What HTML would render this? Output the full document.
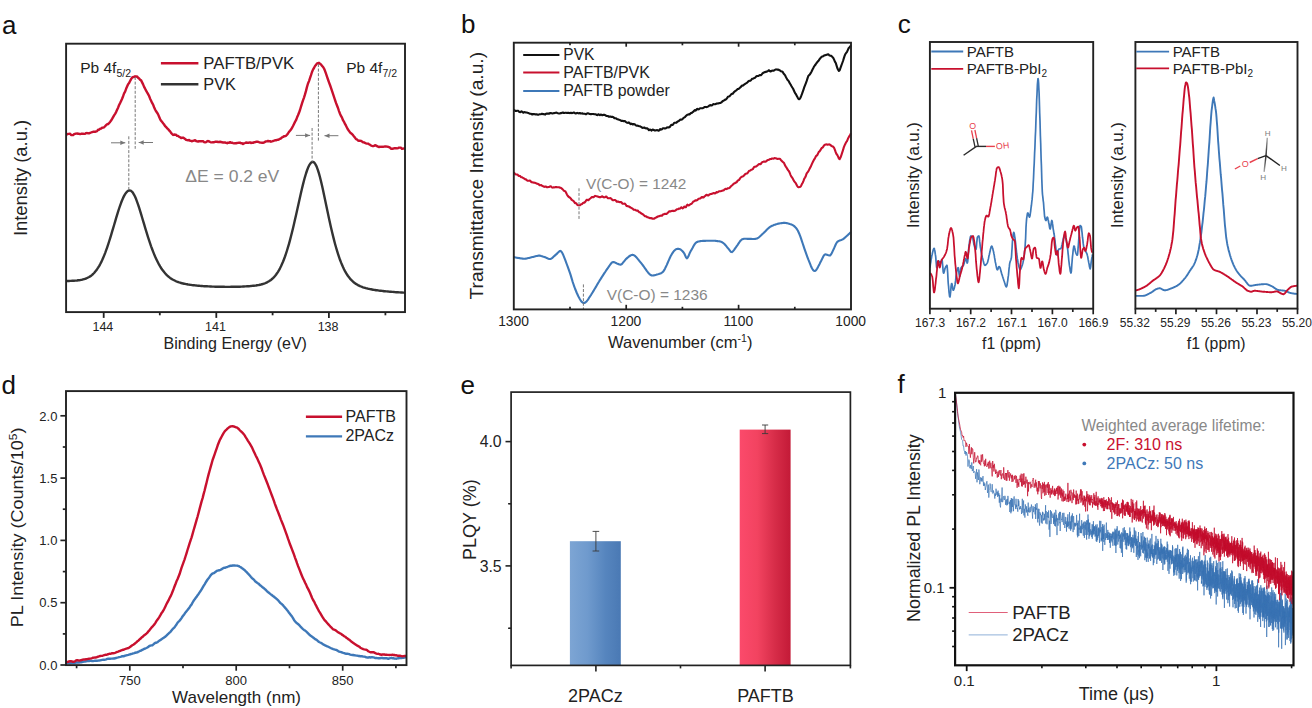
<!DOCTYPE html>
<html lang="en"><head><meta charset="utf-8"><title>Figure</title>
<style>
html,body{margin:0;padding:0;background:#fff;}
svg{display:block;font-family:'Liberation Sans', Arial, Helvetica, sans-serif;}
text{white-space:pre;}
</style></head><body>
<svg width="1312" height="708" viewBox="0 0 1312 708">
<rect x="0" y="0" width="1312" height="708" fill="#fff"/>
<g>
<path d="M66.1 281.1L67.1 281L68.1 281L69.1 281L70.1 280.9L71.1 280.9L72.1 280.8L73.1 280.8L74.1 280.7L75.1 280.6L76.1 280.6L77.1 280.5L78.1 280.3L79.1 280.2L80.1 280.1L81.1 279.9L82.1 279.7L83.1 279.4L84.1 279.1L85.1 278.8L86.1 278.5L87.1 278L88.1 277.5L89.1 277L90.1 276.4L91.1 275.7L92.1 274.9L93.1 274L94.1 273L95.1 271.8L96.1 270.6L97.1 269.2L98.1 267.7L99.1 266.1L100.1 264.3L101.1 262.4L102.1 260.3L103.1 258L104.1 255.6L105.1 253.1L106.1 250.4L107.1 247.6L108.1 244.6L109.1 241.5L110.1 238.4L111.1 235.1L112.1 231.7L113.1 228.4L114.1 225L115.1 221.6L116.1 218.2L117.1 214.9L118.1 211.6L119.1 208.5L120.1 205.6L121.1 202.8L122.1 200.2L123.1 197.9L124.1 195.9L125.1 194.1L126.1 192.7L127.1 191.6L128.1 190.8L129.1 190.5L130.1 190.5L131.1 190.9L132.1 191.8L133.1 193.1L134.1 194.8L135.1 196.8L136.1 199.1L137.1 201.8L138.1 204.6L139.1 207.7L140.1 210.8L141.1 214.1L142.1 217.5L143.1 220.8L144.1 224.2L145.1 227.6L146.1 230.9L147.1 234.2L148.1 237.3L149.1 240.4L150.1 243.4L151.1 246.3L152.1 249L153.1 251.6L154.1 254.1L155.1 256.5L156.1 258.7L157.1 260.8L158.1 262.8L159.1 264.7L160.1 266.4L161.1 268L162.1 269.5L163.1 270.8L164.1 272.1L165.1 273.3L166.1 274.4L167.1 275.4L168.1 276.3L169.1 277.1L170.1 277.9L171.1 278.6L172.1 279.2L173.1 279.8L174.1 280.3L175.1 280.8L176.1 281.3L177.1 281.7L178.1 282L179.1 282.4L180.1 282.7L181.1 283L182.1 283.3L183.1 283.5L184.1 283.7L185.1 283.9L186.1 284.1L187.1 284.3L188.1 284.5L189.1 284.6L190.1 284.8L191.1 284.9L192.1 285.1L193.1 285.2L194.1 285.3L195.1 285.4L196.1 285.5L197.1 285.6L198.1 285.7L199.1 285.8L200.1 285.9L201.1 286L202.1 286L203.1 286.1L204.1 286.2L205.1 286.2L206.1 286.3L207.1 286.3L208.1 286.4L209.1 286.4L210.1 286.5L211.1 286.5L212.1 286.6L213.1 286.6L214.1 286.6L215.1 286.7L216.1 286.7L217.1 286.7L218.1 286.8L219.1 286.8L220.1 286.8L221.1 286.8L222.1 286.8L223.1 286.8L224.1 286.8L225.1 286.9L226.1 286.9L227.1 286.9L228.1 286.9L229.1 286.9L230.1 286.9L231.1 286.8L232.1 286.8L233.1 286.8L234.1 286.8L235.1 286.8L236 286.8L237 286.7L238 286.7L239 286.7L240 286.7L241 286.6L242 286.6L243 286.5L244 286.5L245 286.4L246 286.4L247 286.3L248 286.3L249 286.2L250 286.1L251 286L252 285.9L253 285.8L254 285.7L255 285.6L256 285.5L257 285.3L258 285.1L259 285L260 284.7L261 284.5L262 284.2L263 284L264 283.6L265 283.3L266 282.8L267 282.4L268 281.8L269 281.3L270 280.6L271 279.9L272 279L273 278.1L274 277.1L275 276L276 274.7L277 273.3L278 271.8L279 270.1L280 268.3L281 266.3L282 264.1L283 261.8L284 259.2L285 256.5L286 253.6L287 250.5L288 247.2L289 243.8L290 240.1L291 236.3L292 232.3L293 228.2L294 224L295 219.6L296 215.2L297 210.7L298 206.2L299 201.7L300 197.2L301 192.8L302 188.5L303 184.4L304 180.5L305 176.8L306 173.5L307 170.5L308 167.8L309 165.7L310 164L311 162.8L312 162.1L313 161.9L314 162.4L315 163.5L316 165.3L317 167.6L318 170.4L319 173.6L320 177.3L321 181.3L322 185.6L323 190.1L324 194.7L325 199.4L326 204.2L327 209L328 213.7L329 218.4L330 223L331 227.4L332 231.7L333 235.9L334 239.9L335 243.7L336 247.3L337 250.7L338 253.9L339 256.9L340 259.8L341 262.4L342 264.8L343 267.1L344 269.2L345 271.1L346 272.9L347 274.5L348 276L349 277.3L350 278.6L351 279.7L352 280.7L353 281.6L354 282.5L355 283.2L356 283.9L357 284.5L358 285.1L359 285.6L360 286.1L361 286.5L362 286.9L363 287.3L364 287.6L365 287.9L366 288.2L367 288.4L368 288.7L369 288.9L370 289.1L371 289.3L372 289.5L373 289.7L374 289.9L375 290L376 290.2L377 290.3L378 290.4L379 290.6L380 290.7L381 290.8L382 290.9L383 291L384 291.2L385 291.3L386 291.4L387 291.4L388 291.5L389 291.6L390 291.7L391 291.8L392 291.9L393 291.9L394 292L395 292.1L396 292.2L397 292.2L398 292.3L399 292.4L400 292.4L401 292.5L402 292.5L403 292.6L404 292.6L405 292.7" fill="none" stroke="#333" stroke-width="2.4" stroke-linejoin="round" stroke-linecap="butt" />
<path d="M66.1 134.5L67.1 134.3L68.1 133.9L69.1 133.9L70.1 133.7L71.1 135L72.1 135.1L73.1 135.1L74.1 134.1L75.1 133.8L76.1 133.6L77.1 133.5L78.1 133.7L79.1 133.8L80.1 134.1L81.1 133.8L82.1 133.8L83.1 133.8L84.1 133.9L85.1 133.7L86.1 133.1L87.1 133L88.1 133.4L89.1 133.3L90.1 132.9L91.1 132.5L92.1 132.1L93.1 131.8L94.1 131.6L95.1 131.7L96.1 131.5L97.1 131.1L98.1 129.8L99.1 129.7L100.1 128.8L101.1 128.6L102.1 127.8L103.1 127.6L104.1 127.3L105.1 126.2L106.1 125.1L107.1 124.3L108.1 124L109.1 123.1L110.1 121.9L111.1 120.5L112.1 118.9L113.1 117.1L114.1 115.3L115.1 113.8L116.1 112.1L117.1 109.8L118.1 107.7L119.1 105L120.1 103.1L121.1 100.9L122.1 98.8L123.1 96.2L124.1 93.4L125.1 91.7L126.1 88.8L127.1 86.5L128.1 84.3L129.1 83.1L130.1 81L131.1 79.1L132.1 77.6L133.1 77L134.1 77L135.1 76.3L136.1 76.7L137.1 76.4L138.1 77.7L139.1 78.5L140.1 79.8L141.1 80.4L142.1 82.4L143.1 84.4L144.1 86.9L145.1 88.7L146.1 90.6L147.1 92.4L148.1 94.1L149.1 96L150.1 98.7L151.1 100.7L152.1 102.9L153.1 104.6L154.1 107.2L155.1 109.5L156.1 111.3L157.1 112.7L158.1 114.4L159.1 116.8L160.1 119.1L161.1 120.8L162.1 121.9L163.1 123.3L164.1 124.5L165.1 126.1L166.1 127L167.1 128.3L168.1 129.1L169.1 130.4L170.1 131.4L171.1 132.9L172.1 134L173.1 135L174.1 134.5L175.1 134.7L176.1 134.7L177.1 135.9L178.1 135.9L179.1 136.8L180.1 137.3L181.1 138L182.1 137.8L183.1 137.6L184.1 138.2L185.1 138.9L186.1 139.9L187.1 140.1L188.1 140.3L189.1 140L190.1 140.7L191.1 140.9L192.1 141.3L193.1 140.8L194.1 140.6L195.1 140.2L196.1 141L197.1 141.3L198.1 141.6L199.1 141.1L200.1 141.2L201.1 141.2L202.1 141.1L203.1 141.2L204.1 142.1L205.1 142.4L206.1 142.1L207.1 141.3L208.1 141L209.1 141.4L210.1 142L211.1 142.4L212.1 142.4L213.1 142.2L214.1 142.3L215.1 141.8L216.1 141.7L217.1 141.8L218.1 142L219.1 142L220.1 141.8L221.1 142L222.1 142.3L223.1 142.5L224.1 142.5L225.1 142.5L226.1 142.8L227.1 143.3L228.1 142.6L229.1 142.7L230.1 142.1L231.1 142.7L232.1 142.7L233.1 143.1L234.1 143.4L235.1 143.2L236 143.3L237 143L238 142.9L239 142.7L240 142.6L241 143.2L242 143.3L243 144L244 143.4L245 143L246 142.5L247 142.7L248 142.6L249 142.7L250 142.4L251 143L252 142.7L253 142.9L254 142.3L255 142.2L256 141.7L257 141.6L258 141.8L259 142.2L260 142.5L261 142.6L262 142.7L263 142.7L264 142.5L265 141.9L266 141.4L267 141.4L268 140.9L269 141.4L270 141.1L271 141.7L272 141.4L273 141L274 140.7L275 140.3L276 140.3L277 139.9L278 139.8L279 139.4L280 138.8L281 138.4L282 137.4L283 137L284 136.1L285 136.2L286 135.8L287 134.7L288 133.4L289 131.9L290 130.8L291 129.5L292 127.9L293 126L294 123.9L295 121.9L296 120.2L297 117.6L298 115.3L299 112.8L300 110L301 106.7L302 103.4L303 100.3L304 97.6L305 94.4L306 90.9L307 86.9L308 83.5L309 81.1L310 78.1L311 75.2L312 72L313 69.6L314 68L315 66L316 64.9L317 63.4L318 63.3L319 62.8L320 63.7L321 64.4L322 65.9L323 66.8L324 68.5L325 70.8L326 73.6L327 76.6L328 79.5L329 82.3L330 85L331 87.9L332 90.9L333 93.9L334 96.8L335 100L336 102.9L337 105.5L338 108L339 111.1L340 113.7L341 115.9L342 117.6L343 120.2L344 121.8L345 123.9L346 125.7L347 127.7L348 129.6L349 130.9L350 132.4L351 133.3L352 134L353 135.1L354 136.5L355 137.6L356 139.1L357 139.4L358 140.6L359 140.8L360 140.8L361 140.9L362 141.5L363 142.2L364 142.4L365 142.9L366 143.3L367 143.6L368 143.6L369 144.3L370 144.8L371 145.5L372 145.9L373 146.2L374 145.9L375 145.3L376 145.5L377 146.1L378 146.7L379 147L380 146.8L381 146.9L382 146.7L383 146.9L384 146.6L385 146.4L386 146.5L387 146.6L388 146.8L389 147.2L390 147.6L391 148.7L392 148.8L393 148.7L394 148.2L395 148.2L396 148.2L397 148.4L398 148.1L399 147.6L400 147.6L401 147.7L402 148.9L403 148.6L404 148.5L405 148.5" fill="none" stroke="#C8102E" stroke-width="2.4" stroke-linejoin="round" stroke-linecap="butt" />
<line x1="135.2" y1="77" x2="135.2" y2="148.8" stroke="#777" stroke-width="1" stroke-dasharray="3 1.6"/>
<line x1="128.8" y1="136.3" x2="128.8" y2="190" stroke="#777" stroke-width="1" stroke-dasharray="3 1.6"/>
<line x1="318.4" y1="64" x2="318.4" y2="140.9" stroke="#777" stroke-width="1" stroke-dasharray="3 1.6"/>
<line x1="312.1" y1="128" x2="312.1" y2="162" stroke="#777" stroke-width="1" stroke-dasharray="3 1.6"/>
<line x1="111" y1="142.8" x2="125.3" y2="142.8" stroke="#777" stroke-width="1" /><path d="M125.3 142.8 L120.3 140.6 L120.3 145 Z" fill="#777"/>
<line x1="153" y1="142.5" x2="138.7" y2="142.5" stroke="#777" stroke-width="1" /><path d="M138.7 142.5 L143.7 140.3 L143.7 144.7 Z" fill="#777"/>
<line x1="295.9" y1="135.4" x2="310.1" y2="135.4" stroke="#777" stroke-width="1" /><path d="M310.1 135.4 L305.1 133.2 L305.1 137.6 Z" fill="#777"/>
<line x1="338.4" y1="135.7" x2="324.5" y2="135.7" stroke="#777" stroke-width="1" /><path d="M324.5 135.7 L329.5 133.5 L329.5 137.9 Z" fill="#777"/>
<rect x="66.1" y="43.7" width="338.9" height="268.4" fill="none" stroke="#222" stroke-width="1.9"/>
<line x1="103.7" y1="312.1" x2="103.7" y2="317.9" stroke="#222" stroke-width="1.8" />
<text x="102.9" y="331.4" font-size="12.5" fill="#222" text-anchor="middle" >144</text>
<line x1="216.3" y1="312.1" x2="216.3" y2="317.9" stroke="#222" stroke-width="1.8" />
<text x="215.5" y="331.4" font-size="12.5" fill="#222" text-anchor="middle" >141</text>
<line x1="328.9" y1="312.1" x2="328.9" y2="317.9" stroke="#222" stroke-width="1.8" />
<text x="328.1" y="331.4" font-size="12.5" fill="#222" text-anchor="middle" >138</text>
<line x1="159.8" y1="312.1" x2="159.8" y2="315.3" stroke="#222" stroke-width="1.8" />
<line x1="272.6" y1="312.1" x2="272.6" y2="315.3" stroke="#222" stroke-width="1.8" />
<line x1="385.4" y1="312.1" x2="385.4" y2="315.3" stroke="#222" stroke-width="1.8" />
<text x="235.2" y="348.8" font-size="16" fill="#222" text-anchor="middle" textLength="143.5" lengthAdjust="spacingAndGlyphs" >Binding Energy (eV)</text>
<text x="26.7" y="178" font-size="18" fill="#222" text-anchor="middle" transform="rotate(-90 26.7 178)" textLength="116" lengthAdjust="spacingAndGlyphs" >Intensity (a.u.)</text>
<text x="2" y="34" font-size="26" fill="#111" text-anchor="start" >a</text>
<line x1="160.9" y1="63.3" x2="198.4" y2="63.3" stroke="#C8102E" stroke-width="2.4" />
<line x1="160.9" y1="84.3" x2="198.4" y2="84.3" stroke="#333" stroke-width="2.4" />
<text x="203.3" y="69" font-size="16.3" fill="#222" text-anchor="start" textLength="91" lengthAdjust="spacingAndGlyphs" >PAFTB/PVK</text>
<text x="203.3" y="89.9" font-size="16.3" fill="#222" text-anchor="start" >PVK</text>
<text x="80.2" y="72.5" font-size="15.5" fill="#222" text-anchor="start" >Pb 4f<tspan font-size="10.5" dy="4.2">5/2</tspan></text>
<text x="346.2" y="72.5" font-size="15.5" fill="#222" text-anchor="start" >Pb 4f<tspan font-size="10.5" dy="4.2">7/2</tspan></text>
<text x="185.3" y="181.7" font-size="16" fill="#888" text-anchor="start" textLength="94" lengthAdjust="spacingAndGlyphs" >ΔE = 0.2 eV</text>
</g>
<g>
<path d="M513.8 109.7L514.6 110.3L515.4 110.9L516.2 111L517 110.8L517.8 110.7L518.6 111.2L519.4 112L520.2 112.1L521 111.5L521.8 111.4L522.7 112.3L523.5 112.7L524.3 112.1L525.1 112.2L525.9 112.5L526.7 112.5L527.5 112.8L528.3 113L529.1 113.4L529.9 113.8L530.7 113.7L531.5 114L532.3 114.5L533.1 114.1L533.9 114L534.7 114.3L535.5 114.4L536.3 114.3L537.1 114.4L537.9 114.7L538.7 114.6L539.6 114.3L540.4 114.2L541.2 114.1L542 113.8L542.8 114.1L543.6 114L544.4 114.2L545.2 114.6L546 113.7L546.8 113.5L547.6 113.6L548.4 113.5L549.2 113.7L550 113.1L550.8 113L551.6 113.3L552.4 113.5L553.2 113.2L554 113.1L554.8 113L555.6 112.7L556.5 112.6L557.3 113L558.1 113.3L558.9 113.5L559.7 113.5L560.5 113.1L561.3 113.1L562.1 112.7L562.9 112.5L563.7 113L564.5 113L565.3 112.7L566.1 112.8L566.9 113L567.7 112.9L568.5 112.8L569.3 113L570.1 113.1L570.9 112.8L571.7 113.1L572.5 113L573.4 112.6L574.2 112.6L575 113.2L575.8 113.5L576.6 113.1L577.4 112.9L578.2 113.3L579 113.4L579.8 113L580.6 113.5L581.4 113.5L582.2 113.3L583 113.7L583.8 113.7L584.6 113.7L585.4 114.2L586.2 114.1L587 113.5L587.8 113.2L588.6 113.5L589.4 113.9L590.3 114.1L591.1 114.1L591.9 114L592.7 114L593.5 114L594.3 114.3L595.1 114.3L595.9 114.4L596.7 115L597.5 115.1L598.3 114.3L599.1 114.7L599.9 115.2L600.7 114.6L601.5 114.8L602.3 115.2L603.1 114.9L603.9 114.9L604.7 114.9L605.5 115.2L606.3 115.9L607.2 116L608 116.1L608.8 116.8L609.6 116.6L610.4 116.5L611.2 116.9L612 116.9L612.8 116.9L613.6 117.4L614.4 118.1L615.2 118.2L616 118.3L616.8 118.9L617.6 119.2L618.4 119.5L619.2 119.8L620 120L620.8 120.6L621.6 120.9L622.4 120.8L623.2 121.1L624.1 121.1L624.9 121.1L625.7 121.8L626.5 122.3L627.3 122.8L628.1 122.9L628.9 122.4L629.7 123.2L630.5 124.1L631.3 123.6L632.1 124L632.9 124.5L633.7 124L634.5 124.2L635.3 124.8L636.1 125.5L636.9 125.7L637.7 125.6L638.5 126L639.3 126.2L640.1 126.3L641 126.8L641.8 127.5L642.6 127.9L643.4 127.7L644.2 127.5L645 128L645.8 128.4L646.6 128.4L647.4 128.4L648.2 129.3L649 130.2L649.8 129.6L650.6 129.8L651.4 130.6L652.2 129.9L653 129.5L653.8 130.1L654.6 130.4L655.4 130.5L656.2 130.2L657 130.1L657.9 130.4L658.7 130.8L659.5 130L660.3 129L661.1 129.6L661.9 129.3L662.7 128.3L663.5 128.3L664.3 128.4L665.1 128.5L665.9 128.3L666.7 127.6L667.5 127.4L668.3 127.4L669.1 127.4L669.9 126.9L670.7 125.6L671.5 124.8L672.3 125L673.1 124.6L673.9 123.2L674.8 122.7L675.6 122.7L676.4 122.6L677.2 121.9L678 121.2L678.8 121.1L679.6 120.3L680.4 119.5L681.2 119.6L682 119.5L682.8 118.8L683.6 117.9L684.4 117.4L685.2 116.8L686 115.9L686.8 115.2L687.6 114.7L688.4 114.4L689.2 114.5L690 114L690.9 113.1L691.7 113L692.5 112.1L693.3 111.7L694.1 110.8L694.9 110.1L695.7 110.6L696.5 109.6L697.3 108.8L698.1 109.4L698.9 109.3L699.7 108.5L700.5 108.3L701.3 108.2L702.1 108.2L702.9 108.2L703.7 107.7L704.5 107.1L705.3 106.9L706.1 107.1L706.9 107L707.8 106.6L708.6 106.2L709.4 105.5L710.2 105.1L711 105.4L711.8 105.4L712.6 104.8L713.4 104.1L714.2 104.2L715 104.2L715.8 103.9L716.6 103.6L717.4 103.5L718.2 103.4L719 103.3L719.8 103.1L720.6 102.9L721.4 102.4L722.2 101.6L723 100.9L723.8 100.6L724.7 100L725.5 99.5L726.3 99.2L727.1 98.2L727.9 96.8L728.7 96.6L729.5 96.3L730.3 95.4L731.1 94.4L731.9 93.9L732.7 93.8L733.5 92.7L734.3 91.8L735.1 91.2L735.9 90.7L736.7 90L737.5 89.1L738.3 88.9L739.1 88.6L739.9 87.7L740.7 87.2L741.6 86L742.4 85.5L743.2 85.4L744 84.7L744.8 84.2L745.6 83.5L746.4 83.1L747.2 82.6L748 81.7L748.8 81.1L749.6 80.8L750.4 80.7L751.2 80L752 78.9L752.8 78.8L753.6 78.4L754.4 77.9L755.2 77.7L756 76.7L756.8 76.1L757.6 76L758.5 75.9L759.3 75.4L760.1 75L760.9 75.2L761.7 74.5L762.5 73.4L763.3 72.8L764.1 72.4L764.9 72.1L765.7 72L766.5 71.5L767.3 71.5L768.1 70.9L768.9 70.2L769.7 71.1L770.5 71.5L771.3 71L772.1 70.6L772.9 70.8L773.7 70.7L774.5 70.1L775.4 69.6L776.2 69.4L777 69.6L777.8 69.5L778.6 69.8L779.4 70.2L780.2 70.7L781 71.3L781.8 71.5L782.6 71.8L783.4 73.3L784.2 74.2L785 75.1L785.8 76.8L786.6 78.3L787.4 79.7L788.2 80.5L789 81.7L789.8 83.4L790.6 84.5L791.4 86L792.3 87.5L793.1 88.7L793.9 90.5L794.7 92.4L795.5 93.7L796.3 94.9L797.1 96.4L797.9 98L798.7 99.2L799.5 99.2L800.3 98L801.1 96.2L801.9 94.2L802.7 91.9L803.5 89.6L804.3 87.2L805.1 85.2L805.9 83.1L806.7 80.9L807.5 78.4L808.3 76L809.2 75.1L810 74.2L810.8 72.9L811.6 71.5L812.4 69.8L813.2 68.3L814 66.6L814.8 65.5L815.6 64.5L816.4 63.2L817.2 62.3L818 61.2L818.8 60.4L819.6 59.2L820.4 58.1L821.2 57.2L822 56.5L822.8 56.5L823.6 55.9L824.4 55.3L825.2 55.3L826.1 54.9L826.9 54.8L827.7 54.4L828.5 54.4L829.3 55.4L830.1 55.6L830.9 55.7L831.7 56.3L832.5 57.1L833.3 58L834.1 59.6L834.9 61.6L835.7 62.8L836.5 65.4L837.3 68L838.1 69.7L838.9 70.9L839.7 70.2L840.5 67.9L841.3 65.6L842.1 63.5L843 61L843.8 58.4L844.6 55.9L845.4 54L846.2 52.9L847 51.8L847.8 50.1L848.6 48.3L849.4 47.4L850.2 46.5L851 45.2" fill="none" stroke="#111" stroke-width="2.1" stroke-linejoin="round" stroke-linecap="butt" />
<path d="M513.8 172.6L514.6 173.3L515.4 174.3L516.2 174.5L517 174.5L517.8 174.8L518.6 175.9L519.4 175.9L520.2 176.1L521 177.1L521.8 177.2L522.7 177.7L523.5 178.1L524.3 178.6L525.1 179.3L525.9 179.4L526.7 180.1L527.5 180.7L528.3 180.8L529.1 180.7L529.9 180.5L530.7 181.4L531.5 182.1L532.3 182.2L533.1 182.5L533.9 182.6L534.7 182.7L535.5 183L536.3 183.4L537.1 183.8L537.9 183.9L538.7 184.3L539.6 185.3L540.4 185.3L541.2 185L542 185.8L542.8 186.1L543.6 186.5L544.4 186.9L545.2 186.5L546 186.6L546.8 187.2L547.6 187.3L548.4 187L549.2 187L550 186.4L550.8 186.2L551.6 187.1L552.4 187.6L553.2 187.4L554 187.4L554.8 187.2L555.6 187.1L556.5 187.1L557.3 187.2L558.1 187.3L558.9 187.2L559.7 187.6L560.5 187.7L561.3 188.1L562.1 188.9L562.9 189.5L563.7 190.6L564.5 191L565.3 191.2L566.1 192.7L566.9 194.4L567.7 195.8L568.5 196.7L569.3 197.3L570.1 197.7L570.9 198.6L571.7 199.9L572.5 200.3L573.4 200.8L574.2 201.9L575 203.1L575.8 203.1L576.6 203.7L577.4 205L578.2 205.2L579 205.3L579.8 205.3L580.6 204.7L581.4 204.2L582.2 203.9L583 203L583.8 202.6L584.6 202.7L585.4 201.7L586.2 200.3L587 199.7L587.8 200.2L588.6 200.1L589.4 199.1L590.3 198.5L591.1 197.8L591.9 197.1L592.7 197L593.5 197.3L594.3 196.5L595.1 195.9L595.9 196.1L596.7 196.2L597.5 196.4L598.3 196.7L599.1 197.1L599.9 197.1L600.7 197.2L601.5 196.7L602.3 196.3L603.1 197L603.9 197.4L604.7 197.3L605.5 196.8L606.3 196.5L607.2 197.5L608 198.3L608.8 198.2L609.6 198.3L610.4 198.1L611.2 198.6L612 199.6L612.8 200.2L613.6 200.2L614.4 200L615.2 200L616 200.7L616.8 201.8L617.6 201.6L618.4 201.6L619.2 202.1L620 202.3L620.8 202L621.6 202.4L622.4 203.6L623.2 203.7L624.1 203.7L624.9 203.6L625.7 204.6L626.5 206L627.3 206.1L628.1 206.3L628.9 206.5L629.7 207L630.5 207.5L631.3 207.9L632.1 208.4L632.9 208.9L633.7 209.8L634.5 209.8L635.3 209.9L636.1 210.5L636.9 210.6L637.7 210.5L638.5 211.5L639.3 212.3L640.1 212.4L641 213.3L641.8 213.7L642.6 214.1L643.4 214.8L644.2 215.5L645 216.3L645.8 216.3L646.6 216.7L647.4 217.3L648.2 217.4L649 217.7L649.8 218.2L650.6 218.1L651.4 218.1L652.2 218.7L653 218.6L653.8 218.7L654.6 218.4L655.4 217.7L656.2 217.5L657 217L657.9 216.5L658.7 216.2L659.5 216.1L660.3 215.7L661.1 215.6L661.9 215.8L662.7 214.8L663.5 214.2L664.3 214.2L665.1 213.7L665.9 214L666.7 213.9L667.5 213L668.3 212.4L669.1 211.4L669.9 211.3L670.7 211.4L671.5 211L672.3 210.9L673.1 210.8L673.9 211.1L674.8 210.8L675.6 210.3L676.4 209.7L677.2 209.2L678 209.2L678.8 208.5L679.6 208.6L680.4 208.5L681.2 207.3L682 207.7L682.8 208.4L683.6 207.5L684.4 206.5L685.2 207.2L686 207.1L686.8 205.3L687.6 204.7L688.4 205.4L689.2 205.3L690 204.4L690.9 204.1L691.7 203.6L692.5 202.6L693.3 201.5L694.1 201.2L694.9 200.8L695.7 200.2L696.5 200.4L697.3 200.1L698.1 199.2L698.9 198.7L699.7 198.5L700.5 198.4L701.3 197.5L702.1 197L702.9 197.5L703.7 197.4L704.5 196.4L705.3 195.8L706.1 195.1L706.9 194.8L707.8 195.5L708.6 195.4L709.4 194.5L710.2 194.1L711 194L711.8 193.9L712.6 193.5L713.4 193.1L714.2 193.1L715 193.5L715.8 192.9L716.6 192.1L717.4 192.4L718.2 191.9L719 191.3L719.8 191.3L720.6 191.3L721.4 191.1L722.2 190.6L723 190.5L723.8 190.2L724.7 189.3L725.5 188.8L726.3 189.1L727.1 188.8L727.9 188.2L728.7 188.3L729.5 187.9L730.3 187.1L731.1 186.1L731.9 185.5L732.7 184.8L733.5 183.8L734.3 183.6L735.1 183L735.9 182.5L736.7 182.2L737.5 180.9L738.3 180.2L739.1 179.9L739.9 178.7L740.7 177.5L741.6 176.9L742.4 176.5L743.2 176.2L744 175.5L744.8 174.5L745.6 173.7L746.4 173.6L747.2 173.4L748 172.5L748.8 171.2L749.6 170.7L750.4 170.5L751.2 169.8L752 169.5L752.8 169.1L753.6 167.8L754.4 166.7L755.2 166.8L756 166.6L756.8 166L757.6 165.4L758.5 164.4L759.3 164L760.1 164.3L760.9 163.8L761.7 162.6L762.5 162L763.3 161.8L764.1 161.5L764.9 161.6L765.7 161.7L766.5 161.2L767.3 160.2L768.1 159.9L768.9 159.7L769.7 159.3L770.5 159L771.3 159L772.1 158.5L772.9 158.5L773.7 158.6L774.5 158.1L775.4 158.3L776.2 158.4L777 158.7L777.8 159L778.6 158.8L779.4 158.8L780.2 159.1L781 160.2L781.8 160.9L782.6 161.7L783.4 162.4L784.2 163.3L785 165.3L785.8 166.6L786.6 167.7L787.4 169.2L788.2 170.4L789 171.3L789.8 173L790.6 175.1L791.4 176.7L792.3 177.8L793.1 179.2L793.9 180.9L794.7 182L795.5 182.7L796.3 184.2L797.1 185.8L797.9 186.8L798.7 187.3L799.5 187.1L800.3 186.8L801.1 185.8L801.9 184.1L802.7 182.7L803.5 180.9L804.3 178.7L805.1 177.5L805.9 175.7L806.7 173.4L807.5 172.4L808.3 171.4L809.2 169.6L810 168.1L810.8 166.6L811.6 164.7L812.4 162.9L813.2 161.2L814 159.7L814.8 158.6L815.6 156.9L816.4 155.7L817.2 155.3L818 153.6L818.8 151.9L819.6 151.3L820.4 150.2L821.2 148.7L822 147.8L822.8 147.3L823.6 146.1L824.4 145L825.2 144.6L826.1 144.5L826.9 144.4L827.7 144.7L828.5 144.5L829.3 144.4L830.1 144.8L830.9 145.4L831.7 146.1L832.5 146.4L833.3 146.8L834.1 147.9L834.9 149.9L835.7 152.2L836.5 154L837.3 155L838.1 156.6L838.9 158.6L839.7 159.1L840.5 157.6L841.3 155.3L842.1 152.9L843 150.2L843.8 147.4L844.6 145.4L845.4 143.7L846.2 142.1L847 141.1L847.8 139.2L848.6 137.4L849.4 136L850.2 134.8L851 133.3" fill="none" stroke="#C8102E" stroke-width="2.1" stroke-linejoin="round" stroke-linecap="butt" />
<path d="M513.8 257L514.6 257.2L515.4 257.4L516.2 257.6L517 257.7L517.8 257.9L518.6 258L519.4 258.1L520.2 258.2L521 258.4L521.8 258.5L522.7 258.6L523.5 258.7L524.3 258.7L525.1 258.7L525.9 258.6L526.7 258.5L527.5 258.3L528.3 258.1L529.1 257.9L529.9 257.7L530.7 257.5L531.5 257.3L532.3 257.1L533.1 256.9L533.9 256.7L534.7 256.5L535.5 256.3L536.3 256.1L537.1 255.9L537.9 255.7L538.7 255.6L539.6 255.6L540.4 255.7L541.2 256L542 256.2L542.8 256.5L543.6 256.7L544.4 256.9L545.2 257.2L546 257.6L546.8 258L547.6 258.4L548.4 258.8L549.2 259L550 259L550.8 258.9L551.6 258.4L552.4 257.8L553.2 257.1L554 256.3L554.8 255.6L555.6 254.9L556.5 254.2L557.3 253.3L558.1 252.5L558.9 251.8L559.7 251.1L560.5 250.9L561.3 251.5L562.1 252.6L562.9 254.2L563.7 256.1L564.5 258.1L565.3 260.2L566.1 262.3L566.9 264.5L567.7 266.6L568.5 268.9L569.3 271.1L570.1 273.4L570.9 275.9L571.7 278.6L572.5 281.3L573.4 284L574.2 286.3L575 288.5L575.8 290.5L576.6 292.5L577.4 294.3L578.2 296L579 297.6L579.8 299L580.6 300.3L581.4 301.4L582.2 302.2L583 302.8L583.8 303L584.6 302.9L585.4 302.5L586.2 301.8L587 300.8L587.8 299.8L588.6 298.6L589.4 297.3L590.3 296L591.1 294.8L591.9 293.5L592.7 292.2L593.5 290.9L594.3 289.5L595.1 288.2L595.9 286.9L596.7 285.5L597.5 284.1L598.3 282.8L599.1 281.5L599.9 280.1L600.7 278.9L601.5 277.6L602.3 276.3L603.1 275.1L603.9 273.9L604.7 272.7L605.5 271.5L606.3 270.2L607.2 269L608 267.8L608.8 266.7L609.6 265.5L610.4 264.4L611.2 263.3L612 262.5L612.8 262.1L613.6 262L614.4 262.2L615.2 262.6L616 263L616.8 263.4L617.6 263.7L618.4 264.1L619.2 264.4L620 264.6L620.8 264.6L621.6 264.2L622.4 263.4L623.2 262.4L624.1 261.3L624.9 260.3L625.7 259.3L626.5 258.6L627.3 257.9L628.1 257.2L628.9 256.5L629.7 256L630.5 255.5L631.3 255.1L632.1 254.9L632.9 254.9L633.7 255.1L634.5 255.6L635.3 256.2L636.1 257L636.9 257.9L637.7 258.9L638.5 259.8L639.3 260.8L640.1 261.8L641 262.9L641.8 263.9L642.6 265L643.4 266L644.2 267.2L645 268.3L645.8 269.4L646.6 270.6L647.4 271.7L648.2 272.7L649 273.6L649.8 274.4L650.6 275L651.4 275.4L652.2 275.5L653 275.5L653.8 275.4L654.6 275.3L655.4 275L656.2 274.8L657 274.5L657.9 274.3L658.7 274.1L659.5 273.8L660.3 273.6L661.1 273.2L661.9 272.7L662.7 272.1L663.5 271.2L664.3 269.9L665.1 268.4L665.9 266.7L666.7 265.1L667.5 263.3L668.3 261.4L669.1 259.6L669.9 257.8L670.7 256.1L671.5 254.7L672.3 253.3L673.1 252.1L673.9 251.1L674.8 250.2L675.6 249.5L676.4 249.1L677.2 248.9L678 248.8L678.8 248.9L679.6 249.1L680.4 249.4L681.2 250L682 250.7L682.8 251.5L683.6 252.5L684.4 253.7L685.2 255.5L686 257.4L686.8 258.3L687.6 257.7L688.4 256.3L689.2 254.4L690 252.4L690.9 250.8L691.7 249.4L692.5 248L693.3 246.5L694.1 245.1L694.9 243.9L695.7 242.9L696.5 242.3L697.3 241.9L698.1 241.6L698.9 241.4L699.7 241.2L700.5 241.1L701.3 241L702.1 241L702.9 240.9L703.7 240.9L704.5 240.9L705.3 240.9L706.1 240.8L706.9 240.8L707.8 240.8L708.6 240.7L709.4 240.7L710.2 240.7L711 240.7L711.8 240.7L712.6 240.7L713.4 240.7L714.2 240.7L715 240.8L715.8 240.9L716.6 241L717.4 241.1L718.2 241.2L719 241.3L719.8 241.4L720.6 241.6L721.4 241.9L722.2 242.3L723 242.8L723.8 243.5L724.7 244.3L725.5 245.2L726.3 246.2L727.1 247.2L727.9 248.1L728.7 249L729.5 250.1L730.3 251.2L731.1 251.9L731.9 252.1L732.7 251.5L733.5 250.6L734.3 249.6L735.1 248.4L735.9 247.3L736.7 246.2L737.5 245.1L738.3 243.8L739.1 242.6L739.9 241.5L740.7 240.5L741.6 239.7L742.4 239.2L743.2 238.9L744 238.7L744.8 238.7L745.6 238.7L746.4 238.8L747.2 238.9L748 238.9L748.8 238.9L749.6 238.9L750.4 238.9L751.2 238.9L752 239L752.8 239L753.6 239L754.4 239L755.2 238.9L756 238.8L756.8 238.6L757.6 238.2L758.5 237.6L759.3 237L760.1 236.3L760.9 235.5L761.7 234.8L762.5 234L763.3 233.3L764.1 232.5L764.9 231.7L765.7 230.9L766.5 230.1L767.3 229.3L768.1 228.5L768.9 227.8L769.7 227.2L770.5 226.7L771.3 226.2L772.1 225.8L772.9 225.5L773.7 225.1L774.5 224.8L775.4 224.6L776.2 224.3L777 224.1L777.8 223.8L778.6 223.6L779.4 223.5L780.2 223.3L781 223.2L781.8 223.1L782.6 223L783.4 222.9L784.2 222.9L785 222.9L785.8 223L786.6 223.1L787.4 223.3L788.2 223.5L789 223.7L789.8 224L790.6 224.2L791.4 224.5L792.3 224.9L793.1 225.4L793.9 225.9L794.7 226.6L795.5 227.4L796.3 228.3L797.1 229.4L797.9 230.8L798.7 232.5L799.5 234.3L800.3 236.4L801.1 238.7L801.9 241.1L802.7 243.5L803.5 245.9L804.3 248.3L805.1 250.6L805.9 252.9L806.7 255.1L807.5 257.3L808.3 259.4L809.2 261.6L810 263.7L810.8 265.7L811.6 267.5L812.4 269L813.2 270.2L814 270.8L814.8 271L815.6 270.6L816.4 269.7L817.2 268.5L818 267L818.8 265.4L819.6 263.9L820.4 262.3L821.2 260.8L822 259.1L822.8 257.5L823.6 255.9L824.4 254.9L825.2 254.4L826.1 254.5L826.9 254.8L827.7 255.1L828.5 255.3L829.3 255.5L830.1 255.4L830.9 254.6L831.7 253.3L832.5 251.6L833.3 249.9L834.1 248.2L834.9 246.3L835.7 244.5L836.5 243L837.3 241.9L838.1 241.3L838.9 240.9L839.7 240.5L840.5 240.2L841.3 240L842.1 239.6L843 239.2L843.8 238.6L844.6 237.9L845.4 237.2L846.2 236.5L847 235.8L847.8 235.1L848.6 234.3L849.4 233.6L850.2 232.8L851 232" fill="none" stroke="#3E78B8" stroke-width="2.1" stroke-linejoin="round" stroke-linecap="butt" />
<line x1="579" y1="188.3" x2="579" y2="219.3" stroke="#777" stroke-width="1" stroke-dasharray="3 1.6"/>
<line x1="583.4" y1="284.4" x2="583.4" y2="309.4" stroke="#777" stroke-width="1" stroke-dasharray="3 1.6"/>
<text x="585.9" y="189.2" font-size="15" fill="#888" text-anchor="start" textLength="100.5" lengthAdjust="spacingAndGlyphs" >V(C-O) = 1242</text>
<text x="606.7" y="299.8" font-size="15" fill="#888" text-anchor="start" textLength="100.9" lengthAdjust="spacingAndGlyphs" >V(C-O) = 1236</text>
<rect x="513.8" y="42.7" width="337.2" height="266.7" fill="none" stroke="#222" stroke-width="1.9"/>
<text x="513.5" y="326" font-size="13.8" fill="#222" text-anchor="middle" >1300</text>
<line x1="626.2" y1="309.4" x2="626.2" y2="304.8" stroke="#222" stroke-width="1.7" />
<line x1="626.2" y1="42.7" x2="626.2" y2="46.7" stroke="#222" stroke-width="1.7" />
<text x="625.9" y="326" font-size="13.8" fill="#222" text-anchor="middle" >1200</text>
<line x1="738.6" y1="309.4" x2="738.6" y2="304.8" stroke="#222" stroke-width="1.7" />
<line x1="738.6" y1="42.7" x2="738.6" y2="46.7" stroke="#222" stroke-width="1.7" />
<text x="738.3" y="326" font-size="13.8" fill="#222" text-anchor="middle" >1100</text>
<text x="850.7" y="326" font-size="13.8" fill="#222" text-anchor="middle" >1000</text>
<line x1="570" y1="309.4" x2="570" y2="306.8" stroke="#222" stroke-width="1.7" />
<line x1="570" y1="42.7" x2="570" y2="45.3" stroke="#222" stroke-width="1.7" />
<line x1="682.4" y1="309.4" x2="682.4" y2="306.8" stroke="#222" stroke-width="1.7" />
<line x1="682.4" y1="42.7" x2="682.4" y2="45.3" stroke="#222" stroke-width="1.7" />
<line x1="794.8" y1="309.4" x2="794.8" y2="306.8" stroke="#222" stroke-width="1.7" />
<line x1="794.8" y1="42.7" x2="794.8" y2="45.3" stroke="#222" stroke-width="1.7" />
<text x="608" y="348.2" font-size="16.5" fill="#222" text-anchor="start" >Wavenumber (cm<tspan font-size="10.5" dy="-6">-1</tspan><tspan dy="6">)</tspan></text>
<text x="483" y="175.7" font-size="18" fill="#222" text-anchor="middle" transform="rotate(-90 483 175.7)" textLength="247.5" lengthAdjust="spacingAndGlyphs" >Transmittance Intensity (a.u.)</text>
<text x="461" y="33" font-size="26" fill="#111" text-anchor="start" >b</text>
<line x1="523.2" y1="55.1" x2="559.4" y2="55.1" stroke="#111" stroke-width="2.0" />
<line x1="523.2" y1="72.6" x2="559.4" y2="72.6" stroke="#C8102E" stroke-width="2.0" />
<line x1="523.2" y1="91" x2="559.4" y2="91" stroke="#3E78B8" stroke-width="2.0" />
<text x="563.3" y="60" font-size="15.6" fill="#222" text-anchor="start" >PVK</text>
<text x="563.3" y="77.8" font-size="15.6" fill="#222" text-anchor="start" textLength="86.6" lengthAdjust="spacingAndGlyphs" >PAFTB/PVK</text>
<text x="563.3" y="95.9" font-size="15.6" fill="#222" text-anchor="start" textLength="106.5" lengthAdjust="spacingAndGlyphs" >PAFTB powder</text>
</g>
<g>
<path d="M930 267.6L930.2 265.9L930.4 264.2L930.7 262.6L930.9 261.1L931.1 259.6L931.4 258.3L931.6 257L931.8 255.8L932.1 254.7L932.3 253.8L932.5 252.8L932.8 251.8L933 250.8L933.2 250L933.5 249.2L933.7 248.7L933.9 248.4L934.2 248.4L934.4 248.9L934.6 249.9L934.9 251.1L935.1 252.6L935.3 254.2L935.6 255.8L935.8 257.7L936 260.6L936.3 263.7L936.5 266.3L936.7 267.6L937 267.4L937.2 266.6L937.4 265.6L937.6 264.3L937.9 263L938.1 261.9L938.3 261.1L938.6 260.8L938.8 260.9L939 261.2L939.3 261.6L939.5 262L939.7 262.4L940 262.8L940.2 263L940.4 263.1L940.7 262.8L940.9 262.2L941.1 261.5L941.4 260.7L941.6 260.1L941.8 259.7L942.1 259.9L942.3 261.3L942.5 263.7L942.8 266.6L943 269.5L943.2 271.9L943.5 273.1L943.7 273.2L943.9 272.7L944.2 272L944.4 271.1L944.6 270.1L944.9 269.1L945.1 268.3L945.3 267.7L945.6 267.2L945.8 266.7L946 266.3L946.3 265.9L946.5 265.6L946.7 265.4L947 265.3L947.2 266.6L947.4 269.4L947.7 273.2L947.9 277.4L948.1 281.2L948.3 284L948.6 286.6L948.8 289.3L949 291.9L949.3 294.1L949.5 295.8L949.7 296.8L950 296.9L950.2 295.8L950.4 293.8L950.7 291.4L950.9 288.8L951.1 286.4L951.4 284.5L951.6 283.5L951.8 283.6L952.1 284.4L952.3 285.7L952.5 287.2L952.8 288.6L953 289.7L953.2 290.2L953.5 290.1L953.7 289.7L953.9 289.2L954.2 288.4L954.4 287.5L954.6 286.6L954.9 285.6L955.1 284.4L955.3 282.7L955.6 280.7L955.8 278.6L956 276.5L956.3 274.6L956.5 273L956.7 271.9L957 270.9L957.2 270L957.4 269.2L957.7 268.4L957.9 267.9L958.1 267.6L958.3 267.8L958.6 269L958.8 271.1L959 273.4L959.3 275.4L959.5 276.5L959.7 276.4L960 275.5L960.2 273.9L960.4 272.1L960.7 270.2L960.9 268.7L961.1 267.7L961.4 267.3L961.6 267L961.8 266.8L962.1 266.6L962.3 266.4L962.5 266.2L962.8 266.1L963 265.9L963.2 265.6L963.5 265.3L963.7 264.8L963.9 264.1L964.2 263.2L964.4 262.3L964.6 261.3L964.9 260.4L965.1 259.6L965.3 259L965.6 258.6L965.8 258.6L966 259L966.3 259.8L966.5 260.8L966.7 261.7L967 262.6L967.2 263L967.4 262.9L967.7 261.6L967.9 259.4L968.1 256.5L968.3 253.4L968.6 250.3L968.8 247.5L969 245.3L969.3 243.7L969.5 242.1L969.7 240.6L970 239.1L970.2 237.8L970.4 236.8L970.7 236.2L970.9 235.9L971.1 236L971.4 236L971.6 236.2L971.8 236.4L972.1 236.6L972.3 236.8L972.5 237.1L972.8 237.8L973 238.9L973.2 240.3L973.5 241.8L973.7 243.2L973.9 244.4L974.2 245.3L974.4 246.1L974.6 246.9L974.9 247.7L975.1 248.3L975.3 248.9L975.6 249.3L975.8 249.5L976 249.2L976.3 247.8L976.5 245.6L976.7 243L977 240.5L977.2 238.4L977.4 237.2L977.7 236.8L977.9 236.5L978.1 236.3L978.3 236.1L978.6 236L978.8 235.9L979 236.4L979.3 237.7L979.5 239.5L979.7 241.7L980 243.9L980.2 245.9L980.4 247.5L980.7 248.8L980.9 250.2L981.1 251.4L981.4 252.7L981.6 253.9L981.8 255L982.1 256.1L982.3 257.1L982.5 258L982.8 258.9L983 259.9L983.2 260.8L983.5 261.7L983.7 262.6L983.9 263.5L984.2 264.2L984.4 264.7L984.6 265.1L984.9 265.3L985.1 265.3L985.3 265.2L985.6 265.1L985.8 264.9L986 264.7L986.3 264.4L986.5 264.1L986.7 263.8L987 263.4L987.2 263.1L987.4 262.6L987.7 261.9L987.9 261L988.1 260.1L988.4 259L988.6 257.9L988.8 256.8L989 255.7L989.3 254.7L989.5 253.8L989.7 252.8L990 251.8L990.2 250.7L990.4 249.6L990.7 248.6L990.9 247.7L991.1 247L991.4 246.4L991.6 246.1L991.8 246.2L992.1 246.5L992.3 247L992.5 247.8L992.8 248.6L993 249.6L993.2 250.6L993.5 251.5L993.7 252.5L993.9 253.7L994.2 255L994.4 256.4L994.6 257.9L994.9 259.3L995.1 260.7L995.3 262L995.6 263.1L995.8 264.2L996 265.4L996.3 266.5L996.5 267.6L996.7 268.6L997 269.3L997.2 269.7L997.4 269.8L997.7 269.6L997.9 269.2L998.1 268.6L998.4 267.9L998.6 267.3L998.8 266.8L999 266.5L999.3 266.5L999.5 266.7L999.7 267.1L1000 267.6L1000.2 268.3L1000.4 269.1L1000.7 270L1000.9 270.8L1001.1 271.8L1001.4 272.6L1001.6 273.5L1001.8 274.2L1002.1 274.9L1002.3 275.6L1002.5 276.3L1002.8 277.1L1003 277.8L1003.2 278.5L1003.5 279.2L1003.7 279.9L1003.9 280.6L1004.2 281.2L1004.4 281.9L1004.6 282.6L1004.9 283.4L1005.1 284.2L1005.3 284.9L1005.6 285.6L1005.8 286.1L1006 286.5L1006.3 286.8L1006.5 286.8L1006.7 286.3L1007 285.4L1007.2 284.1L1007.4 282.5L1007.7 280.8L1007.9 279.1L1008.1 277.3L1008.4 275.7L1008.6 273.7L1008.8 271.4L1009 269.1L1009.3 266.9L1009.5 264.9L1009.7 263.4L1010 262.3L1010.2 261.5L1010.4 260.9L1010.7 260.3L1010.9 259.7L1011.1 258.8L1011.4 257.7L1011.6 255.4L1011.8 251.8L1012.1 247.7L1012.3 243.8L1012.5 240.9L1012.8 238.6L1013 236.4L1013.2 234.4L1013.5 233L1013.7 232.4L1013.9 232.6L1014.2 233.4L1014.4 234.6L1014.6 236.1L1014.9 237.7L1015.1 239.2L1015.3 240.9L1015.6 243L1015.8 245.2L1016 247.6L1016.3 249.9L1016.5 252.1L1016.7 254L1017 255.7L1017.2 257.3L1017.4 258.9L1017.7 260.3L1017.9 261.7L1018.1 263L1018.4 264.1L1018.6 265L1018.8 266L1019 266.9L1019.3 267.8L1019.5 268.6L1019.7 269.2L1020 269.6L1020.2 269.7L1020.4 269.5L1020.7 269.2L1020.9 268.8L1021.1 268.2L1021.4 267.6L1021.6 267L1021.8 266.3L1022.1 265.7L1022.3 265L1022.5 264.2L1022.8 263.3L1023 262.4L1023.2 261.3L1023.5 260.2L1023.7 258.9L1023.9 257.6L1024.2 255.9L1024.4 254L1024.6 251.7L1024.9 249.1L1025.1 246.3L1025.3 243.1L1025.6 238.5L1025.8 233L1026 227.4L1026.3 222.8L1026.5 220.1L1026.7 218.1L1027 216.3L1027.2 214.8L1027.4 213.6L1027.7 213L1027.9 212.9L1028.1 213.3L1028.4 214L1028.6 214.8L1028.8 215.6L1029.1 216.4L1029.3 216.9L1029.5 217.1L1029.7 216.7L1030 215.8L1030.2 214.5L1030.4 212.8L1030.7 211L1030.9 209.1L1031.1 207.3L1031.4 205.5L1031.6 203.6L1031.8 201.6L1032.1 199.4L1032.3 197L1032.5 194.4L1032.8 191.5L1033 188.1L1033.2 183.7L1033.5 178.8L1033.7 173.9L1033.9 168.9L1034.2 163.8L1034.4 158.6L1034.6 153.3L1034.9 147.9L1035.1 142.3L1035.3 136.7L1035.6 131L1035.8 125.1L1036 118.9L1036.3 112.3L1036.5 105.8L1036.7 99.8L1037 94.4L1037.2 89.1L1037.4 84.6L1037.7 81.3L1037.9 78.8L1038.1 78.7L1038.4 80.5L1038.6 83.1L1038.8 87.5L1039.1 93.3L1039.3 99.6L1039.5 106.1L1039.7 113.3L1040 120.9L1040.2 128.4L1040.4 135.9L1040.7 143.5L1040.9 151.1L1041.1 158.4L1041.4 165.4L1041.6 172.3L1041.8 179.3L1042.1 187L1042.3 191.6L1042.5 194.5L1042.8 196.8L1043 198.7L1043.2 200.6L1043.5 202.6L1043.7 205.2L1043.9 208.3L1044.2 211.4L1044.4 214.3L1044.6 216.5L1044.9 217.7L1045.1 218.6L1045.3 219.5L1045.6 220.1L1045.8 220.4L1046 220.5L1046.3 220L1046.5 219.2L1046.7 218.4L1047 217.6L1047.2 217.2L1047.4 217.2L1047.7 217.7L1047.9 218.6L1048.1 219.7L1048.4 220.9L1048.6 222L1048.8 223L1049.1 224.3L1049.3 225.7L1049.5 227L1049.7 228.1L1050 228.8L1050.2 229L1050.4 228.4L1050.7 227.1L1050.9 225.5L1051.1 223.8L1051.4 222.2L1051.6 221L1051.8 220.5L1052.1 220.9L1052.3 222L1052.5 223.7L1052.8 225.6L1053 227.5L1053.2 229.1L1053.5 230.5L1053.7 231.9L1053.9 233.3L1054.2 234.7L1054.4 236.2L1054.6 237.9L1054.9 239.8L1055.1 241.9L1055.3 244.1L1055.6 246.1L1055.8 247.9L1056 249.6L1056.3 251.3L1056.5 252.9L1056.7 254.3L1057 255.1L1057.2 255.2L1057.4 254.7L1057.7 253.7L1057.9 252.4L1058.1 251.1L1058.4 250L1058.6 249.4L1058.8 249.2L1059.1 249.1L1059.3 249L1059.5 248.9L1059.7 248.9L1060 248.8L1060.2 248.8L1060.4 248.7L1060.7 248.6L1060.9 248.4L1061.1 248L1061.4 247.3L1061.6 246.5L1061.8 245.5L1062.1 244.5L1062.3 243.5L1062.5 242.5L1062.8 241.6L1063 240.4L1063.2 239.1L1063.5 238L1063.7 236.9L1063.9 236.2L1064.2 235.8L1064.4 235.8L1064.6 236L1064.9 236.4L1065.1 236.9L1065.3 237.4L1065.6 238.1L1065.8 238.7L1066 239.5L1066.3 240.4L1066.5 241.6L1066.7 243L1067 244.5L1067.2 246.2L1067.4 247.9L1067.7 249.5L1067.9 251.4L1068.1 253.6L1068.4 255.9L1068.6 258.2L1068.8 260.5L1069.1 262.6L1069.3 264.3L1069.5 265.9L1069.8 267.5L1070 269L1070.2 270.4L1070.4 271.6L1070.7 272.5L1070.9 273L1071.1 272.8L1071.4 271L1071.6 268.1L1071.8 264.7L1072.1 261.2L1072.3 258.4L1072.5 256.3L1072.8 254.1L1073 251.9L1073.2 249.9L1073.5 248.1L1073.7 246.8L1073.9 246.1L1074.2 246L1074.4 246.5L1074.6 247.4L1074.9 248.6L1075.1 249.8L1075.3 251.1L1075.6 252.1L1075.8 252.8L1076 253.3L1076.3 253.9L1076.5 254.4L1076.7 254.8L1077 255.1L1077.2 255.2L1077.4 255L1077.7 253.4L1077.9 250.9L1078.1 247.8L1078.4 244.5L1078.6 241.5L1078.8 238.7L1079.1 235.3L1079.3 231.9L1079.5 228.8L1079.8 226.5L1080 225.6L1080.2 225.6L1080.4 225.7L1080.7 225.9L1080.9 226.1L1081.1 226.4L1081.4 227L1081.6 228.6L1081.8 230.6L1082.1 233L1082.3 235.4L1082.5 237.5L1082.8 239.4L1083 241.4L1083.2 243.4L1083.5 245.3L1083.7 246.8L1083.9 247.8L1084.2 248.5L1084.4 249L1084.6 249.5L1084.9 250L1085.1 250.4L1085.3 250.8L1085.6 251.3L1085.8 251.7L1086 252.1L1086.3 252.5L1086.5 253L1086.7 253.4L1087 254L1087.2 254.6L1087.4 255.5L1087.7 256.6L1087.9 257.8L1088.1 259.2L1088.4 260.5L1088.6 261.8L1088.8 262.9L1089.1 264.1L1089.3 265.5L1089.5 266.8L1089.8 267.9L1090 268.6L1090.2 268.8L1090.4 268L1090.7 266.5L1090.9 264.6L1091.1 262.7L1091.4 261L1091.6 259.7L1091.8 258.3L1092.1 257L1092.3 255.7L1092.5 254.4" fill="none" stroke="#3E78B8" stroke-width="1.7" stroke-linejoin="round" stroke-linecap="butt" />
<path d="M930 273.2L930.2 273.3L930.4 273.4L930.7 273.6L930.9 273.9L931.1 274.3L931.4 274.7L931.6 275.1L931.8 275.6L932.1 276.2L932.3 276.9L932.5 278.3L932.8 280.6L933 283.4L933.2 286.3L933.5 288.9L933.7 291.1L933.9 292.3L934.2 292.4L934.4 291.8L934.6 290.7L934.9 289.3L935.1 287.5L935.3 285.5L935.6 283.3L935.8 281.2L936 279L936.3 277.1L936.5 275.1L936.7 272.6L937 270L937.2 267.3L937.4 264.8L937.6 262.7L937.9 261.3L938.1 260.8L938.3 261.2L938.6 262.2L938.8 263.6L939 265.1L939.3 266.4L939.5 267.3L939.7 267.6L940 267.1L940.2 266.2L940.4 265L940.7 263.6L940.9 262.3L941.1 261.2L941.4 260.6L941.6 260.1L941.8 259.7L942.1 259.3L942.3 259L942.5 258.7L942.8 258.4L943 258.1L943.2 257.8L943.5 257.5L943.7 257.2L943.9 256.8L944.2 256.4L944.4 256L944.6 255.5L944.9 255.1L945.1 254.6L945.3 254.1L945.6 253.6L945.8 253.1L946 252.5L946.3 251.8L946.5 251.1L946.7 250.3L947 249.4L947.2 248.2L947.4 246.6L947.7 244.6L947.9 242.5L948.1 240.5L948.3 238.5L948.6 236.9L948.8 235.6L949 234.5L949.3 233.3L949.5 232.2L949.7 231.2L950 230.2L950.2 229.4L950.4 228.7L950.7 228.3L950.9 228L951.1 228.1L951.4 228.3L951.6 228.7L951.8 229.3L952.1 230.1L952.3 231L952.5 232L952.8 233.2L953 234.4L953.2 235.7L953.5 237.5L953.7 240.4L953.9 243.9L954.2 247.8L954.4 251.8L954.6 255.5L954.9 258.7L955.1 261.4L955.3 264L955.6 266.5L955.8 269L956 271.2L956.3 273.4L956.5 275.3L956.7 277.1L957 279L957.2 280.8L957.4 282.3L957.7 283.3L957.9 283.4L958.1 283.1L958.3 282.6L958.6 281.8L958.8 280.9L959 279.9L959.3 278.8L959.5 277.7L959.7 276.7L960 275.8L960.2 275L960.4 274.2L960.7 273.4L960.9 272.6L961.1 271.9L961.4 271.1L961.6 270.3L961.8 269.4L962.1 268.6L962.3 267.6L962.5 266.6L962.8 265.5L963 264.4L963.2 263.1L963.5 261.9L963.7 260.7L963.9 259.4L964.2 258.2L964.4 257.1L964.6 256L964.9 254.9L965.1 253.6L965.3 252.6L965.6 251.9L965.8 251.8L966 252.3L966.3 253.3L966.5 254.5L966.7 255.8L967 257L967.2 258L967.4 258.5L967.7 258.4L967.9 257.4L968.1 255.7L968.3 253.6L968.6 251.4L968.8 249.3L969 247.5L969.3 246.2L969.5 244.9L969.7 243.5L970 242.2L970.2 241L970.4 239.9L970.7 238.9L970.9 238.1L971.1 237.4L971.4 237L971.6 236.8L971.8 236.5L972.1 236.3L972.3 236.2L972.5 236L972.8 236L973 235.9L973.2 236.3L973.5 237L973.7 238L973.9 239.3L974.2 240.8L974.4 242.4L974.6 244.1L974.9 245.9L975.1 248.2L975.3 251.1L975.6 254.4L975.8 257.8L976 261.2L976.3 264.3L976.5 266.9L976.7 269.1L977 271.4L977.2 273.7L977.4 275.9L977.7 277.9L977.9 279.7L978.1 281L978.3 281.9L978.6 282.3L978.8 281.9L979 280.8L979.3 279.1L979.5 277L979.7 274.6L980 272.1L980.2 269.6L980.4 267.2L980.7 264.8L980.9 262.1L981.1 259.3L981.4 256.3L981.6 253.3L981.8 250.3L982.1 247.3L982.3 244.5L982.5 241.8L982.8 239.4L983 236.9L983.2 234.4L983.5 231.9L983.7 229.5L983.9 227.3L984.2 225.2L984.4 223.3L984.6 221.7L984.9 220.4L985.1 219.4L985.3 218.4L985.6 217.6L985.8 216.8L986 216.2L986.3 215.7L986.5 215.6L986.7 215.6L987 215.8L987.2 215.9L987.4 216.2L987.7 216.4L987.9 216.5L988.1 216.7L988.4 216.7L988.6 216.5L988.8 215.9L989 215L989.3 214L989.5 212.7L989.7 211.4L990 210L990.2 208.6L990.4 207.3L990.7 206L990.9 204.8L991.1 203.4L991.4 202.1L991.6 200.6L991.8 199.2L992.1 197.7L992.3 196.3L992.5 194.8L992.8 193.4L993 192L993.2 190.6L993.5 189.2L993.7 187.9L993.9 186.5L994.2 185.1L994.4 183.7L994.6 182.3L994.9 180.9L995.1 179.5L995.3 177.9L995.6 176.1L995.8 174.3L996 172.5L996.3 170.9L996.5 169.5L996.7 168.5L997 168L997.2 167.8L997.4 167.5L997.7 167.3L997.9 167.2L998.1 167L998.4 167L998.6 167L998.8 167.1L999 167.5L999.3 167.9L999.5 168.5L999.7 169.2L1000 169.9L1000.2 170.7L1000.4 171.5L1000.7 172.3L1000.9 173.1L1001.1 173.9L1001.4 174.8L1001.6 175.8L1001.8 176.9L1002.1 178.2L1002.3 179.7L1002.5 181.4L1002.8 184.3L1003 188.9L1003.2 194.2L1003.5 198.9L1003.7 202L1003.9 203.8L1004.2 205.3L1004.4 206.6L1004.6 207.7L1004.9 208.6L1005.1 209.5L1005.3 210.4L1005.6 211.4L1005.8 212.5L1006 213.7L1006.3 215.1L1006.5 216.7L1006.7 218.3L1007 220L1007.2 221.6L1007.4 223.2L1007.7 224.5L1007.9 225.7L1008.1 226.6L1008.4 227.2L1008.6 227.7L1008.8 228L1009 228.3L1009.3 228.6L1009.5 228.9L1009.7 229.3L1010 229.8L1010.2 230.4L1010.4 231.3L1010.7 232.3L1010.9 233.6L1011.1 234.9L1011.4 235.8L1011.6 236.5L1011.8 237L1012.1 237.5L1012.3 238L1012.5 238.4L1012.8 238.8L1013 239.1L1013.2 239.4L1013.5 239.6L1013.7 239.7L1013.9 239.9L1014.2 240.1L1014.4 240.3L1014.6 240.6L1014.9 241.4L1015.1 243.8L1015.3 247.5L1015.6 251.7L1015.8 255.8L1016 259L1016.3 262.1L1016.5 265L1016.7 268L1017 270.8L1017.2 273.5L1017.4 276L1017.7 278.4L1017.9 281L1018.1 283.6L1018.4 286L1018.6 287.7L1018.8 288.3L1019 287L1019.3 283.8L1019.5 279.4L1019.7 274.6L1020 270.4L1020.2 267.5L1020.4 265.1L1020.7 262.8L1020.9 260.7L1021.1 259L1021.4 258L1021.6 257.8L1021.8 258L1022.1 258.2L1022.3 258.5L1022.5 258.9L1022.8 259.2L1023 259.4L1023.2 259.5L1023.5 259.1L1023.7 258.1L1023.9 256.6L1024.2 254.9L1024.4 253.2L1024.6 251.4L1024.9 250L1025.1 248.9L1025.3 248.4L1025.6 248L1025.8 247.8L1026 247.6L1026.3 247.4L1026.5 247.2L1026.7 247L1027 246.8L1027.2 246.5L1027.4 246.2L1027.7 245.9L1027.9 245.6L1028.1 245.4L1028.4 245.2L1028.6 245.1L1028.8 245.2L1029.1 245.7L1029.3 246.4L1029.5 247.3L1029.7 248.4L1030 249.5L1030.2 250.5L1030.4 251.5L1030.7 252.7L1030.9 254L1031.1 255.4L1031.4 256.7L1031.6 257.8L1031.8 258.4L1032.1 258.6L1032.3 258L1032.5 256.6L1032.8 254.7L1033 252.7L1033.2 250.8L1033.5 249.3L1033.7 248.5L1033.9 248.3L1034.2 248L1034.4 247.9L1034.6 247.7L1034.9 247.7L1035.1 247.6L1035.3 248.2L1035.6 249.5L1035.8 251.3L1036 253.4L1036.3 255.3L1036.5 256.9L1036.7 257.7L1037 257.9L1037.2 258L1037.4 258.1L1037.7 258.2L1037.9 258.2L1038.1 258.3L1038.4 258.4L1038.6 258.5L1038.8 258.6L1039.1 259.3L1039.3 260.6L1039.5 262.3L1039.7 264.2L1040 265.9L1040.2 267.3L1040.4 267.9L1040.7 267.8L1040.9 267L1041.1 265.8L1041.4 264.5L1041.6 263.1L1041.8 262L1042.1 261.3L1042.3 261.3L1042.5 261.9L1042.8 263L1043 264.4L1043.2 266L1043.5 267.5L1043.7 268.8L1043.9 269.8L1044.2 270.6L1044.4 271.4L1044.6 272.1L1044.9 272.8L1045.1 273.4L1045.3 273.7L1045.6 273.9L1045.8 273.7L1046 273.2L1046.3 272.4L1046.5 271.4L1046.7 270.3L1047 269.2L1047.2 268.3L1047.4 267.5L1047.7 266.9L1047.9 266.2L1048.1 265.6L1048.4 264.9L1048.6 264.2L1048.8 263.5L1049.1 262.6L1049.3 261.7L1049.5 260.7L1049.7 259.6L1050 258.4L1050.2 257.2L1050.4 255.8L1050.7 254.4L1050.9 252.6L1051.1 250.2L1051.4 247.6L1051.6 244.9L1051.8 242.5L1052.1 240.6L1052.3 239.3L1052.5 238.8L1052.8 238.4L1053 238L1053.2 237.7L1053.5 237.5L1053.7 237.5L1053.9 238.1L1054.2 239.9L1054.4 242.4L1054.6 245.1L1054.9 247.3L1055.1 249L1055.3 250.7L1055.6 252.4L1055.8 253.7L1056 254.4L1056.3 254.3L1056.5 253.7L1056.7 252.9L1057 252.1L1057.2 251.4L1057.4 251L1057.7 251.6L1057.9 253.6L1058.1 256.3L1058.4 259.4L1058.6 262.4L1058.8 264.6L1059.1 266.5L1059.3 268.4L1059.5 270.3L1059.7 271.9L1060 273.1L1060.2 273.8L1060.4 273.8L1060.7 272.6L1060.9 270.5L1061.1 267.8L1061.4 264.9L1061.6 262.1L1061.8 259.5L1062.1 256.7L1062.3 253.6L1062.5 250.4L1062.8 247.4L1063 244.5L1063.2 242.1L1063.5 240.2L1063.7 238.4L1063.9 236.7L1064.2 235L1064.4 233.6L1064.6 232.5L1064.9 231.8L1065.1 231.5L1065.3 232.1L1065.6 233.6L1065.8 235.6L1066 237.7L1066.3 239.7L1066.5 241.1L1066.7 242.5L1067 243.9L1067.2 245.2L1067.4 246.3L1067.7 247.2L1067.9 247.6L1068.1 247.5L1068.4 247L1068.6 246.1L1068.8 245L1069.1 243.8L1069.3 242.6L1069.5 241.5L1069.8 240.5L1070 239.6L1070.2 238.7L1070.4 237.7L1070.7 236.8L1070.9 235.9L1071.1 235L1071.4 234.2L1071.6 233.3L1071.8 232.4L1072.1 231.6L1072.3 230.6L1072.5 229.5L1072.8 228.5L1073 227.6L1073.2 226.8L1073.5 226.1L1073.7 225.7L1073.9 225.6L1074.2 226.1L1074.4 227.2L1074.6 228.5L1074.9 229.7L1075.1 230.5L1075.3 230.7L1075.6 230.4L1075.8 230L1076 229.4L1076.3 228.7L1076.5 228.1L1076.7 227.6L1077 227.3L1077.2 227.1L1077.4 226.9L1077.7 226.7L1077.9 226.5L1078.1 226.5L1078.4 226.5L1078.6 227.5L1078.8 229.6L1079.1 232.2L1079.3 235.1L1079.5 237.7L1079.8 240.7L1080 244.2L1080.2 247.9L1080.4 251.5L1080.7 254.6L1080.9 256.8L1081.1 257.8L1081.4 257.5L1081.6 256.6L1081.8 255.3L1082.1 253.7L1082.3 252.1L1082.5 250.7L1082.8 249.6L1083 249.1L1083.2 248.6L1083.5 248.2L1083.7 247.8L1083.9 247.7L1084.2 247.7L1084.4 248.1L1084.6 248.9L1084.9 249.8L1085.1 250.5L1085.3 251L1085.6 250.9L1085.8 250.5L1086 249.7L1086.3 248.7L1086.5 247.5L1086.7 246.3L1087 245L1087.2 243.8L1087.4 242.3L1087.7 240.4L1087.9 238.3L1088.1 236.4L1088.4 234.7L1088.6 233.6L1088.8 233.2L1089.1 233.4L1089.3 233.7L1089.5 234.3L1089.8 234.9L1090 235.7L1090.2 237.1L1090.4 239.5L1090.7 242.4L1090.9 245.4L1091.1 247.9L1091.4 249.4L1091.6 250.4L1091.8 251.3L1092.1 252L1092.3 252.5L1092.5 252.7" fill="none" stroke="#C8102E" stroke-width="1.75" stroke-linejoin="round" stroke-linecap="butt" />
<rect x="929.9" y="42" width="163.3" height="266.7" fill="none" stroke="#222" stroke-width="1.9"/>
<line x1="929.9" y1="308.7" x2="929.9" y2="314.3" stroke="#222" stroke-width="1.7" />
<text x="930.1" y="327.2" font-size="12.0" fill="#222" text-anchor="middle" >167.3</text>
<line x1="950.3" y1="308.7" x2="950.3" y2="312" stroke="#222" stroke-width="1.7" />
<line x1="970.7" y1="308.7" x2="970.7" y2="314.3" stroke="#222" stroke-width="1.7" />
<text x="970.9" y="327.2" font-size="12.0" fill="#222" text-anchor="middle" >167.2</text>
<line x1="991.1" y1="308.7" x2="991.1" y2="312" stroke="#222" stroke-width="1.7" />
<line x1="1011.5" y1="308.7" x2="1011.5" y2="314.3" stroke="#222" stroke-width="1.7" />
<text x="1011.8" y="327.2" font-size="12.0" fill="#222" text-anchor="middle" >167.1</text>
<line x1="1032" y1="308.7" x2="1032" y2="312" stroke="#222" stroke-width="1.7" />
<line x1="1052.4" y1="308.7" x2="1052.4" y2="314.3" stroke="#222" stroke-width="1.7" />
<text x="1052.6" y="327.2" font-size="12.0" fill="#222" text-anchor="middle" >167.0</text>
<line x1="1072.8" y1="308.7" x2="1072.8" y2="312" stroke="#222" stroke-width="1.7" />
<line x1="1093.2" y1="308.7" x2="1093.2" y2="314.3" stroke="#222" stroke-width="1.7" />
<text x="1093.4" y="327.2" font-size="12.0" fill="#222" text-anchor="middle" >166.9</text>
<text x="1011.5" y="349.2" font-size="15.8" fill="#222" text-anchor="middle" >f1 (ppm)</text>
<text x="919.3" y="175.1" font-size="17" fill="#222" text-anchor="middle" transform="rotate(-90 919.3 175.1)" textLength="106" lengthAdjust="spacingAndGlyphs" >Intensity (a.u.)</text>
<text x="897.8" y="33.2" font-size="26" fill="#111" text-anchor="start" >c</text>
<line x1="931.3" y1="51.5" x2="963.2" y2="51.5" stroke="#3E78B8" stroke-width="1.8" />
<line x1="931.3" y1="68.8" x2="963.2" y2="68.8" stroke="#C8102E" stroke-width="1.8" />
<text x="966.8" y="56.5" font-size="15" fill="#222" text-anchor="start" >PAFTB</text>
<text x="966.8" y="73.7" font-size="15" fill="#222" text-anchor="start" >PAFTB-PbI<tspan font-size="10" dy="3.6">2</tspan></text>
<line x1="963.6" y1="155.3" x2="976.4" y2="146.4" stroke="#2b2b2b" stroke-width="1.4" />
<line x1="976" y1="146.4" x2="986" y2="146.4" stroke="#2b2b2b" stroke-width="1.4" />
<line x1="986" y1="146.4" x2="994.9" y2="146.4" stroke="#E8414D" stroke-width="1.4" />
<line x1="975" y1="146.8" x2="973.2" y2="138.6" stroke="#2b2b2b" stroke-width="1.3" />
<line x1="973.2" y1="138.6" x2="971.5" y2="130.4" stroke="#E8414D" stroke-width="1.3" />
<line x1="978.3" y1="146.2" x2="976.6" y2="138.2" stroke="#2b2b2b" stroke-width="1.3" />
<line x1="976.6" y1="138.2" x2="974.9" y2="130" stroke="#E8414D" stroke-width="1.3" />
<text x="972.7" y="128.9" font-size="8.8" fill="#E8414D" text-anchor="middle" >O</text>
<text x="996" y="148.8" font-size="8.8" fill="#E8414D" text-anchor="start" transform="rotate(-6 1002 146)">OH</text>
<path d="M1135.4 295.9L1135.7 295.9L1136 295.9L1136.4 295.9L1136.7 295.9L1137 295.9L1137.3 295.9L1137.7 295.9L1138 295.9L1138.3 295.9L1138.6 295.9L1139 295.9L1139.3 295.9L1139.6 295.9L1139.9 295.9L1140.3 295.9L1140.6 295.9L1140.9 295.9L1141.2 295.9L1141.6 295.9L1141.9 295.9L1142.2 295.9L1142.5 295.9L1142.9 295.9L1143.2 295.9L1143.5 295.8L1143.8 295.8L1144.2 295.7L1144.5 295.7L1144.8 295.6L1145.1 295.5L1145.5 295.4L1145.8 295.2L1146.1 295.1L1146.4 295L1146.8 294.8L1147.1 294.7L1147.4 294.5L1147.7 294.4L1148.1 294.2L1148.4 294L1148.7 293.8L1149 293.7L1149.4 293.5L1149.7 293.3L1150 293.1L1150.3 293L1150.6 292.8L1151 292.6L1151.3 292.4L1151.6 292.3L1151.9 292.1L1152.3 291.8L1152.6 291.6L1152.9 291.4L1153.2 291.1L1153.6 290.9L1153.9 290.6L1154.2 290.4L1154.5 290.1L1154.9 289.9L1155.2 289.7L1155.5 289.5L1155.8 289.4L1156.2 289.2L1156.5 289.1L1156.8 289L1157.1 288.9L1157.5 288.7L1157.8 288.6L1158.1 288.5L1158.4 288.4L1158.8 288.4L1159.1 288.3L1159.4 288.3L1159.7 288.3L1160.1 288.3L1160.4 288.4L1160.7 288.5L1161 288.7L1161.4 288.8L1161.7 289L1162 289.2L1162.3 289.4L1162.7 289.6L1163 289.8L1163.3 289.9L1163.6 290.1L1164 290.2L1164.3 290.3L1164.6 290.3L1164.9 290.3L1165.2 290.3L1165.6 290.2L1165.9 290.2L1166.2 290.1L1166.5 290.1L1166.9 290L1167.2 289.9L1167.5 289.8L1167.8 289.7L1168.2 289.6L1168.5 289.5L1168.8 289.4L1169.1 289.2L1169.5 289.1L1169.8 289L1170.1 288.8L1170.4 288.7L1170.8 288.6L1171.1 288.5L1171.4 288.3L1171.7 288.2L1172.1 288.1L1172.4 288L1172.7 287.8L1173 287.7L1173.4 287.6L1173.7 287.4L1174 287.3L1174.3 287.1L1174.7 287L1175 286.8L1175.3 286.7L1175.6 286.5L1176 286.3L1176.3 286.1L1176.6 286L1176.9 285.8L1177.3 285.6L1177.6 285.4L1177.9 285.2L1178.2 284.9L1178.6 284.7L1178.9 284.5L1179.2 284.2L1179.5 284L1179.8 283.7L1180.2 283.4L1180.5 283.1L1180.8 282.8L1181.1 282.5L1181.5 282.1L1181.8 281.8L1182.1 281.5L1182.4 281.1L1182.8 280.7L1183.1 280.4L1183.4 280L1183.7 279.6L1184.1 279.2L1184.4 278.8L1184.7 278.4L1185 278.1L1185.4 277.6L1185.7 277.2L1186 276.8L1186.3 276.3L1186.7 275.8L1187 275.4L1187.3 274.9L1187.6 274.4L1188 273.9L1188.3 273.4L1188.6 272.8L1188.9 272.3L1189.3 271.8L1189.6 271.3L1189.9 270.8L1190.2 270.3L1190.6 269.8L1190.9 269.3L1191.2 268.9L1191.5 268.4L1191.9 268L1192.2 267.5L1192.5 267L1192.8 266.5L1193.2 266L1193.5 265.5L1193.8 264.9L1194.1 264.3L1194.4 263.6L1194.8 262.9L1195.1 262.1L1195.4 261.3L1195.7 260.4L1196.1 259.5L1196.4 258.5L1196.7 257.5L1197 256.4L1197.4 255.2L1197.7 254L1198 252.7L1198.3 251.3L1198.7 249.7L1199 248L1199.3 246.1L1199.6 244.2L1200 242.2L1200.3 240.1L1200.6 237.9L1200.9 235.5L1201.3 233.1L1201.6 230.6L1201.9 227.9L1202.2 225.1L1202.6 222.3L1202.9 219.4L1203.2 216.3L1203.5 213.2L1203.9 210L1204.2 206.8L1204.5 203.5L1204.8 200.1L1205.2 196.7L1205.5 193.2L1205.8 189.6L1206.1 185.7L1206.5 181.7L1206.8 177.6L1207.1 173.3L1207.4 169L1207.8 164.6L1208.1 160.1L1208.4 155.6L1208.7 151.1L1209 146.7L1209.4 141.9L1209.7 137L1210 131.9L1210.3 126.8L1210.7 122L1211 117.6L1211.3 113.7L1211.6 110.4L1212 107.5L1212.3 104.9L1212.6 102.6L1212.9 100.5L1213.3 98.5L1213.6 97.5L1213.9 98.8L1214.2 100.9L1214.6 102.7L1214.9 104.5L1215.2 106.4L1215.5 108.5L1215.9 110.9L1216.2 113.7L1216.5 117.2L1216.8 121.3L1217.2 125.9L1217.5 130.8L1217.8 135.8L1218.1 140.8L1218.5 145.6L1218.8 150.2L1219.1 154.3L1219.4 158.4L1219.8 162.4L1220.1 166.4L1220.4 170.3L1220.7 174.2L1221.1 178L1221.4 181.8L1221.7 185.6L1222 189.3L1222.4 193.1L1222.7 196.9L1223 200.8L1223.3 204.9L1223.7 208.9L1224 213L1224.3 217L1224.6 221L1224.9 224.8L1225.3 228.3L1225.6 231.7L1225.9 234.7L1226.2 237.5L1226.6 239.8L1226.9 241.8L1227.2 243.7L1227.5 245.3L1227.9 246.9L1228.2 248.3L1228.5 249.7L1228.8 250.9L1229.2 252.1L1229.5 253.3L1229.8 254.5L1230.1 255.6L1230.5 256.6L1230.8 257.7L1231.1 258.6L1231.4 259.6L1231.8 260.5L1232.1 261.4L1232.4 262.2L1232.7 263L1233.1 263.8L1233.4 264.6L1233.7 265.3L1234 266L1234.4 266.6L1234.7 267.3L1235 267.9L1235.3 268.5L1235.7 269.1L1236 269.7L1236.3 270.2L1236.6 270.7L1237 271.3L1237.3 271.7L1237.6 272.2L1237.9 272.7L1238.3 273.1L1238.6 273.5L1238.9 273.9L1239.2 274.3L1239.5 274.7L1239.9 275.1L1240.2 275.4L1240.5 275.8L1240.8 276.1L1241.2 276.5L1241.5 276.8L1241.8 277.1L1242.1 277.5L1242.5 277.8L1242.8 278.1L1243.1 278.5L1243.4 278.8L1243.8 279.1L1244.1 279.5L1244.4 279.8L1244.7 280.2L1245.1 280.6L1245.4 281L1245.7 281.4L1246 281.8L1246.4 282.3L1246.7 282.7L1247 283.1L1247.3 283.6L1247.7 284L1248 284.3L1248.3 284.7L1248.6 285L1249 285.3L1249.3 285.5L1249.6 285.6L1249.9 285.8L1250.3 285.8L1250.6 285.8L1250.9 285.8L1251.2 285.8L1251.6 285.7L1251.9 285.7L1252.2 285.6L1252.5 285.6L1252.9 285.5L1253.2 285.4L1253.5 285.4L1253.8 285.3L1254.1 285.2L1254.5 285.2L1254.8 285.1L1255.1 285.1L1255.4 285L1255.8 285L1256.1 284.9L1256.4 284.9L1256.7 284.8L1257.1 284.8L1257.4 284.8L1257.7 284.7L1258 284.7L1258.4 284.6L1258.7 284.6L1259 284.6L1259.3 284.5L1259.7 284.5L1260 284.5L1260.3 284.4L1260.6 284.4L1261 284.4L1261.3 284.3L1261.6 284.3L1261.9 284.3L1262.3 284.2L1262.6 284.2L1262.9 284.2L1263.2 284.2L1263.6 284.2L1263.9 284.1L1264.2 284.1L1264.5 284.1L1264.9 284.1L1265.2 284.1L1265.5 284.1L1265.8 284.1L1266.2 284.1L1266.5 284.2L1266.8 284.2L1267.1 284.3L1267.5 284.4L1267.8 284.5L1268.1 284.6L1268.4 284.7L1268.7 284.9L1269.1 285L1269.4 285.2L1269.7 285.3L1270 285.4L1270.4 285.6L1270.7 285.7L1271 285.9L1271.3 286L1271.7 286.2L1272 286.3L1272.3 286.5L1272.6 286.7L1273 286.9L1273.3 287.1L1273.6 287.3L1273.9 287.6L1274.3 287.8L1274.6 288L1274.9 288.3L1275.2 288.5L1275.6 288.7L1275.9 288.9L1276.2 289.1L1276.5 289.3L1276.9 289.5L1277.2 289.6L1277.5 289.8L1277.8 289.9L1278.2 290L1278.5 290L1278.8 290.1L1279.1 290.1L1279.5 290.2L1279.8 290.2L1280.1 290.3L1280.4 290.3L1280.8 290.3L1281.1 290.4L1281.4 290.4L1281.7 290.4L1282.1 290.4L1282.4 290.5L1282.7 290.5L1283 290.5L1283.3 290.6L1283.7 290.6L1284 290.6L1284.3 290.7L1284.6 290.7L1285 290.8L1285.3 290.9L1285.6 291L1285.9 291.1L1286.3 291.2L1286.6 291.4L1286.9 291.5L1287.2 291.7L1287.6 291.8L1287.9 292L1288.2 292.2L1288.5 292.3L1288.9 292.5L1289.2 292.6L1289.5 292.7L1289.8 292.8L1290.2 292.9L1290.5 293L1290.8 293.1L1291.1 293.1L1291.5 293.2L1291.8 293.2L1292.1 293.3L1292.4 293.4L1292.8 293.4L1293.1 293.5L1293.4 293.5L1293.7 293.6L1294.1 293.6L1294.4 293.7L1294.7 293.7L1295 293.8L1295.4 293.8L1295.7 293.8L1296 293.9L1296.3 293.9L1296.7 293.9L1297 293.9L1297.3 293.9" fill="none" stroke="#3E78B8" stroke-width="1.9" stroke-linejoin="round" stroke-linecap="butt" />
<path d="M1135.4 290.5L1135.7 290.4L1136 290.4L1136.4 290.3L1136.7 290.2L1137 290.1L1137.3 290L1137.7 289.9L1138 289.8L1138.3 289.7L1138.6 289.6L1139 289.5L1139.3 289.4L1139.6 289.2L1139.9 289.1L1140.3 289L1140.6 288.8L1140.9 288.7L1141.2 288.6L1141.6 288.4L1141.9 288.3L1142.2 288.1L1142.5 287.9L1142.9 287.8L1143.2 287.6L1143.5 287.4L1143.8 287.3L1144.2 287.1L1144.5 286.9L1144.8 286.8L1145.1 286.6L1145.5 286.4L1145.8 286.2L1146.1 286L1146.4 285.8L1146.8 285.6L1147.1 285.4L1147.4 285.2L1147.7 284.9L1148.1 284.7L1148.4 284.4L1148.7 284.2L1149 283.9L1149.4 283.6L1149.7 283.3L1150 283.1L1150.3 282.8L1150.6 282.5L1151 282.2L1151.3 281.9L1151.6 281.7L1151.9 281.4L1152.3 281.1L1152.6 280.9L1152.9 280.6L1153.2 280.4L1153.6 280.1L1153.9 279.9L1154.2 279.7L1154.5 279.5L1154.9 279.3L1155.2 279.1L1155.5 278.8L1155.8 278.6L1156.2 278.4L1156.5 278.2L1156.8 278L1157.1 277.7L1157.5 277.5L1157.8 277.2L1158.1 277L1158.4 276.7L1158.8 276.4L1159.1 276.1L1159.4 275.8L1159.7 275.5L1160.1 275.1L1160.4 274.7L1160.7 274.3L1161 273.8L1161.4 273.3L1161.7 272.8L1162 272.3L1162.3 271.7L1162.7 271.1L1163 270.5L1163.3 269.9L1163.6 269.3L1164 268.6L1164.3 268L1164.6 267.3L1164.9 266.6L1165.2 265.9L1165.6 265.2L1165.9 264.4L1166.2 263.6L1166.5 262.8L1166.9 261.9L1167.2 261L1167.5 260.1L1167.8 259.1L1168.2 258.1L1168.5 257L1168.8 255.9L1169.1 254.8L1169.5 253.6L1169.8 252.4L1170.1 251.2L1170.4 249.8L1170.8 248.4L1171.1 246.9L1171.4 245.2L1171.7 243.5L1172.1 241.5L1172.4 239.4L1172.7 236.8L1173 233.8L1173.4 230.3L1173.7 226.4L1174 222.3L1174.3 218L1174.7 213.6L1175 209.1L1175.3 204.6L1175.6 200.2L1176 196.1L1176.3 192.1L1176.6 188.2L1176.9 184.4L1177.3 180.5L1177.6 176.7L1177.9 172.8L1178.2 169L1178.6 165.1L1178.9 161.2L1179.2 157.2L1179.5 153.2L1179.8 149.2L1180.2 145L1180.5 140.7L1180.8 136.4L1181.1 132L1181.5 127.6L1181.8 123.2L1182.1 118.9L1182.4 114.7L1182.8 110.6L1183.1 106.8L1183.4 103L1183.7 99.1L1184.1 95.3L1184.4 91.8L1184.7 88.8L1185 86.6L1185.4 84.7L1185.7 83.1L1186 82.4L1186.3 82.5L1186.7 82.8L1187 83.2L1187.3 83.9L1187.6 85.3L1188 87.3L1188.3 89.5L1188.6 91.9L1188.9 94.6L1189.3 97.7L1189.6 101.2L1189.9 105L1190.2 108.9L1190.6 113L1190.9 117.2L1191.2 121.3L1191.5 125.4L1191.9 129.7L1192.2 134.2L1192.5 138.9L1192.8 143.6L1193.2 148.4L1193.5 153.2L1193.8 158L1194.1 162.6L1194.4 167L1194.8 171.2L1195.1 175.1L1195.4 179L1195.7 182.7L1196.1 186.3L1196.4 189.9L1196.7 193.4L1197 196.8L1197.4 200.2L1197.7 203.6L1198 206.9L1198.3 210.3L1198.7 213.7L1199 217.1L1199.3 220.6L1199.6 224.3L1200 228.2L1200.3 231.9L1200.6 235.3L1200.9 238.2L1201.3 240.4L1201.6 242.1L1201.9 243.7L1202.2 245.1L1202.6 246.4L1202.9 247.6L1203.2 248.7L1203.5 249.7L1203.9 250.7L1204.2 251.6L1204.5 252.5L1204.8 253.4L1205.2 254.3L1205.5 255.1L1205.8 255.9L1206.1 256.6L1206.5 257.3L1206.8 258L1207.1 258.7L1207.4 259.4L1207.8 260L1208.1 260.7L1208.4 261.3L1208.7 261.9L1209 262.5L1209.4 263.1L1209.7 263.7L1210 264.3L1210.3 264.9L1210.7 265.5L1211 266L1211.3 266.6L1211.6 267.1L1212 267.6L1212.3 268.1L1212.6 268.5L1212.9 268.9L1213.3 269.2L1213.6 269.5L1213.9 269.7L1214.2 269.9L1214.6 270.1L1214.9 270.2L1215.2 270.4L1215.5 270.5L1215.9 270.6L1216.2 270.7L1216.5 270.8L1216.8 270.9L1217.2 271L1217.5 271.1L1217.8 271.2L1218.1 271.3L1218.5 271.4L1218.8 271.5L1219.1 271.6L1219.4 271.7L1219.8 271.9L1220.1 272L1220.4 272.2L1220.7 272.3L1221.1 272.5L1221.4 272.7L1221.7 272.9L1222 273L1222.4 273.2L1222.7 273.4L1223 273.6L1223.3 273.8L1223.7 274L1224 274.2L1224.3 274.4L1224.6 274.6L1224.9 274.8L1225.3 275L1225.6 275.2L1225.9 275.4L1226.2 275.7L1226.6 275.9L1226.9 276.1L1227.2 276.3L1227.5 276.5L1227.9 276.7L1228.2 276.9L1228.5 277.1L1228.8 277.4L1229.2 277.6L1229.5 277.8L1229.8 278.1L1230.1 278.3L1230.5 278.5L1230.8 278.8L1231.1 279L1231.4 279.2L1231.8 279.5L1232.1 279.7L1232.4 279.9L1232.7 280.2L1233.1 280.4L1233.4 280.7L1233.7 280.9L1234 281.1L1234.4 281.3L1234.7 281.6L1235 281.8L1235.3 282L1235.7 282.2L1236 282.5L1236.3 282.7L1236.6 282.9L1237 283.1L1237.3 283.3L1237.6 283.5L1237.9 283.7L1238.3 283.8L1238.6 284L1238.9 284.2L1239.2 284.4L1239.5 284.6L1239.9 284.8L1240.2 285L1240.5 285.2L1240.8 285.4L1241.2 285.6L1241.5 285.8L1241.8 286L1242.1 286.2L1242.5 286.4L1242.8 286.7L1243.1 286.9L1243.4 287.2L1243.8 287.5L1244.1 287.8L1244.4 288.1L1244.7 288.4L1245.1 288.7L1245.4 289L1245.7 289.3L1246 289.6L1246.4 289.9L1246.7 290.2L1247 290.4L1247.3 290.6L1247.7 290.7L1248 290.9L1248.3 291L1248.6 291.1L1249 291.2L1249.3 291.3L1249.6 291.4L1249.9 291.5L1250.3 291.6L1250.6 291.7L1250.9 291.7L1251.2 291.7L1251.6 291.7L1251.9 291.6L1252.2 291.5L1252.5 291.4L1252.9 291.2L1253.2 291.1L1253.5 291L1253.8 290.9L1254.1 290.8L1254.5 290.8L1254.8 290.8L1255.1 290.8L1255.4 290.8L1255.8 290.8L1256.1 290.9L1256.4 290.9L1256.7 290.9L1257.1 291L1257.4 291L1257.7 291L1258 291.1L1258.4 291.1L1258.7 291.2L1259 291.2L1259.3 291.3L1259.7 291.3L1260 291.3L1260.3 291.4L1260.6 291.4L1261 291.5L1261.3 291.5L1261.6 291.6L1261.9 291.6L1262.3 291.6L1262.6 291.7L1262.9 291.7L1263.2 291.7L1263.6 291.7L1263.9 291.8L1264.2 291.8L1264.5 291.8L1264.9 291.8L1265.2 291.9L1265.5 291.9L1265.8 291.9L1266.2 291.9L1266.5 292L1266.8 292L1267.1 292L1267.5 292L1267.8 292.1L1268.1 292.1L1268.4 292.1L1268.7 292.1L1269.1 292.1L1269.4 292.2L1269.7 292.2L1270 292.2L1270.4 292.2L1270.7 292.2L1271 292.2L1271.3 292.2L1271.7 292.2L1272 292.2L1272.3 292.1L1272.6 292.1L1273 292L1273.3 292L1273.6 291.9L1273.9 291.8L1274.3 291.7L1274.6 291.7L1274.9 291.6L1275.2 291.5L1275.6 291.5L1275.9 291.4L1276.2 291.4L1276.5 291.4L1276.9 291.4L1277.2 291.5L1277.5 291.5L1277.8 291.6L1278.2 291.8L1278.5 291.9L1278.8 292.1L1279.1 292.3L1279.5 292.5L1279.8 292.7L1280.1 292.9L1280.4 293.1L1280.8 293.3L1281.1 293.4L1281.4 293.6L1281.7 293.8L1282.1 293.9L1282.4 294L1282.7 294.1L1283 294.2L1283.3 294.2L1283.7 294.2L1284 294L1284.3 293.8L1284.6 293.5L1285 293.2L1285.3 292.8L1285.6 292.4L1285.9 292L1286.3 291.6L1286.6 291.1L1286.9 290.7L1287.2 290.4L1287.6 290L1287.9 289.7L1288.2 289.4L1288.5 289.1L1288.9 288.8L1289.2 288.5L1289.5 288.1L1289.8 287.8L1290.2 287.6L1290.5 287.3L1290.8 287.1L1291.1 286.9L1291.5 286.7L1291.8 286.6L1292.1 286.5L1292.4 286.4L1292.8 286.4L1293.1 286.3L1293.4 286.2L1293.7 286.2L1294.1 286.1L1294.4 286.1L1294.7 286L1295 286L1295.4 285.9L1295.7 285.9L1296 285.9L1296.3 285.8L1296.7 285.8L1297 285.8L1297.3 285.8" fill="none" stroke="#C8102E" stroke-width="1.9" stroke-linejoin="round" stroke-linecap="butt" />
<rect x="1135.4" y="42" width="162.1" height="266.6" fill="none" stroke="#222" stroke-width="1.9"/>
<line x1="1135.4" y1="308.6" x2="1135.4" y2="314.2" stroke="#222" stroke-width="1.7" />
<text x="1134.8" y="326.9" font-size="12.0" fill="#222" text-anchor="middle" >55.32</text>
<line x1="1155.7" y1="308.6" x2="1155.7" y2="311.9" stroke="#222" stroke-width="1.7" />
<line x1="1175.9" y1="308.6" x2="1175.9" y2="314.2" stroke="#222" stroke-width="1.7" />
<text x="1175.3" y="326.9" font-size="12.0" fill="#222" text-anchor="middle" >55.29</text>
<line x1="1196.2" y1="308.6" x2="1196.2" y2="311.9" stroke="#222" stroke-width="1.7" />
<line x1="1216.5" y1="308.6" x2="1216.5" y2="314.2" stroke="#222" stroke-width="1.7" />
<text x="1215.9" y="326.9" font-size="12.0" fill="#222" text-anchor="middle" >55.26</text>
<line x1="1236.7" y1="308.6" x2="1236.7" y2="311.9" stroke="#222" stroke-width="1.7" />
<line x1="1257" y1="308.6" x2="1257" y2="314.2" stroke="#222" stroke-width="1.7" />
<text x="1256.4" y="326.9" font-size="12.0" fill="#222" text-anchor="middle" >55.23</text>
<line x1="1277.2" y1="308.6" x2="1277.2" y2="311.9" stroke="#222" stroke-width="1.7" />
<line x1="1297.5" y1="308.6" x2="1297.5" y2="314.2" stroke="#222" stroke-width="1.7" />
<text x="1296.9" y="326.9" font-size="12.0" fill="#222" text-anchor="middle" >55.20</text>
<text x="1216.2" y="348.8" font-size="15.8" fill="#222" text-anchor="middle" >f1 (ppm)</text>
<text x="1123.3" y="175.1" font-size="17" fill="#222" text-anchor="middle" transform="rotate(-90 1123.3 175.1)" textLength="106" lengthAdjust="spacingAndGlyphs" >Intensity (a.u.)</text>
<line x1="1136.2" y1="51.6" x2="1169.1" y2="51.6" stroke="#3E78B8" stroke-width="1.8" />
<line x1="1136.2" y1="68.4" x2="1169.1" y2="68.4" stroke="#C8102E" stroke-width="1.8" />
<text x="1172.7" y="56.5" font-size="15" fill="#222" text-anchor="start" >PAFTB</text>
<text x="1172.7" y="73.5" font-size="15" fill="#222" text-anchor="start" >PAFTB-PbI<tspan font-size="10" dy="3.6">2</tspan></text>
<defs><linearGradient id="hb1" gradientUnits="userSpaceOnUse" x1="1266" y1="155.6" x2="1267.3" y2="137.8"><stop offset="0" stop-color="#222"/><stop offset="1" stop-color="#aaa"/></linearGradient><linearGradient id="hb2" gradientUnits="userSpaceOnUse" x1="1266" y1="155.6" x2="1264.1" y2="171.9"><stop offset="0" stop-color="#222"/><stop offset="1" stop-color="#aaa"/></linearGradient></defs>
<path d="M1266 155.6 L1267.3 137.8" stroke="url(#hb1)" stroke-width="1.4" fill="none"/>
<path d="M1266 155.6 L1264.1 171.9" stroke="url(#hb2)" stroke-width="1.4" fill="none"/>
<line x1="1266" y1="155.6" x2="1279.9" y2="165.5" stroke="#222" stroke-width="1.4" />
<line x1="1266" y1="155.6" x2="1257.6" y2="158.6" stroke="#222" stroke-width="1.4" />
<line x1="1257.6" y1="158.6" x2="1249.7" y2="162.5" stroke="#E8414D" stroke-width="1.4" />
<line x1="1240.3" y1="166" x2="1234.9" y2="169" stroke="#E8414D" stroke-width="1.4" />
<text x="1267.7" y="136.2" font-size="8.1" fill="#7d7d7d" text-anchor="middle" >H</text>
<text x="1263.1" y="180" font-size="8.1" fill="#7d7d7d" text-anchor="middle" >H</text>
<text x="1283.9" y="171.1" font-size="8.1" fill="#7d7d7d" text-anchor="middle" >H</text>
<text x="1245.3" y="167.2" font-size="9" fill="#E8414D" text-anchor="middle" >O</text>
</g>
<g>
<path d="M66 663.1L67 662.8L68 662.9L69 662.9L70 663.1L71 662.7L72 662.8L73 662.7L74 663L75 662.7L76 662.5L77 662.4L78.1 662.5L79.1 662.5L80.1 662.3L81.1 662.2L82.1 662L83.1 661.7L84.1 661.6L85.1 661.5L86.1 661.4L87.1 661.1L88.1 661.1L89.1 661.1L90.1 660.9L91.1 660.8L92.1 661L93.1 661.1L94.1 660.9L95.1 660.7L96.1 660.7L97.1 660.7L98.1 660.6L99.1 660.5L100.2 660.4L101.2 660.1L102.2 659.9L103.2 659.8L104.2 659.9L105.2 659.6L106.2 659.3L107.2 658.9L108.2 658.7L109.2 658.6L110.2 658.7L111.2 658.6L112.2 658.6L113.2 658.5L114.2 658.5L115.2 658.2L116.2 658L117.2 657.6L118.2 657.4L119.2 657.1L120.2 656.9L121.2 656.6L122.2 656.2L123.3 656.3L124.3 656L125.3 655.7L126.3 655.4L127.3 655.1L128.3 654.9L129.3 654.5L130.3 654.4L131.3 653.9L132.3 653.7L133.3 653.4L134.3 653.1L135.3 652.7L136.3 652.5L137.3 652.4L138.3 651.7L139.3 651.3L140.3 650.7L141.3 650.5L142.3 649.8L143.3 649.4L144.3 648.8L145.3 648.5L146.4 648L147.4 647.5L148.4 646.8L149.4 646L150.4 645.7L151.4 645.4L152.4 645.2L153.4 644.4L154.4 643.5L155.4 642.8L156.4 642.7L157.4 642.2L158.4 641.4L159.4 640.6L160.4 640L161.4 639.4L162.4 638.6L163.4 637.9L164.4 637.2L165.4 636.6L166.4 635.7L167.4 634.6L168.5 633.6L169.5 632.7L170.5 631.8L171.5 630.5L172.5 629.3L173.5 628.2L174.5 627.4L175.5 625.9L176.5 624.5L177.5 622.8L178.5 621.7L179.5 620.8L180.5 619.6L181.5 618.1L182.5 616.5L183.5 615.2L184.5 613.9L185.5 612.4L186.5 611.2L187.5 610L188.5 608.7L189.5 607.4L190.5 605.8L191.6 604.4L192.6 602.5L193.6 600.8L194.6 599.4L195.6 598.1L196.6 596.8L197.6 595.2L198.6 593.9L199.6 592.4L200.6 591L201.6 589.3L202.6 587.6L203.6 585.9L204.6 584.3L205.6 582.6L206.6 581L207.6 579.5L208.6 578.3L209.6 576.9L210.6 575.4L211.6 574.3L212.6 573.5L213.7 573.2L214.7 572.5L215.7 571.8L216.7 570.9L217.7 570.6L218.7 570.3L219.7 570.2L220.7 569.7L221.7 569.1L222.7 568.5L223.7 567.9L224.7 567.8L225.7 567.5L226.7 567.1L227.7 566.8L228.7 566.3L229.7 566L230.7 565.7L231.7 565.7L232.7 565.5L233.7 565.5L234.7 565.5L235.7 565.6L236.8 565.6L237.8 565.8L238.8 566.1L239.8 566.7L240.8 567.2L241.8 568L242.8 568.7L243.8 569.6L244.8 570.3L245.8 571.4L246.8 572.2L247.8 573.4L248.8 574.4L249.8 575.6L250.8 576.8L251.8 577.9L252.8 578.8L253.8 579.6L254.8 580.8L255.8 581.8L256.8 582.6L257.8 583.3L258.8 583.9L259.9 585.1L260.9 585.7L261.9 586.8L262.9 587.5L263.9 588.3L264.9 589.1L265.9 590L266.9 591.1L267.9 592L268.9 592.8L269.9 593.6L270.9 594.4L271.9 595.1L272.9 596L273.9 596.6L274.9 597.6L275.9 598.3L276.9 599.2L277.9 600.1L278.9 601.3L279.9 602.5L280.9 603.4L282 604.3L283 605.2L284 606.5L285 607.6L286 608.7L287 610L288 611.2L289 612.8L290 613.9L291 615.2L292 616.5L293 618.2L294 619.9L295 621.2L296 622.4L297 623.3L298 624L299 624.9L300 626L301 627.2L302 628.2L303 629.1L304 629.9L305.1 630.6L306.1 631.4L307.1 632.3L308.1 633.3L309.1 634.3L310.1 635.3L311.1 636.1L312.1 636.8L313.1 637.5L314.1 638.3L315.1 639.1L316.1 639.6L317.1 640.3L318.1 641.2L319.1 642L320.1 642.5L321.1 642.9L322.1 643.6L323.1 644.4L324.1 644.8L325.1 645.4L326.1 645.8L327.2 646.4L328.2 646.7L329.2 647.2L330.2 647.8L331.2 648.3L332.2 648.7L333.2 649.1L334.2 649.4L335.2 649.7L336.2 649.9L337.2 650.4L338.2 651.1L339.2 651.6L340.2 651.9L341.2 652.2L342.2 652.5L343.2 652.9L344.2 653.2L345.2 653.5L346.2 653.7L347.2 653.7L348.2 653.9L349.2 654.2L350.3 654.6L351.3 654.9L352.3 655L353.3 655L354.3 655.3L355.3 655.4L356.3 655.6L357.3 655.6L358.3 656L359.3 656L360.3 656.2L361.3 656.1L362.3 656.3L363.3 656.6L364.3 656.6L365.3 656.9L366.3 657.4L367.3 657.5L368.3 657.6L369.3 657.2L370.3 657.5L371.3 657.3L372.3 657.3L373.4 657.4L374.4 657.7L375.4 658.1L376.4 658L377.4 658.1L378.4 658.3L379.4 658.3L380.4 658.2L381.4 657.9L382.4 658L383.4 658.3L384.4 658.3L385.4 658.2L386.4 658.2L387.4 658.5L388.4 658.8L389.4 658.4L390.4 658.1L391.4 657.8L392.4 658.3L393.4 658.2L394.4 658.6L395.5 658.6L396.5 658.7L397.5 658.4L398.5 658.2L399.5 658L400.5 658.1L401.5 658L402.5 657.8L403.5 657.7L404.5 657.5L405.5 657.4L406.5 657" fill="none" stroke="#3E78B8" stroke-width="2.4" stroke-linejoin="round" stroke-linecap="butt" />
<path d="M66 662.1L67 662L68 661.9L69 661.4L70 661.2L71 661.1L72 661.5L73 661.7L74 661.7L75 661.2L76 660.5L77 660.3L78.1 660.3L79.1 660.6L80.1 660.4L81.1 660.2L82.1 659.7L83.1 659.7L84.1 659.4L85.1 659.5L86.1 659.3L87.1 659.1L88.1 658.9L89.1 658.7L90.1 658.6L91.1 658.4L92.1 658.1L93.1 657.7L94.1 657.6L95.1 657.5L96.1 657.5L97.1 657L98.1 656.8L99.1 656.3L100.2 656L101.2 655.9L102.2 655.9L103.2 655.5L104.2 655.1L105.2 654.8L106.2 654.9L107.2 654.5L108.2 654.3L109.2 653.8L110.2 653.9L111.2 653.5L112.2 653.3L113.2 653.2L114.2 653.1L115.2 652.8L116.2 652.3L117.2 651.9L118.2 651.6L119.2 651.2L120.2 650.8L121.2 650.4L122.2 650L123.3 649.8L124.3 649.4L125.3 649L126.3 648.6L127.3 648.3L128.3 648.1L129.3 647.5L130.3 646.8L131.3 646L132.3 645.3L133.3 644.8L134.3 644.1L135.3 643.2L136.3 642.3L137.3 641.3L138.3 640.7L139.3 639.6L140.3 638.8L141.3 637.8L142.3 637.1L143.3 636.1L144.3 635.2L145.3 634.5L146.4 633.6L147.4 632.7L148.4 631.3L149.4 630.3L150.4 628.9L151.4 627.7L152.4 626.7L153.4 625.5L154.4 624.4L155.4 622.8L156.4 621.1L157.4 619.7L158.4 618.4L159.4 616.8L160.4 615.1L161.4 613.3L162.4 612L163.4 610.4L164.4 608.5L165.4 606.4L166.4 604.3L167.4 602.4L168.5 600.4L169.5 598.3L170.5 596.4L171.5 594.2L172.5 591.7L173.5 589.2L174.5 586.5L175.5 584L176.5 581.3L177.5 579.3L178.5 576.8L179.5 574.3L180.5 571.2L181.5 567.9L182.5 565.1L183.5 562.4L184.5 559.6L185.5 556.5L186.5 553.3L187.5 550L188.5 546.9L189.5 543.7L190.5 540.7L191.6 537.3L192.6 533.9L193.6 530.3L194.6 526.8L195.6 523.4L196.6 519.9L197.6 516.5L198.6 512.7L199.6 508.9L200.6 505.1L201.6 501.4L202.6 498.1L203.6 494.1L204.6 490.5L205.6 486.4L206.6 482.5L207.6 478.3L208.6 474.4L209.6 470.7L210.6 467.1L211.6 463.6L212.6 460L213.7 457L214.7 454.1L215.7 451.2L216.7 448.3L217.7 445.3L218.7 442.7L219.7 440.3L220.7 438.4L221.7 436.5L222.7 434.6L223.7 432.9L224.7 431.4L225.7 430.3L226.7 429.4L227.7 428.4L228.7 427.6L229.7 426.9L230.7 426.4L231.7 426.3L232.7 426.1L233.7 426.5L234.7 426.7L235.7 427.3L236.8 427.4L237.8 428.2L238.8 429L239.8 430.2L240.8 431.3L241.8 432L242.8 433.1L243.8 434.2L244.8 435.7L245.8 437.4L246.8 438.9L247.8 440.6L248.8 442.1L249.8 443.7L250.8 445.4L251.8 447.1L252.8 449.2L253.8 451.4L254.8 453.6L255.8 455.7L256.8 457.6L257.8 459.7L258.8 461.9L259.9 464.3L260.9 466.7L261.9 469.3L262.9 472.2L263.9 474.9L264.9 477.3L265.9 479.7L266.9 482.3L267.9 484.8L268.9 487.5L269.9 490.2L270.9 492.9L271.9 495.5L272.9 498.1L273.9 500.9L274.9 503.8L275.9 506.5L276.9 509.2L277.9 511.6L278.9 514.2L279.9 516.8L280.9 519.6L282 522.2L283 524.7L284 527.4L285 530.2L286 532.9L287 535.7L288 538.7L289 541.4L290 544.3L291 546.8L292 549.4L293 552L294 554.6L295 557.6L296 560.2L297 563.2L298 565.9L299 568.4L300 570.9L301 573.5L302 576L303 578.4L304 580.3L305.1 582.7L306.1 584.6L307.1 587.1L308.1 588.9L309.1 590.9L310.1 593L311.1 595.6L312.1 597.9L313.1 600L314.1 601.6L315.1 603.7L316.1 605.6L317.1 607.7L318.1 609.5L319.1 611.4L320.1 612.9L321.1 614.6L322.1 616.3L323.1 618L324.1 619.4L325.1 620.7L326.1 621.7L327.2 623L328.2 624.1L329.2 625.2L330.2 626.3L331.2 627.3L332.2 628.4L333.2 629.3L334.2 629.7L335.2 630.1L336.2 630.8L337.2 631.6L338.2 632.4L339.2 632.8L340.2 633.5L341.2 633.9L342.2 634.9L343.2 635.4L344.2 636.2L345.2 636.7L346.2 637.7L347.2 638.3L348.2 639.1L349.2 639.7L350.3 640.7L351.3 641.6L352.3 642.3L353.3 643L354.3 643.6L355.3 644.4L356.3 645L357.3 645.6L358.3 646.1L359.3 646.7L360.3 647.7L361.3 648.2L362.3 648.7L363.3 649.1L364.3 649.4L365.3 649.6L366.3 649.7L367.3 650.3L368.3 651.3L369.3 651.8L370.3 652.3L371.3 652.3L372.3 652.3L373.4 652.1L374.4 652.6L375.4 653.2L376.4 653.6L377.4 653.9L378.4 653.8L379.4 654.3L380.4 654.5L381.4 654.7L382.4 654.5L383.4 654.5L384.4 654.5L385.4 654.8L386.4 654.6L387.4 654.9L388.4 654.9L389.4 655L390.4 654.9L391.4 654.9L392.4 654.8L393.4 655L394.4 655L395.5 655.4L396.5 655.3L397.5 655.7L398.5 655.6L399.5 655.7L400.5 655.8L401.5 656.1L402.5 656.4L403.5 656.1L404.5 656L405.5 656L406.5 656.2" fill="none" stroke="#C8102E" stroke-width="2.4" stroke-linejoin="round" stroke-linecap="butt" />
<rect x="66" y="391.1" width="340.5" height="274" fill="none" stroke="#222" stroke-width="1.9"/>
<line x1="66" y1="665" x2="60.4" y2="665" stroke="#222" stroke-width="1.7" />
<text x="57.4" y="669.7" font-size="13" fill="#222" text-anchor="end" >0.0</text>
<line x1="66" y1="633.9" x2="62.8" y2="633.9" stroke="#222" stroke-width="1.7" />
<line x1="66" y1="602.7" x2="60.4" y2="602.7" stroke="#222" stroke-width="1.7" />
<text x="57.4" y="607.4" font-size="13" fill="#222" text-anchor="end" >0.5</text>
<line x1="66" y1="571.6" x2="62.8" y2="571.6" stroke="#222" stroke-width="1.7" />
<line x1="66" y1="540.4" x2="60.4" y2="540.4" stroke="#222" stroke-width="1.7" />
<text x="57.4" y="545.1" font-size="13" fill="#222" text-anchor="end" >1.0</text>
<line x1="66" y1="509.2" x2="62.8" y2="509.2" stroke="#222" stroke-width="1.7" />
<line x1="66" y1="478.1" x2="60.4" y2="478.1" stroke="#222" stroke-width="1.7" />
<text x="57.4" y="482.8" font-size="13" fill="#222" text-anchor="end" >1.5</text>
<line x1="66" y1="447" x2="62.8" y2="447" stroke="#222" stroke-width="1.7" />
<line x1="66" y1="415.8" x2="60.4" y2="415.8" stroke="#222" stroke-width="1.7" />
<text x="57.4" y="420.5" font-size="13" fill="#222" text-anchor="end" >2.0</text>
<line x1="129.8" y1="665.1" x2="129.8" y2="670.7" stroke="#222" stroke-width="1.7" />
<text x="129.8" y="685.2" font-size="13" fill="#222" text-anchor="middle" >750</text>
<line x1="236.2" y1="665.1" x2="236.2" y2="670.7" stroke="#222" stroke-width="1.7" />
<text x="236.2" y="685.2" font-size="13" fill="#222" text-anchor="middle" >800</text>
<line x1="342.7" y1="665.1" x2="342.7" y2="670.7" stroke="#222" stroke-width="1.7" />
<text x="342.7" y="685.2" font-size="13" fill="#222" text-anchor="middle" >850</text>
<line x1="76.6" y1="665.1" x2="76.6" y2="668.3" stroke="#222" stroke-width="1.7" />
<line x1="183" y1="665.1" x2="183" y2="668.3" stroke="#222" stroke-width="1.7" />
<line x1="289.5" y1="665.1" x2="289.5" y2="668.3" stroke="#222" stroke-width="1.7" />
<line x1="395.9" y1="665.1" x2="395.9" y2="668.3" stroke="#222" stroke-width="1.7" />
<text x="236.5" y="703" font-size="17" fill="#222" text-anchor="middle" textLength="129" lengthAdjust="spacingAndGlyphs" >Wavelength (nm)</text>
<text x="23.5" y="527.4" font-size="17.4" fill="#222" text-anchor="middle" transform="rotate(-90 23.5 527.4)" textLength="199.6" lengthAdjust="spacingAndGlyphs" >PL Intensity (Counts/10<tspan font-size="11.5" dy="-6.2">5</tspan><tspan dy="6.2">)</tspan></text>
<text x="1.6" y="393.8" font-size="26" fill="#111" text-anchor="start" >d</text>
<line x1="305.9" y1="416.8" x2="342.1" y2="416.8" stroke="#C8102E" stroke-width="2.4" />
<line x1="305.9" y1="436.4" x2="342.1" y2="436.4" stroke="#3E78B8" stroke-width="2.4" />
<text x="345.6" y="422.1" font-size="16.4" fill="#222" text-anchor="start" textLength="50.4" lengthAdjust="spacingAndGlyphs" >PAFTB</text>
<text x="345.4" y="441.4" font-size="16.4" fill="#222" text-anchor="start" textLength="48.6" lengthAdjust="spacingAndGlyphs" >2PACz</text>
</g>
<g>
<defs><linearGradient id="gb" x1="0" x2="1" y1="0" y2="0"><stop offset="0" stop-color="#7DA5D4"/><stop offset="0.35" stop-color="#6F9ACD"/><stop offset="0.7" stop-color="#5685BE"/><stop offset="1" stop-color="#4A79B4"/></linearGradient><linearGradient id="gr" x1="0" x2="1" y1="0" y2="0"><stop offset="0" stop-color="#FB4A6B"/><stop offset="0.35" stop-color="#F24360"/><stop offset="0.7" stop-color="#D62C48"/><stop offset="1" stop-color="#C31A37"/></linearGradient></defs>
<rect x="569.9" y="541.2" width="50.9" height="124.2" fill="url(#gb)"/>
<rect x="739.7" y="429.6" width="50.9" height="235.8" fill="url(#gr)"/>
<line x1="595.9" y1="531.4" x2="595.9" y2="551" stroke="#3a3a3a" stroke-width="0.9" />
<line x1="592.6" y1="531.4" x2="599.2" y2="531.4" stroke="#3a3a3a" stroke-width="0.9" />
<line x1="592.6" y1="551" x2="599.2" y2="551" stroke="#3a3a3a" stroke-width="0.9" />
<line x1="765.1" y1="425" x2="765.1" y2="433.6" stroke="#3a3a3a" stroke-width="0.9" />
<line x1="762" y1="425" x2="768.2" y2="425" stroke="#3a3a3a" stroke-width="0.9" />
<line x1="762" y1="433.6" x2="768.2" y2="433.6" stroke="#3a3a3a" stroke-width="0.9" />
<rect x="511.1" y="392.1" width="339.3" height="273.3" fill="none" stroke="#222" stroke-width="1.7"/>
<line x1="511.1" y1="441.6" x2="505.5" y2="441.6" stroke="#222" stroke-width="1.6" />
<text x="501.6" y="447.2" font-size="15.8" fill="#222" text-anchor="end" >4.0</text>
<line x1="511.1" y1="565.9" x2="505.5" y2="565.9" stroke="#222" stroke-width="1.6" />
<text x="501.6" y="571.5" font-size="15.8" fill="#222" text-anchor="end" >3.5</text>
<line x1="511.1" y1="503.8" x2="508.1" y2="503.8" stroke="#222" stroke-width="1.6" />
<line x1="511.1" y1="628.2" x2="508.1" y2="628.2" stroke="#222" stroke-width="1.6" />
<line x1="595.9" y1="665.4" x2="595.9" y2="671.4" stroke="#222" stroke-width="1.6" />
<line x1="765.1" y1="665.4" x2="765.1" y2="671.4" stroke="#222" stroke-width="1.6" />
<line x1="511.1" y1="665.4" x2="511.1" y2="668.4" stroke="#222" stroke-width="1.6" />
<line x1="680.5" y1="665.4" x2="680.5" y2="668.4" stroke="#222" stroke-width="1.6" />
<line x1="850.4" y1="665.4" x2="850.4" y2="668.4" stroke="#222" stroke-width="1.6" />
<text x="595.4" y="702" font-size="18" fill="#222" text-anchor="middle" >2PACz</text>
<text x="765.5" y="702" font-size="18" fill="#222" text-anchor="middle" >PAFTB</text>
<text x="475.6" y="519.6" font-size="18" fill="#222" text-anchor="middle" transform="rotate(-90 475.6 519.6)" >PLQY (%)</text>
<text x="460.6" y="393.5" font-size="26" fill="#111" text-anchor="start" >e</text>
</g>
<g>
<clipPath id="cf"><rect x="955.1" y="392.8" width="338.4" height="272.5"/></clipPath>
<g clip-path="url(#cf)">
<path d="M955.1 392L955.6 395.8L956.1 399.7L956.6 403.9L957.1 408.5L957.6 413.4L958.1 417.6L958.6 420.7L959.1 425.1L959.6 428.2L960.1 430L960.6 432.7L961.1 435.5L961.6 439.3L962.1 439.9L962.6 440.4L963.1 446L963.6 445.9L964.1 450.8L964.5 451L965 454L965.5 451.1L966 455.5L966.5 452.1L967 453.7L967.5 456.2L968 466.6L968.5 460.3L968.9 459.6L969.4 460.3L969.9 468.2L970.4 465.1L970.9 468.4L971.4 468.9L971.8 462.4L972.3 471.1L972.8 468.8L973.3 466L973.7 472.9L974.2 471.7L974.7 471.5L975.2 472.5L975.6 478.8L976.1 473.8L976.6 469.2L977 482.3L977.5 472.4L978 476.1L978.4 480L978.9 469.5L979.4 475L979.8 484.2L980.3 479L980.7 477.3L981.2 481.2L981.6 477.9L982.1 481.6L982.6 478.9L983 476.1L983.5 485.8L983.9 482.2L984.4 485.7L984.8 483.5L985.3 490L985.7 487.6L986.1 486.2L986.6 481.8L987 481.2L987.5 492.9L987.9 490.8L988.3 484.6L988.8 497.6L989.2 490.5L989.7 489.2L990.1 483.5L990.5 486.4L990.9 491.5L991.4 492L991.8 491.9L992.2 484.2L992.7 493.5L993.1 493.2L993.5 490.5L993.9 493L994.3 493.7L994.8 498.6L995.2 493.5L995.6 495.9L996 488.7L996.4 491.3L996.8 494.8L997.3 491.8L997.7 496.9L998.1 490.6L998.5 495.8L998.9 493.2L999.3 502.7L999.7 494.8L1000.1 505.3L1000.5 507.4L1000.9 498.6L1001.3 501.9L1001.7 496.8L1002.1 487.5L1002.5 502.2L1002.9 501.3L1003.3 497.4L1003.7 496.2L1004.1 499.6L1004.5 500L1004.9 495.8L1005.2 496.8L1005.6 504.8L1006 500.1L1006.4 499.7L1006.8 505.4L1007.2 498.9L1007.5 504.7L1007.9 495.9L1008.3 499.8L1008.7 500.5L1009.1 504.1L1009.4 501.8L1009.8 512L1010.2 507.4L1010.6 500L1010.9 513.3L1011.3 498L1011.7 511.5L1012 498.7L1012.4 507L1012.8 498.9L1013.1 502.3L1013.5 511.2L1013.9 497.2L1014.2 496.4L1014.6 503.9L1014.9 505.1L1015.3 504.7L1015.7 509.1L1016 498.8L1016.4 507.2L1016.7 504.8L1017.1 508.8L1017.4 508.1L1017.8 511.7L1018.1 499L1018.5 506.1L1018.8 500.6L1019.2 505.5L1019.5 509.4L1019.9 507.6L1020.2 508.9L1020.6 506.1L1020.9 508.3L1021.2 508L1021.6 514L1021.9 511L1022.3 498.8L1022.6 510.6L1022.9 512.8L1023.3 505.6L1023.6 500.5L1023.9 515.4L1024.3 508.8L1024.6 511.2L1024.9 517.6L1025.3 504.4L1025.6 508.4L1025.9 508L1026.3 512.5L1026.6 506.3L1026.9 511.6L1027.2 509.7L1027.6 515L1027.9 515.8L1028.2 502.6L1028.5 512.1L1028.8 508L1029.2 509.8L1029.5 512.1L1029.8 512.6L1030.1 506.8L1030.4 511.8L1030.8 511.1L1031.1 510.3L1031.4 504.5L1031.7 507.1L1032 508.8L1032.3 513.9L1032.6 518.6L1032.9 506.2L1033.2 506.3L1033.6 512.1L1033.9 508.6L1034.2 507.5L1034.5 507.4L1034.8 507L1035.1 514.4L1035.4 504.3L1035.7 519L1036 507.8L1036.3 509.8L1036.6 507.9L1036.9 503.1L1037.2 505.1L1037.5 519.1L1037.8 522.4L1038.1 508.7L1038.4 518.7L1038.7 513.3L1039 508.9L1039.3 522.7L1039.6 525.6L1039.9 512.2L1040.2 513.5L1040.4 515.1L1040.7 513.7L1041 518.8L1041.3 522.7L1041.6 515.1L1041.9 519.7L1042.2 523.7L1042.5 511.8L1042.7 514.9L1043 512.5L1043.3 520.3L1043.6 518.5L1043.9 520.5L1044.2 520L1044.4 514.1L1044.7 519.6L1045 513.4L1045.3 513.6L1045.6 505.2L1045.8 523.5L1046.1 511L1046.4 516.3L1046.7 516L1047 524.3L1047.2 518.6L1047.5 512.2L1047.8 516.7L1048 515.9L1048.3 518L1048.6 510.5L1048.9 516.7L1049.1 529.6L1049.4 520.7L1049.7 528.4L1049.9 536.9L1050.2 520L1050.5 510.1L1050.7 517L1051 524L1051.3 522.7L1051.5 511.5L1051.8 516.7L1052.1 517.4L1052.3 518L1052.6 517.6L1052.9 513.6L1053.1 515L1053.4 516.9L1053.6 524.1L1053.9 515.5L1054.2 522.2L1054.4 512.6L1054.7 525.8L1054.9 519.3L1055.2 518.7L1055.5 526.4L1055.7 509.8L1056 511.2L1056.2 521.5L1056.5 514.9L1056.7 517L1057 535.1L1057.2 517.9L1057.5 519.7L1057.7 519L1058 525.7L1058.3 521.1L1058.5 520.7L1058.8 513.4L1059 518L1059.2 519.9L1059.5 511.9L1059.7 523.2L1060 522.3L1060.2 531L1060.5 511.9L1060.7 515.1L1061 515.5L1061.2 516.8L1061.5 520L1061.7 519.4L1062 522.1L1062.2 521.9L1062.4 520.6L1062.7 512.9L1062.9 518L1063.2 521.4L1063.4 524.5L1063.6 524.9L1063.9 512.8L1064.1 518.6L1064.4 521.1L1064.6 523.5L1064.8 528L1065.1 522L1065.3 516.9L1065.6 524L1065.8 523.1L1066 523.2L1066.3 521.4L1066.5 531.6L1066.7 523.5L1067 527.2L1067.2 517.4L1067.4 526.8L1067.7 519.2L1067.9 514.3L1068.1 524.3L1068.4 526.1L1068.6 521.6L1068.8 522.8L1069 528.6L1069.3 520.3L1069.5 512.2L1069.7 524.5L1070 524.2L1070.2 529.3L1070.4 521.4L1070.6 530.7L1070.9 529.9L1071.1 516.4L1071.3 528.8L1071.5 517.6L1071.8 515.4L1072 522.2L1072.2 520.6L1072.4 513.4L1072.7 525L1072.9 527.4L1073.1 532.1L1073.3 523.8L1073.6 516.1L1073.8 518.9L1074 529.8L1074.2 529.3L1074.4 527.3L1074.7 522.8L1074.9 525.7L1075.1 523.3L1075.3 522.9L1075.5 526.4L1075.8 525L1076 523.6L1076.2 525.3L1076.4 522.1L1076.6 514.9L1076.8 521.7L1077.1 524.8L1077.3 535.4L1077.5 523L1077.7 537.3L1077.9 533.9L1078.1 520.6L1078.3 521.5L1078.6 526.4L1078.8 536L1079 527.8L1079.2 529.7L1079.4 522.2L1079.6 513.7L1079.8 524.6L1080 530.6L1080.2 533L1080.5 526.4L1080.7 527.2L1080.9 533.1L1081.1 525.6L1081.3 533.2L1081.5 520.2L1081.7 520.5L1081.9 520.4L1082.1 529.3L1082.3 523.7L1082.5 527.4L1082.7 529L1082.9 528.8L1083.2 534.7L1083.4 535.7L1083.6 522.5L1083.8 528.1L1084 525.8L1084.2 521.5L1084.4 537.9L1084.6 531.9L1084.8 526.3L1085 525.1L1085.2 529.6L1085.4 521.7L1085.6 526.3L1085.8 534.9L1086 533.2L1086.2 523.1L1086.4 525.1L1086.6 539.6L1086.8 520.3L1087 524.5L1087.2 520.4L1087.4 530.2L1087.6 529.8L1087.8 534.9L1088 514.5L1088.2 529.2L1088.4 519.4L1088.6 532.2L1088.8 527.4L1089 538.8L1089.2 530.7L1089.4 522.9L1089.6 536.2L1089.8 522.6L1089.9 526.7L1090.1 535.1L1090.3 531.8L1090.5 531.5L1090.7 529.2L1090.9 532.1L1091.1 534L1091.3 530.8L1091.5 535.3L1091.7 537.1L1091.9 529.5L1092.1 524.2L1092.3 538.8L1092.5 529.3L1092.6 533.3L1092.8 535.4L1093 524.6L1093.2 532.6L1093.4 521.2L1093.6 534.3L1093.8 527.4L1094 531.1L1094.2 534.3L1094.4 526.4L1094.5 530.8L1094.7 526.4L1094.9 530.3L1095.1 536.7L1095.3 530.7L1095.5 529.8L1095.7 524.7L1095.8 535.8L1096 530.5L1096.2 541.2L1096.4 526.6L1096.6 537.1L1096.8 541.9L1097 530.9L1097.1 524.3L1097.3 540.2L1097.5 537.4L1097.7 535.2L1097.9 537.7L1098.1 528.6L1098.2 535.8L1098.4 535.3L1098.6 527.6L1098.8 535.6L1099 528.5L1099.2 537.1L1099.3 538.7L1099.5 542.9L1099.7 520.8L1099.9 533.2L1100.1 529.9L1100.2 531.6L1100.4 530.5L1100.6 531.2L1100.8 520.9L1101 538L1101.1 541.5L1101.3 537.9L1101.5 540.1L1101.7 527.4L1101.9 527.1L1102 537.8L1102.2 540.7L1102.4 534.1L1102.6 524.1L1102.7 550.9L1102.9 529L1103.1 538.9L1103.3 526.2L1103.4 539L1103.6 534.1L1103.8 541.9L1104 538.5L1104.1 524.6L1104.3 527.7L1104.5 535L1104.7 538L1104.8 544.9L1105 535.1L1105.2 533L1105.4 533.3L1105.5 533.4L1105.7 539.9L1105.9 533.4L1106.1 533.2L1106.2 525.6L1106.4 522.6L1106.6 534L1106.7 538L1106.9 533.7L1107.1 537.1L1107.3 538L1107.4 533.8L1107.6 540L1107.8 529.9L1107.9 534.2L1108.1 532.1L1108.3 534.8L1108.5 538.2L1108.6 539.7L1108.8 535.2L1109 537.2L1109.1 532.5L1109.3 534L1109.5 542.7L1109.6 533.6L1109.8 542.6L1110 538L1110.1 536L1110.3 547.8L1110.5 533.7L1110.6 533.4L1110.8 535.3L1111 537L1111.1 536.8L1111.3 540.7L1111.5 536.2L1111.6 538L1111.8 534.1L1112 542.4L1112.1 533.4L1112.3 534L1112.5 535.7L1112.6 537.6L1112.8 531.7L1112.9 545.8L1113.1 532.3L1113.3 533.6L1113.4 533.5L1113.6 532.9L1113.8 539.3L1113.9 536.9L1114.1 531.6L1114.3 532.8L1114.4 534.2L1114.6 545.3L1114.7 532.3L1114.9 528.7L1115.1 529.7L1115.2 534.3L1115.4 545.8L1115.5 530.2L1115.7 536.7L1115.9 553L1116 533.7L1116.2 545.6L1116.4 544.4L1116.5 540.1L1116.7 528.7L1116.8 538.5L1117 534.6L1117.1 526.2L1117.3 527.1L1117.5 537L1117.6 537.9L1117.8 544.6L1117.9 540.9L1118.1 534L1118.3 534.2L1118.4 536L1118.6 530.8L1118.7 541.6L1118.9 537.2L1119 532.5L1119.2 533.4L1119.4 530.6L1119.5 534.6L1119.7 539L1119.8 534.9L1120 543.6L1120.1 548L1120.3 533.7L1120.4 537.6L1120.6 535.5L1120.8 548.6L1120.9 539.7L1121.1 541.3L1121.2 543.1L1121.4 552.8L1121.5 539.7L1121.7 532.3L1121.8 535.4L1122 541.6L1122.1 537.9L1122.3 533.3L1122.5 557L1122.6 538.8L1122.8 534.8L1122.9 534L1123.1 528.2L1123.2 531.4L1123.4 536.3L1123.5 536.5L1123.7 533.6L1123.8 541.8L1124 538.7L1124.1 533.1L1124.3 527.2L1124.4 539.6L1124.6 539L1124.7 537.5L1124.9 530.8L1125 539L1125.2 530.2L1125.3 545.2L1125.5 540.1L1125.6 540.3L1125.8 534.3L1125.9 532.9L1126.1 549.1L1126.2 545.1L1126.4 537.2L1126.5 543.5L1126.7 549.5L1126.8 533.2L1127 536.5L1127.1 536.5L1127.3 542.6L1127.4 533.4L1127.6 541.2L1127.7 533.2L1127.9 545.7L1128 545.4L1128.2 538.6L1128.3 544.5L1128.5 535.9L1128.6 538.5L1128.7 546.1L1128.9 539.7L1129 542.5L1129.2 534.7L1129.3 544.4L1129.5 543.2L1129.6 533.2L1129.8 527.5L1129.9 528.8L1130.1 540.2L1130.2 539.3L1130.4 531.6L1130.5 541.5L1130.6 547.2L1130.8 540.1L1130.9 538.1L1131.1 546.4L1131.2 552.1L1131.4 550.6L1131.5 537L1131.7 546.1L1131.8 542.1L1131.9 540L1132.1 537.5L1132.2 543.5L1132.4 538.4L1132.5 547.3L1132.7 543.9L1132.8 548.3L1132.9 534.8L1133.1 541.9L1133.2 546.6L1133.4 544.1L1133.5 543.3L1133.6 537.6L1133.8 552.8L1133.9 548.9L1134.1 544.5L1134.2 527.5L1134.4 536.4L1134.5 543L1134.6 537.9L1134.8 530.2L1134.9 543.9L1135.1 544.8L1135.2 535.2L1135.3 539.5L1135.5 538.5L1135.6 546L1135.8 531.3L1135.9 532.6L1136 539.3L1136.2 538.7L1136.3 557L1136.5 539.1L1136.6 544.3L1136.7 540.4L1136.9 538.9L1137 545.4L1137.2 554.8L1137.3 541L1137.4 548.3L1137.6 545.6L1137.7 547.5L1137.8 545.8L1138 559.9L1138.1 536.2L1138.3 542.1L1138.4 537L1138.5 532L1138.7 543.8L1138.8 556.4L1138.9 549.9L1139.1 552.2L1139.2 547.4L1139.3 543.7L1139.5 558.2L1139.6 542.1L1139.8 554.6L1139.9 542.5L1140 545.1L1140.2 546.5L1140.3 545L1140.4 548.2L1140.6 548.7L1140.7 556.3L1140.8 545L1141 533.7L1141.1 533L1141.2 536.8L1141.4 540.6L1141.5 549.5L1141.6 536.3L1141.8 545.5L1141.9 545.7L1142.1 547.2L1142.2 544.7L1142.3 548.2L1142.5 546L1142.6 552.8L1142.7 548L1142.9 532L1143 546.1L1143.1 547.3L1143.3 542.4L1143.4 541.3L1143.5 553.4L1143.6 547.3L1143.8 540.2L1143.9 544.3L1144 545.3L1144.2 536.6L1144.3 550.7L1144.4 545.7L1144.6 549.7L1144.7 537.2L1144.8 560.2L1145 550.9L1145.1 550L1145.2 542.4L1145.4 542.8L1145.5 538L1145.6 557.7L1145.8 542L1145.9 548.8L1146 551.4L1146.1 543.5L1146.3 553.2L1146.4 561.8L1146.5 549.6L1146.7 557.6L1146.8 551.6L1146.9 544.9L1147.1 545.3L1147.2 537.6L1147.3 548.8L1147.4 558.2L1147.6 552.6L1147.7 553.8L1147.8 556L1148 544.9L1148.1 552.1L1148.2 561.9L1148.3 543.4L1148.5 548.7L1148.6 545.7L1148.7 547.3L1148.9 544L1149 547.9L1149.1 540.4L1149.2 545.5L1149.4 545.8L1149.5 545.7L1149.6 558.6L1149.8 549.6L1149.9 550.2L1150 547.2L1150.1 558.1L1150.3 538.5L1150.4 548L1150.5 557.2L1150.6 560.9L1150.8 550.8L1150.9 549.5L1151 553.9L1151.1 548.4L1151.3 553.4L1151.4 545.6L1151.5 554.1L1151.7 549.5L1151.8 543.1L1151.9 533.9L1152 556.4L1152.2 552.6L1152.3 555.3L1152.4 544.5L1152.5 557.6L1152.7 553L1152.8 549.9L1152.9 556.5L1153 556.4L1153.2 553.1L1153.3 565.2L1153.4 560.2L1153.5 552.8L1153.6 549.1L1153.8 551.4L1153.9 562.9L1154 553.4L1154.1 545.2L1154.3 546.7L1154.4 550.9L1154.5 556.6L1154.6 546.4L1154.8 554.5L1154.9 558.8L1155 556.2L1155.1 541.6L1155.3 549.3L1155.4 543.4L1155.5 554.2L1155.6 544.9L1155.7 555.1L1155.9 552.1L1156 535.9L1156.1 546.2L1156.2 554.6L1156.4 551.8L1156.5 549.2L1156.6 543.6L1156.7 554.8L1156.8 564L1157 553.4L1157.1 551.5L1157.2 550.9L1157.3 543.3L1157.5 549.6L1157.6 546.5L1157.7 559.6L1157.8 546.2L1157.9 538.9L1158.1 546.9L1158.2 550.3L1158.3 551L1158.4 540.9L1158.5 558.7L1158.7 553L1158.8 549.2L1158.9 547.5L1159 555.4L1159.1 550.4L1159.3 554.4L1159.4 551.7L1159.5 553.5L1159.6 560.7L1159.7 552.8L1159.9 547L1160 559.6L1160.1 554.5L1160.2 548.5L1160.3 560.5L1160.5 551.8L1160.6 560.5L1160.7 545.7L1160.8 538.8L1160.9 540.5L1161 554.7L1161.2 548.4L1161.3 552.5L1161.4 552.7L1161.5 543.6L1161.6 562.9L1161.8 546.7L1161.9 553.9L1162 544.6L1162.1 552.4L1162.2 558.4L1162.3 551.9L1162.5 549L1162.6 553.7L1162.7 550.7L1162.8 557.6L1162.9 570L1163 548.2L1163.2 549.5L1163.3 553.2L1163.4 553.8L1163.5 547.5L1163.6 557.5L1163.7 559.4L1163.9 555.7L1164 546.7L1164.1 564.6L1164.2 546.8L1164.3 559.1L1164.4 562.6L1164.6 546.5L1164.7 555.5L1164.8 564.2L1164.9 557.4L1165 548.8L1165.1 547.2L1165.3 558L1165.4 552.4L1165.5 550.4L1165.6 559.7L1165.7 552.8L1165.8 555.5L1165.9 559.1L1166.1 558.8L1166.2 555L1166.3 555.3L1166.4 559.5L1166.5 558.6L1166.6 548.3L1166.7 554.2L1166.9 549.9L1167 547.9L1167.1 551.9L1167.2 541.6L1167.3 561.8L1167.4 550.6L1167.5 558.2L1167.7 544.2L1167.8 545.2L1167.9 570.8L1168 563.2L1168.1 551.8L1168.2 551L1168.3 551.4L1168.4 556.9L1168.6 553.4L1168.7 552.1L1168.8 557.1L1168.9 549.8L1169 573.9L1169.1 552.4L1169.2 564.2L1169.4 550.4L1169.5 558.5L1169.6 563.3L1169.7 554.4L1169.8 563.6L1169.9 563.6L1170 568.7L1170.1 557.3L1170.2 553.8L1170.4 550.4L1170.5 558.3L1170.6 550.4L1170.7 557.3L1170.8 558.1L1170.9 553.6L1171 550.5L1171.1 560L1171.3 559.4L1171.4 558.8L1171.5 557.2L1171.6 564.3L1171.7 551L1171.8 560.7L1171.9 554.8L1172 563.9L1172.1 555.6L1172.2 555.4L1172.4 561.1L1172.5 545.2L1172.6 555.7L1172.7 546.7L1172.8 551.9L1172.9 563.1L1173 561.1L1173.1 555.5L1173.2 558.1L1173.3 558.2L1173.5 560.6L1173.6 572.4L1173.7 560.3L1173.8 575.9L1173.9 556.3L1174 564.1L1174.1 564.1L1174.2 560.5L1174.3 557.1L1174.4 569.7L1174.6 572.3L1174.7 567L1174.8 574.9L1174.9 566.3L1175 548.8L1175.1 567.1L1175.2 554.9L1175.3 569.7L1175.4 557.4L1175.5 561.8L1175.6 560L1175.7 555.7L1175.9 548.2L1176 558.4L1176.1 558.9L1176.2 567L1176.3 555.9L1176.4 561.7L1176.5 554.3L1176.6 560.3L1176.7 548.6L1176.8 575.4L1176.9 562.3L1177 554.2L1177.1 562.8L1177.3 566.1L1177.4 562.3L1177.5 570.8L1177.6 559.6L1177.7 544.8L1177.8 552.8L1177.9 568.8L1178 567.1L1178.1 563.6L1178.2 553.9L1178.3 566.8L1178.4 565.9L1178.5 554.8L1178.6 555L1178.7 563.7L1178.9 569.3L1179 572.8L1179.1 566.2L1179.2 578.7L1179.3 556.1L1179.4 565.9L1179.5 558L1179.6 549L1179.7 553.5L1179.8 570.1L1179.9 555.5L1180 553.7L1180.1 567.1L1180.2 568.7L1180.3 562.5L1180.4 574L1180.5 551.9L1180.6 581L1180.8 570.2L1180.9 563.9L1181 563.6L1181.1 560.9L1181.2 560.2L1181.3 563.7L1181.4 554.4L1181.5 579.1L1181.6 562.3L1181.7 567.6L1181.8 561.4L1181.9 560.8L1182 569.2L1182.1 567.2L1182.2 557.1L1182.3 560.1L1182.4 567.7L1182.5 549.2L1182.6 547.6L1182.7 574L1182.8 560.7L1182.9 546.6L1183 557.5L1183.1 561.4L1183.3 564.5L1183.4 567L1183.5 564.7L1183.6 567.2L1183.7 558L1183.8 566.2L1183.9 566.5L1184 572.5L1184.1 563.8L1184.2 570.1L1184.3 564.8L1184.4 556.4L1184.5 561L1184.6 560.1L1184.7 561.2L1184.8 563.3L1184.9 564.7L1185 566.1L1185.1 558.6L1185.2 572.1L1185.3 554.8L1185.4 563.8L1185.5 569.6L1185.6 567.7L1185.7 569.2L1185.8 563.1L1185.9 569.6L1186 556.4L1186.1 570.2L1186.2 582.7L1186.3 569.9L1186.4 580.4L1186.5 564.8L1186.6 557.2L1186.7 560.1L1186.8 575L1186.9 570.4L1187 552.8L1187.1 562.5L1187.2 564.8L1187.3 557.6L1187.4 548.8L1187.5 556.1L1187.6 564L1187.7 562.6L1187.8 560.8L1187.9 569.8L1188 573.3L1188.1 564.9L1188.2 572.5L1188.3 565.8L1188.4 564.7L1188.5 549.9L1188.6 571.9L1188.7 566.5L1188.8 566.8L1188.9 562.5L1189 558.4L1189.1 569.4L1189.2 572L1189.3 578.7L1189.4 572.9L1189.5 562.1L1189.6 565.6L1189.7 573.8L1189.8 568.8L1189.9 565.9L1190 562.6L1190.1 570.7L1190.2 568.1L1190.3 580.8L1190.4 575.2L1190.5 555.3L1190.6 584.2L1190.7 569L1190.8 564.9L1190.9 569.4L1191 572.8L1191.1 567.1L1191.2 566.8L1191.3 567.4L1191.4 581.8L1191.5 567.9L1191.6 573.4L1191.7 571.1L1191.8 565.3L1191.9 562.5L1192 560.7L1192.1 570.9L1192.2 560.6L1192.3 559L1192.4 559.3L1192.5 557.7L1192.6 568.4L1192.7 568.7L1192.8 561.6L1192.9 578.2L1193 566L1193.1 571.6L1193.2 570.4L1193.3 581.6L1193.4 574.6L1193.5 567.9L1193.6 561.5L1193.7 560.9L1193.8 568.5L1193.9 569.4L1194 574.4L1194.1 565.1L1194.2 570L1194.3 563.8L1194.4 556.1L1194.5 568.5L1194.6 580.2L1194.7 575L1194.7 579.9L1194.8 577.8L1194.9 559.3L1195 566.9L1195.1 580.7L1195.2 563.9L1195.3 559.8L1195.4 571.4L1195.5 573.9L1195.6 571.3L1195.7 566.8L1195.8 564.3L1195.9 560.6L1196 560.4L1196.1 560.6L1196.2 559.5L1196.3 564.3L1196.4 581.4L1196.5 570.2L1196.6 566.9L1196.7 572.2L1196.8 562.8L1196.9 572.1L1197 576.6L1197.1 559.4L1197.1 564.7L1197.2 568L1197.3 563L1197.4 562.1L1197.5 567.2L1197.6 590.4L1197.7 575L1197.8 573.3L1197.9 577.6L1198 568.5L1198.1 561.5L1198.2 573.7L1198.3 579L1198.4 556.2L1198.5 573.6L1198.6 580L1198.7 568.5L1198.8 567.2L1198.9 575.8L1199 564.7L1199 574.2L1199.1 577.7L1199.2 569.2L1199.3 565L1199.4 575.5L1199.5 568.2L1199.6 571.4L1199.7 551.9L1199.8 576.3L1199.9 561.1L1200 571.3L1200.1 571.9L1200.2 565.8L1200.3 564.6L1200.4 562.1L1200.5 568.7L1200.5 575.8L1200.6 575.4L1200.7 567.5L1200.8 567.1L1200.9 561.5L1201 568.3L1201.1 563.8L1201.2 560.8L1201.3 570.3L1201.4 583.6L1201.5 581.1L1201.6 583.3L1201.7 560.5L1201.8 578.5L1201.9 563L1201.9 567.6L1202 559.9L1202.1 564.7L1202.2 572.8L1202.3 573.6L1202.4 571.5L1202.5 570.9L1202.6 576.3L1202.7 572.5L1202.8 560.9L1202.9 586.4L1203 570.5L1203.1 579.6L1203.2 571.1L1203.2 566.4L1203.3 573L1203.4 567L1203.5 585.7L1203.6 564.7L1203.7 577.5L1203.8 568.2L1203.9 571.5L1204 595.3L1204.1 578.9L1204.2 571.3L1204.3 562L1204.3 570.9L1204.4 571.2L1204.5 584.7L1204.6 563L1204.7 560.5L1204.8 573.1L1204.9 575.1L1205 586.8L1205.1 567L1205.2 555.1L1205.3 568.3L1205.4 564.5L1205.4 569.6L1205.5 581.6L1205.6 564.1L1205.7 583.8L1205.8 575.5L1205.9 571.8L1206 567.4L1206.1 570.9L1206.2 571.1L1206.3 580.1L1206.3 584.6L1206.4 573.7L1206.5 579.8L1206.6 584.9L1206.7 584.6L1206.8 578.2L1206.9 589.9L1207 585.5L1207.1 588.1L1207.2 573.1L1207.3 571.5L1207.3 560.5L1207.4 587L1207.5 580.1L1207.6 568L1207.7 576.5L1207.8 577.4L1207.9 562.7L1208 577.6L1208.1 584.4L1208.2 585.8L1208.2 572.5L1208.3 572.8L1208.4 586.5L1208.5 583.2L1208.6 571.2L1208.7 571L1208.8 580.5L1208.9 570.7L1209 571.1L1209 590.5L1209.1 578L1209.2 572.4L1209.3 580.2L1209.4 594.1L1209.5 577.9L1209.6 570.1L1209.7 564.4L1209.8 594.8L1209.8 557.8L1209.9 585.1L1210 568.9L1210.1 567L1210.2 568.8L1210.3 575L1210.4 585.7L1210.5 571.5L1210.6 582L1210.6 598.5L1210.7 556.8L1210.8 571.1L1210.9 563.4L1211 583.9L1211.1 565.8L1211.2 565L1211.3 565.3L1211.4 576.8L1211.4 586.6L1211.5 578.1L1211.6 595.9L1211.7 591.2L1211.8 576.2L1211.9 585L1212 578.3L1212.1 577.9L1212.1 563.2L1212.2 567.5L1212.3 577.5L1212.4 568.3L1212.5 583.5L1212.6 579.9L1212.7 570.5L1212.8 587.7L1212.8 579.6L1212.9 588.5L1213 576.6L1213.1 565.7L1213.2 583.7L1213.3 575.9L1213.4 585L1213.5 587.2L1213.5 588L1213.6 567.1L1213.7 561.1L1213.8 574.2L1213.9 583.7L1214 572.6L1214.1 580.7L1214.2 572L1214.2 575.9L1214.3 576L1214.4 573.6L1214.5 582.9L1214.6 581.5L1214.7 593.1L1214.8 581.9L1214.8 590.4L1214.9 579.6L1215 586.4L1215.1 577.8L1215.2 575.1L1215.3 590.6L1215.4 585.3L1215.4 586.5L1215.5 573.1L1215.6 566.3L1215.7 572.4L1215.8 581.7L1215.9 568.1L1216 591.8L1216.1 568L1216.1 584.4L1216.2 604.5L1216.3 560.5L1216.4 567.6L1216.5 587.8L1216.6 578L1216.7 581L1216.7 578.6L1216.8 592L1216.9 585L1217 575.9L1217.1 577.8L1217.2 570.6L1217.3 579L1217.3 562.9L1217.4 585.6L1217.5 577.7L1217.6 596.5L1217.7 590.4L1217.8 570L1217.8 587.7L1217.9 575.9L1218 580.5L1218.1 588.8L1218.2 582.9L1218.3 584.3L1218.4 584.1L1218.4 574.4L1218.5 575.2L1218.6 585L1218.7 587.9L1218.8 578.2L1218.9 581.2L1218.9 572.7L1219 561.7L1219.1 574.1L1219.2 580.9L1219.3 582L1219.4 587.8L1219.5 588.3L1219.5 589.2L1219.6 584L1219.7 584.3L1219.8 575.2L1219.9 584.2L1220 582.6L1220 591.3L1220.1 568.9L1220.2 577.1L1220.3 567.9L1220.4 575L1220.5 570.1L1220.5 583.3L1220.6 575.8L1220.7 562.1L1220.8 591.8L1220.9 572.5L1221 568.9L1221.1 578.2L1221.1 575.6L1221.2 571.9L1221.3 587.2L1221.4 578.4L1221.5 589.1L1221.6 587.5L1221.6 587L1221.7 583L1221.8 580.7L1221.9 578.3L1222 594.5L1222.1 567.1L1222.1 573L1222.2 576.3L1222.3 585.1L1222.4 582.9L1222.5 577.8L1222.6 578.9L1222.6 597.4L1222.7 576.4L1222.8 561.2L1222.9 599.2L1223 574.6L1223 579.5L1223.1 583.4L1223.2 571.9L1223.3 593L1223.4 581.3L1223.5 571.4L1223.5 584.4L1223.6 586.3L1223.7 581.9L1223.8 586.6L1223.9 571L1224 590.8L1224 576L1224.1 594.1L1224.2 577.7L1224.3 584L1224.4 607.9L1224.5 583.2L1224.5 592.6L1224.6 587L1224.7 571.4L1224.8 593.2L1224.9 592.7L1224.9 572.2L1225 582.5L1225.1 571.5L1225.2 580.9L1225.3 591.2L1225.4 584.2L1225.4 574L1225.5 576.2L1225.6 583.7L1225.7 583.4L1225.8 584.7L1225.8 588.8L1225.9 569.1L1226 583.9L1226.1 594L1226.2 588.1L1226.2 578.2L1226.3 578.9L1226.4 585.3L1226.5 589.9L1226.6 584L1226.7 599.5L1226.7 595.9L1226.8 577.9L1226.9 588.5L1227 581.3L1227.1 574.8L1227.1 579.2L1227.2 584.3L1227.3 568.4L1227.4 579.2L1227.5 587.7L1227.5 578.8L1227.6 581.4L1227.7 592.3L1227.8 584.2L1227.9 586.2L1227.9 603.2L1228 586.4L1228.1 587.4L1228.2 588.8L1228.3 600.1L1228.4 588.1L1228.4 585.4L1228.5 584.3L1228.6 595.3L1228.7 580.1L1228.8 596.2L1228.8 587.2L1228.9 575L1229 591.4L1229.1 589.8L1229.2 576.9L1229.2 588.8L1229.3 588.1L1229.4 583.7L1229.5 577.2L1229.6 606.6L1229.6 593L1229.7 594.7L1229.8 595.5L1229.9 593.3L1230 593.2L1230 583.4L1230.1 593.8L1230.2 584.9L1230.3 582.7L1230.4 592.4L1230.4 585L1230.5 573.4L1230.6 583.5L1230.7 591.8L1230.8 586.8L1230.8 594.4L1230.9 584.1L1231 579.4L1231.1 593.6L1231.1 588.2L1231.2 577.6L1231.3 590.8L1231.4 585L1231.5 595.7L1231.5 593.8L1231.6 591.1L1231.7 570.4L1231.8 590.2L1231.9 591.3L1231.9 591.6L1232 588.2L1232.1 581.7L1232.2 585.4L1232.3 571.5L1232.3 585.3L1232.4 575.9L1232.5 584.8L1232.6 582.3L1232.7 600L1232.7 588.3L1232.8 587.8L1232.9 589.3L1233 607.3L1233 580.4L1233.1 590.7L1233.2 591.2L1233.3 589.6L1233.4 589.4L1233.4 584.3L1233.5 598.9L1233.6 595.7L1233.7 585.3L1233.7 586.5L1233.8 590.9L1233.9 592.7L1234 595.1L1234.1 588.4L1234.1 578.6L1234.2 597.2L1234.3 576.2L1234.4 581.3L1234.5 591.9L1234.5 581.8L1234.6 601.3L1234.7 604L1234.8 599.7L1234.8 591.7L1234.9 591.1L1235 592.7L1235.1 587.5L1235.2 608.4L1235.2 584.4L1235.3 601.2L1235.4 594.2L1235.5 592.1L1235.5 598.8L1235.6 600.9L1235.7 597.5L1235.8 588.8L1235.9 584L1235.9 584.2L1236 597.6L1236.1 595.8L1236.2 597L1236.2 585.3L1236.3 608L1236.4 579.3L1236.5 593.2L1236.5 595.9L1236.6 586.3L1236.7 581L1236.8 586.4L1236.9 580.9L1236.9 588.2L1237 579.6L1237.1 579.5L1237.2 590.3L1237.2 578.2L1237.3 588.1L1237.4 588.8L1237.5 597.7L1237.5 592.1L1237.6 583.4L1237.7 601.5L1237.8 584.4L1237.9 586.9L1237.9 587.5L1238 610.8L1238.1 590.7L1238.2 584.6L1238.2 596.6L1238.3 589.2L1238.4 612.8L1238.5 584.6L1238.5 595.9L1238.6 583.1L1238.7 607.3L1238.8 584.6L1238.8 592.3L1238.9 583.8L1239 598.5L1239.1 595.8L1239.2 573.3L1239.2 597.8L1239.3 596.7L1239.4 592.9L1239.5 599.7L1239.5 581.1L1239.6 577.2L1239.7 596.8L1239.8 606.7L1239.8 581.4L1239.9 581.9L1240 584.2L1240.1 581.6L1240.1 598.6L1240.2 592.4L1240.3 603.6L1240.4 604L1240.4 583.1L1240.5 597L1240.6 573.8L1240.7 590.6L1240.7 596.8L1240.8 584.8L1240.9 577.3L1241 587.3L1241 602.4L1241.1 588.3L1241.2 580.5L1241.3 595.8L1241.3 598.4L1241.4 583.4L1241.5 590.4L1241.6 601.6L1241.6 595L1241.7 598.4L1241.8 589.3L1241.9 590.9L1241.9 582.6L1242 586L1242.1 606.4L1242.2 588.6L1242.2 584.7L1242.3 588.2L1242.4 583.7L1242.5 596.9L1242.5 600.7L1242.6 584.6L1242.7 601.8L1242.8 613L1242.8 584L1242.9 598.8L1243 595L1243.1 605.3L1243.1 604.6L1243.2 603L1243.3 595.7L1243.4 589.5L1243.4 614.9L1243.5 586.5L1243.6 603.4L1243.7 602.4L1243.7 587.2L1243.8 593.4L1243.9 607.1L1244 578.4L1244 600.6L1244.1 590.9L1244.2 591.3L1244.3 581.7L1244.3 597.1L1244.4 584.9L1244.5 599.8L1244.6 584.1L1244.6 600L1244.7 596.4L1244.8 578.4L1244.9 590.7L1244.9 592.4L1245 576.1L1245.1 590.4L1245.1 600.8L1245.2 587.5L1245.3 604.4L1245.4 584.4L1245.4 583.9L1245.5 598.8L1245.6 599.3L1245.7 592.3L1245.7 593.7L1245.8 602.7L1245.9 589.1L1246 613.6L1246 597.8L1246.1 597.6L1246.2 596.4L1246.3 591.5L1246.3 605.4L1246.4 589.2L1246.5 595.8L1246.5 600L1246.6 607L1246.7 605.2L1246.8 591.3L1246.8 603.2L1246.9 593.9L1247 585.8L1247.1 586L1247.1 582L1247.2 597.2L1247.3 604.6L1247.4 586.3L1247.4 592.1L1247.5 585.5L1247.6 594.7L1247.6 585.1L1247.7 587.8L1247.8 588.9L1247.9 590.7L1247.9 591.6L1248 593L1248.1 593.1L1248.2 586.9L1248.2 599.7L1248.3 581.3L1248.4 596.1L1248.4 587.1L1248.5 596.1L1248.6 597.5L1248.7 579.3L1248.7 598.1L1248.8 607.3L1248.9 601.9L1249 598.3L1249 578.7L1249.1 593.8L1249.2 587.9L1249.2 604.9L1249.3 592.7L1249.4 590.1L1249.5 581.4L1249.5 602.1L1249.6 590.8L1249.7 593.3L1249.7 605.4L1249.8 596.2L1249.9 598.4L1250 619.3L1250 591.1L1250.1 591.6L1250.2 600.1L1250.3 608.8L1250.3 584.3L1250.4 594L1250.5 587.9L1250.5 584.9L1250.6 601.1L1250.7 589.7L1250.8 598.7L1250.8 597.1L1250.9 597.4L1251 596.7L1251 587.5L1251.1 595.7L1251.2 598.1L1251.3 599.3L1251.3 593.9L1251.4 605.1L1251.5 601.5L1251.5 597.4L1251.6 602.1L1251.7 598.1L1251.8 602.6L1251.8 581.2L1251.9 586.3L1252 593.4L1252 597.7L1252.1 580L1252.2 594.6L1252.3 598.2L1252.3 594.8L1252.4 594.8L1252.5 585.9L1252.5 597.7L1252.6 580.9L1252.7 605.8L1252.8 591.8L1252.8 607L1252.9 583.1L1253 600.8L1253 598.4L1253.1 590.1L1253.2 587.5L1253.3 608.4L1253.3 601.1L1253.4 611.4L1253.5 596.9L1253.5 599L1253.6 601.3L1253.7 604.5L1253.8 601.7L1253.8 605.2L1253.9 593.8L1254 586L1254 617.5L1254.1 599.5L1254.2 602.3L1254.2 594.3L1254.3 607.5L1254.4 599.9L1254.5 608.4L1254.5 592.8L1254.6 597.9L1254.7 600.2L1254.7 595.6L1254.8 601.1L1254.9 614L1255 593.8L1255 596.5L1255.1 600.4L1255.2 590.8L1255.2 589L1255.3 609.5L1255.4 606.5L1255.4 586.5L1255.5 587.5L1255.6 606.2L1255.7 610.6L1255.7 605.3L1255.8 604L1255.9 614.9L1255.9 599.3L1256 611.8L1256.1 611.2L1256.1 591.9L1256.2 606L1256.3 600.4L1256.4 594.4L1256.4 592.9L1256.5 602.9L1256.6 599.5L1256.6 607.7L1256.7 585.7L1256.8 594.4L1256.8 610.6L1256.9 600.1L1257 594L1257.1 596L1257.1 585.3L1257.2 588.8L1257.3 605.3L1257.3 601.2L1257.4 612.7L1257.5 598.3L1257.5 599.2L1257.6 579.3L1257.7 599.7L1257.7 621.8L1257.8 606.9L1257.9 599.7L1258 612.8L1258 608.9L1258.1 604.2L1258.2 597.9L1258.2 602.4L1258.3 609.3L1258.4 594.2L1258.4 606L1258.5 605.7L1258.6 614.5L1258.6 608.5L1258.7 595.5L1258.8 617.2L1258.9 601.9L1258.9 595.1L1259 604.8L1259.1 599.3L1259.1 612.2L1259.2 590.5L1259.3 592.2L1259.3 599.5L1259.4 619.1L1259.5 611.7L1259.5 593.3L1259.6 587.6L1259.7 599.2L1259.8 591.3L1259.8 607.5L1259.9 603.6L1260 601.9L1260 598.3L1260.1 617.1L1260.2 594L1260.2 590.9L1260.3 613.2L1260.4 615.4L1260.4 599.1L1260.5 608.4L1260.6 627L1260.6 595.3L1260.7 601L1260.8 606.9L1260.8 585.2L1260.9 601.3L1261 609.7L1261.1 601.7L1261.1 612.6L1261.2 609.9L1261.3 599.3L1261.3 607.9L1261.4 607L1261.5 588.9L1261.5 595.4L1261.6 595.9L1261.7 598.3L1261.7 598.7L1261.8 590.8L1261.9 603.3L1261.9 587.7L1262 612.3L1262.1 605.6L1262.1 616.8L1262.2 606.5L1262.3 598.7L1262.3 591.1L1262.4 609.7L1262.5 603.4L1262.6 606.8L1262.6 610.5L1262.7 615.2L1262.8 603.1L1262.8 621.1L1262.9 602.7L1263 603.5L1263 610L1263.1 613.6L1263.2 617.5L1263.2 588.3L1263.3 617.2L1263.4 590.8L1263.4 598.7L1263.5 607.4L1263.6 615.4L1263.6 595.1L1263.7 589.7L1263.8 613.2L1263.8 607L1263.9 595.2L1264 601.3L1264 587.8L1264.1 609.8L1264.2 599.6L1264.2 616.8L1264.3 587.2L1264.4 611.5L1264.4 627.7L1264.5 605.8L1264.6 606L1264.6 588.8L1264.7 607.9L1264.8 604.9L1264.8 599.6L1264.9 591.4L1265 605.5L1265 595.9L1265.1 600.4L1265.2 607.8L1265.2 604.4L1265.3 604.8L1265.4 614L1265.4 594.7L1265.5 619L1265.6 595.1L1265.6 596.9L1265.7 606.2L1265.8 612.7L1265.9 607.5L1265.9 601.2L1266 598.9L1266.1 602.9L1266.1 596.9L1266.2 610.9L1266.3 603.5L1266.3 621.6L1266.4 599L1266.5 604.4L1266.5 609.7L1266.6 595.7L1266.7 599.7L1266.7 637L1266.8 605.6L1266.8 620.6L1266.9 596.7L1267 585.7L1267 611L1267.1 605.5L1267.2 608.5L1267.2 603L1267.3 600.5L1267.4 595.1L1267.4 616L1267.5 592.9L1267.6 615.5L1267.6 603.9L1267.7 596.4L1267.8 600.1L1267.8 615.7L1267.9 613.4L1268 611L1268 607.1L1268.1 596.7L1268.2 619.7L1268.2 602.5L1268.3 601.3L1268.4 601.8L1268.4 602.7L1268.5 593.9L1268.6 602.5L1268.6 599.4L1268.7 601.9L1268.8 591.8L1268.8 626.9L1268.9 596L1269 609.6L1269 609.9L1269.1 616.8L1269.2 626.8L1269.2 611L1269.3 614L1269.4 602.9L1269.4 622.4L1269.5 595.1L1269.6 605L1269.6 609.9L1269.7 614.5L1269.8 615.3L1269.8 618.9L1269.9 612.9L1270 607.7L1270 609.4L1270.1 622.2L1270.1 610.3L1270.2 616.6L1270.3 606.4L1270.3 592.1L1270.4 602.3L1270.5 611L1270.5 624.8L1270.6 622.5L1270.7 625.6L1270.7 601.6L1270.8 615.7L1270.9 607.6L1270.9 614.3L1271 607.4L1271.1 596.1L1271.1 615L1271.2 611.6L1271.3 616.3L1271.3 600.6L1271.4 618.7L1271.5 619.9L1271.5 622.7L1271.6 623L1271.6 604.3L1271.7 587.4L1271.8 618.6L1271.8 600.2L1271.9 606.4L1272 619.8L1272 611.5L1272.1 611.1L1272.2 615.6L1272.2 592.5L1272.3 629.1L1272.4 605.5L1272.4 606L1272.5 614.7L1272.6 607.7L1272.6 601.2L1272.7 607.7L1272.7 605.3L1272.8 602.9L1272.9 631L1272.9 596.4L1273 590.2L1273.1 600.6L1273.1 600.3L1273.2 623.9L1273.3 610.6L1273.3 617.5L1273.4 615.3L1273.5 600.9L1273.5 617.5L1273.6 610.9L1273.7 629.9L1273.7 611.2L1273.8 608.9L1273.8 616.7L1273.9 616.9L1274 593.6L1274 622.1L1274.1 620.5L1274.2 617.9L1274.2 599.3L1274.3 592.1L1274.4 606.9L1274.4 617.1L1274.5 614.2L1274.6 600.6L1274.6 619.2L1274.7 597.4L1274.7 597.7L1274.8 609.6L1274.9 604.4L1274.9 603.5L1275 596.7L1275.1 621L1275.1 599.9L1275.2 614.1L1275.3 618.1L1275.3 609.5L1275.4 612.6L1275.4 620.5L1275.5 627.3L1275.6 620.1L1275.6 597.9L1275.7 593.8L1275.8 604.8L1275.8 600.2L1275.9 615.9L1276 611.6L1276 608.2L1276.1 621.9L1276.1 620.9L1276.2 610L1276.3 614.1L1276.3 621.8L1276.4 607.4L1276.5 613.6L1276.5 601.9L1276.6 611.2L1276.7 614.1L1276.7 610L1276.8 612.9L1276.8 617.9L1276.9 615.2L1277 604.5L1277 605.4L1277.1 599.9L1277.2 629.4L1277.2 615.3L1277.3 615.5L1277.4 609.9L1277.4 616L1277.5 616.6L1277.5 604.4L1277.6 610L1277.7 623.6L1277.7 599.8L1277.8 602.7L1277.9 617.4L1277.9 604.2L1278 619.2L1278 601.7L1278.1 614L1278.2 620L1278.2 615.6L1278.3 619.7L1278.4 610.2L1278.4 610.4L1278.5 611.7L1278.6 617.6L1278.6 647.3L1278.7 611.3L1278.7 632.7L1278.8 609.9L1278.9 602.1L1278.9 609.7L1279 616.2L1279.1 614.1L1279.1 613.7L1279.2 617.9L1279.2 618.3L1279.3 621.9L1279.4 601.8L1279.4 612.7L1279.5 603.9L1279.6 615L1279.6 611.9L1279.7 614.3L1279.7 608.4L1279.8 605.1L1279.9 610.5L1279.9 619.5L1280 620.7L1280.1 598.2L1280.1 615.6L1280.2 615.8L1280.2 599.9L1280.3 603.1L1280.4 608L1280.4 617L1280.5 593L1280.6 609.4L1280.6 608L1280.7 614.8L1280.7 628.1L1280.8 627.2L1280.9 609.4L1280.9 609.6L1281 615.7L1281.1 625.5L1281.1 628.6L1281.2 616.6L1281.2 628.8L1281.3 605.2L1281.4 603L1281.4 589.8L1281.5 605.5L1281.6 619.5L1281.6 622.5L1281.7 648.8L1281.7 619.6L1281.8 615.4L1281.9 604.8L1281.9 608L1282 608.3L1282 611.8L1282.1 607.7L1282.2 600.9L1282.2 624.9L1282.3 618.5L1282.4 628.6L1282.4 599.6L1282.5 602.3L1282.5 607.1L1282.6 626.6L1282.7 612.4L1282.7 616.4L1282.8 613.4L1282.9 616L1282.9 609.3L1283 618.2L1283 606.4L1283.1 612L1283.2 617.2L1283.2 615.5L1283.3 618.8L1283.3 606.9L1283.4 617.1L1283.5 611.7L1283.5 618.4L1283.6 630.4L1283.7 606.2L1283.7 625.6L1283.8 608.3L1283.8 610.7L1283.9 632.6L1284 624.4L1284 619.9L1284.1 623.2L1284.1 627.2L1284.2 607.9L1284.3 617.2L1284.3 611.2L1284.4 619.2L1284.5 612L1284.5 622.6L1284.6 615.3L1284.6 609.5L1284.7 614.6L1284.8 619.7L1284.8 626.4L1284.9 613.5L1284.9 611.9L1285 617.8L1285.1 623.1L1285.1 610.1L1285.2 594L1285.2 618.3L1285.3 612.1L1285.4 611.8L1285.4 645.1L1285.5 614.2L1285.6 622.7L1285.6 602.9L1285.7 618L1285.7 623.5L1285.8 617.7L1285.9 614L1285.9 621.3L1286 616.2L1286 630.1L1286.1 617.9L1286.2 608.5L1286.2 598.4L1286.3 609.1L1286.3 613.2L1286.4 605L1286.5 606.4L1286.5 601L1286.6 605.9L1286.6 617.1L1286.7 613.5L1286.8 614.3L1286.8 613.1L1286.9 614.1L1286.9 624.1L1287 639.8L1287.1 623L1287.1 638.9L1287.2 615.5L1287.3 616.2L1287.3 634.6L1287.4 609.8L1287.4 608.2L1287.5 615.4L1287.6 601.4L1287.6 599.8L1287.7 629.2L1287.7 606.8L1287.8 612.3L1287.9 612.5L1287.9 607.8L1288 624L1288 622.6L1288.1 625.2L1288.2 624.4L1288.2 617.7L1288.3 632.4L1288.3 627.7L1288.4 611.3L1288.5 617.5L1288.5 613.1L1288.6 637.9L1288.6 625L1288.7 622.6L1288.8 616.6L1288.8 622.9L1288.9 608.2L1288.9 617.6L1289 616.9L1289.1 616.9L1289.1 610.4L1289.2 621.9L1289.2 606.7L1289.3 612.7L1289.4 615.7L1289.4 616.8L1289.5 612.3L1289.5 607.8L1289.6 608.4L1289.7 613.7L1289.7 609.1L1289.8 616.2L1289.8 605.8L1289.9 617.7L1290 641L1290 605.2L1290.1 616.4L1290.1 630L1290.2 619.5L1290.3 626.8L1290.3 599L1290.4 612.9L1290.4 634.8L1290.5 612.5L1290.6 621.8L1290.6 600.6L1290.7 628.9L1290.7 643.6L1290.8 617.2L1290.9 621.4L1290.9 622.1L1291 642.3L1291 613.8L1291.1 602.8L1291.2 639.4L1291.2 607.1L1291.3 623.9L1291.3 597.5L1291.4 613.9L1291.4 620L1291.5 607.8L1291.6 613.1L1291.6 624.3L1291.7 611.4L1291.7 623.5L1291.8 638.2L1291.9 600.2L1291.9 621.9L1292 624.6L1292 615.1L1292.1 635.5L1292.2 633.1L1292.2 623.6L1292.3 623.8L1292.3 617.8L1292.4 608L1292.5 623.4L1292.5 613.8L1292.6 612.8L1292.6 630.2L1292.7 616.4L1292.7 628.6L1292.8 608.7L1292.9 614.3L1292.9 618.6L1293 633.3L1293 617.7L1293.1 626.8L1293.2 612.1L1293.2 620.1L1293.3 627.4L1293.3 610.2L1293.4 612L1293.5 625.1L1293.5 608.1" fill="none" stroke="#3B74B4" stroke-width="0.7" stroke-linejoin="round" stroke-linecap="butt" />
<path d="M955.1 392.3L955.6 395.6L956.1 399.1L956.6 402.8L957.1 407.3L957.6 411.6L958.1 416.1L958.6 418.9L959.1 421.8L959.6 424L960.1 426.8L960.6 429.7L961.1 430.8L961.6 431.7L962.1 435.9L962.6 435.4L963.1 437.5L963.6 436L964.1 441L964.5 441L965 440.5L965.5 441.5L966 446.9L966.5 442.8L967 444.9L967.5 446.1L968 446.7L968.5 446.4L968.9 453.8L969.4 444L969.9 452.3L970.4 457.7L970.9 451.4L971.4 447.3L971.8 454.2L972.3 448.4L972.8 449L973.3 457.3L973.7 463.4L974.2 459.6L974.7 452.2L975.2 459.2L975.6 462.1L976.1 461.9L976.6 457.8L977 458.3L977.5 455.8L978 455.8L978.4 462.6L978.9 460.3L979.4 464L979.8 460.3L980.3 464.8L980.7 465.3L981.2 454.7L981.6 461.8L982.1 460L982.6 454.3L983 460.2L983.5 463.5L983.9 463.2L984.4 466.3L984.8 460.4L985.3 465.5L985.7 458.8L986.1 466.1L986.6 466.5L987 467L987.5 463.7L987.9 465.5L988.3 461.8L988.8 468.6L989.2 466L989.7 460.7L990.1 468.3L990.5 465.9L990.9 462.7L991.4 466.4L991.8 470.8L992.2 476.4L992.7 461L993.1 467.8L993.5 465.2L993.9 471.5L994.3 463.8L994.8 468.4L995.2 470.3L995.6 474L996 469.6L996.4 472.9L996.8 472.2L997.3 477.6L997.7 473.6L998.1 471.4L998.5 476.8L998.9 472.1L999.3 470.2L999.7 473.9L1000.1 475.2L1000.5 475.4L1000.9 470L1001.3 479.2L1001.7 474.7L1002.1 475.3L1002.5 473.5L1002.9 474.4L1003.3 478.4L1003.7 467.3L1004.1 474L1004.5 479.8L1004.9 478.2L1005.2 474.7L1005.6 473L1006 480.4L1006.4 473L1006.8 480.9L1007.2 478.8L1007.5 472.9L1007.9 470.1L1008.3 476.6L1008.7 477.5L1009.1 472L1009.4 480.7L1009.8 475.8L1010.2 476.1L1010.6 473.5L1010.9 476.2L1011.3 478.4L1011.7 475.3L1012 482L1012.4 474.8L1012.8 480.5L1013.1 481.5L1013.5 479.6L1013.9 478.2L1014.2 475.9L1014.6 479.4L1014.9 476.1L1015.3 475.3L1015.7 479.4L1016 482.9L1016.4 475.9L1016.7 478.4L1017.1 487.8L1017.4 483.4L1017.8 479.2L1018.1 485.2L1018.5 482.6L1018.8 486.9L1019.2 478.8L1019.5 479.5L1019.9 479.9L1020.2 475.4L1020.6 482.1L1020.9 482L1021.2 473.7L1021.6 486.2L1021.9 478.5L1022.3 486.5L1022.6 480.6L1022.9 473.9L1023.3 480.7L1023.6 484.8L1023.9 473.3L1024.3 484.2L1024.6 483L1024.9 481.1L1025.3 487.7L1025.6 478.4L1025.9 476.7L1026.3 479.9L1026.6 481.6L1026.9 483.5L1027.2 479.7L1027.6 496.2L1027.9 483.8L1028.2 482.4L1028.5 491.5L1028.8 482L1029.2 484.2L1029.5 484L1029.8 483.5L1030.1 481.8L1030.4 482.4L1030.8 488.3L1031.1 484.8L1031.4 485.2L1031.7 484.4L1032 487L1032.3 481.1L1032.6 480L1032.9 479.3L1033.2 478L1033.6 479.6L1033.9 487.1L1034.2 487.8L1034.5 487L1034.8 483.4L1035.1 486.2L1035.4 482L1035.7 479.7L1036 487.6L1036.3 482.3L1036.6 487.7L1036.9 491.3L1037.2 491.4L1037.5 487.7L1037.8 494.3L1038.1 484.7L1038.4 481L1038.7 491.5L1039 488.2L1039.3 481.1L1039.6 485.7L1039.9 486.4L1040.2 488.3L1040.4 483.4L1040.7 486.1L1041 491.9L1041.3 497.7L1041.6 498.9L1041.9 485.2L1042.2 488.9L1042.5 482.4L1042.7 486.1L1043 493.3L1043.3 487.1L1043.6 483.7L1043.9 492L1044.2 490.5L1044.4 481.9L1044.7 495.8L1045 493.1L1045.3 484.7L1045.6 488.1L1045.8 493.6L1046.1 495L1046.4 487.3L1046.7 484.5L1047 486.1L1047.2 487.8L1047.5 483.7L1047.8 488.3L1048 493L1048.3 482L1048.6 494.8L1048.9 490.4L1049.1 490.2L1049.4 484.5L1049.7 493.2L1049.9 491.3L1050.2 497.7L1050.5 489L1050.7 488.7L1051 487.9L1051.3 494.4L1051.5 489.7L1051.8 494.3L1052.1 492.7L1052.3 491.2L1052.6 485.9L1052.9 492.8L1053.1 490.4L1053.4 494.6L1053.6 493.6L1053.9 494.2L1054.2 492.1L1054.4 488.5L1054.7 496.1L1054.9 488.8L1055.2 495.7L1055.5 490.5L1055.7 494.1L1056 493.2L1056.2 493.6L1056.5 487.8L1056.7 491.2L1057 488.1L1057.2 493.8L1057.5 493.4L1057.7 486.2L1058 499.5L1058.3 496.3L1058.5 493.5L1058.8 485.7L1059 495.4L1059.2 489.8L1059.5 486.8L1059.7 494.1L1060 493.9L1060.2 486.7L1060.5 495.6L1060.7 497.8L1061 490.1L1061.2 495.6L1061.5 488.5L1061.7 491.5L1062 501.2L1062.2 492.7L1062.4 493.8L1062.7 496.7L1062.9 489.6L1063.2 501.6L1063.4 499.4L1063.6 496.3L1063.9 491.1L1064.1 500.9L1064.4 497.1L1064.6 497.5L1064.8 501L1065.1 496.2L1065.3 499.6L1065.6 496.7L1065.8 493.7L1066 498.8L1066.3 498.7L1066.5 499.2L1066.7 498.7L1067 501.9L1067.2 500.3L1067.4 494.8L1067.7 499.1L1067.9 482.9L1068.1 499L1068.4 493.7L1068.6 502.1L1068.8 496.8L1069 498.1L1069.3 496.2L1069.5 490.6L1069.7 496.6L1070 501.2L1070.2 495.6L1070.4 500.2L1070.6 496.7L1070.9 489.8L1071.1 492.4L1071.3 491.9L1071.5 494.2L1071.8 496.5L1072 503.1L1072.2 498.5L1072.4 498.8L1072.7 493.8L1072.9 492.6L1073.1 494.7L1073.3 500.1L1073.6 489.5L1073.8 491.2L1074 497.8L1074.2 496.2L1074.4 494.4L1074.7 496.7L1074.9 497.6L1075.1 495.2L1075.3 497.2L1075.5 496.5L1075.8 504.4L1076 504.4L1076.2 490.6L1076.4 504.2L1076.6 495.6L1076.8 496.4L1077.1 496.8L1077.3 500.7L1077.5 493.7L1077.7 496.5L1077.9 499.4L1078.1 504.1L1078.3 499L1078.6 500.7L1078.8 503.6L1079 496.7L1079.2 495.9L1079.4 494.9L1079.6 497.9L1079.8 499.5L1080 493.8L1080.2 495.3L1080.5 489.4L1080.7 496.3L1080.9 502.7L1081.1 494.7L1081.3 489.5L1081.5 497.6L1081.7 499.6L1081.9 501.4L1082.1 491.2L1082.3 499.7L1082.5 500L1082.7 497.8L1082.9 505.3L1083.2 500.3L1083.4 504.7L1083.6 499.8L1083.8 497.2L1084 495.5L1084.2 501.1L1084.4 496L1084.6 501.1L1084.8 506.7L1085 497.1L1085.2 500.4L1085.4 499.1L1085.6 511.5L1085.8 498.8L1086 498.7L1086.2 498.7L1086.4 495.5L1086.6 501.4L1086.8 491.2L1087 496.9L1087.2 497.6L1087.4 511.2L1087.6 508.8L1087.8 493.9L1088 498.4L1088.2 496.3L1088.4 501.8L1088.6 500.7L1088.8 497.8L1089 503.6L1089.2 494.8L1089.4 505.1L1089.6 499.4L1089.8 501.5L1089.9 498.9L1090.1 495.3L1090.3 505.3L1090.5 498.6L1090.7 500L1090.9 497L1091.1 500.7L1091.3 502.7L1091.5 498.5L1091.7 495.2L1091.9 497.3L1092.1 500.1L1092.3 499L1092.5 507.6L1092.6 503.2L1092.8 502L1093 503.2L1093.2 504L1093.4 501.2L1093.6 499.4L1093.8 493.3L1094 504.2L1094.2 505.1L1094.4 497.1L1094.5 500.6L1094.7 505.2L1094.9 495.1L1095.1 502.3L1095.3 502.9L1095.5 504.1L1095.7 505.6L1095.8 501.2L1096 505.8L1096.2 491.8L1096.4 500.3L1096.6 502.9L1096.8 505.2L1097 500.8L1097.1 497.8L1097.3 501L1097.5 507.1L1097.7 503.1L1097.9 509.8L1098.1 496.3L1098.2 499.4L1098.4 501.4L1098.6 501.1L1098.8 504.9L1099 503.1L1099.2 498.5L1099.3 502.7L1099.5 500.1L1099.7 501.7L1099.9 501.7L1100.1 501.3L1100.2 498.4L1100.4 504L1100.6 499.9L1100.8 506.3L1101 505.4L1101.1 506L1101.3 499.3L1101.5 504.3L1101.7 497.9L1101.9 507.5L1102 501.4L1102.2 508.2L1102.4 498.5L1102.6 506.2L1102.7 501.3L1102.9 506.3L1103.1 506.6L1103.3 502.3L1103.4 511.1L1103.6 508.7L1103.8 497.2L1104 507.1L1104.1 500.1L1104.3 507.4L1104.5 511L1104.7 505.5L1104.8 500.1L1105 503.9L1105.2 505.1L1105.4 500.2L1105.5 507.2L1105.7 500.9L1105.9 502.6L1106.1 508.6L1106.2 500.2L1106.4 499.4L1106.6 505.2L1106.7 503.7L1106.9 505.5L1107.1 509.3L1107.3 501L1107.4 508.9L1107.6 502.2L1107.8 506.8L1107.9 509.1L1108.1 501.9L1108.3 503.6L1108.5 497L1108.6 505L1108.8 504.1L1109 504.3L1109.1 505.9L1109.3 499.3L1109.5 498.6L1109.6 502L1109.8 509.4L1110 503L1110.1 504.8L1110.3 507L1110.5 512.1L1110.6 501.4L1110.8 500.1L1111 503.8L1111.1 503.3L1111.3 497.9L1111.5 497.3L1111.6 504.4L1111.8 518.8L1112 502.4L1112.1 504.8L1112.3 502.6L1112.5 507.8L1112.6 510L1112.8 503.4L1112.9 507L1113.1 505.2L1113.3 503.9L1113.4 505.3L1113.6 512.3L1113.8 503.4L1113.9 508.1L1114.1 506.9L1114.3 504.2L1114.4 512.7L1114.6 507.3L1114.7 514.5L1114.9 508.7L1115.1 504.8L1115.2 507L1115.4 507.6L1115.5 504L1115.7 508.3L1115.9 513.9L1116 502.1L1116.2 505.8L1116.4 503.4L1116.5 508.7L1116.7 508.8L1116.8 510.3L1117 516L1117.1 509.2L1117.3 509.8L1117.5 500.5L1117.6 516.1L1117.8 507.2L1117.9 508.2L1118.1 507.8L1118.3 508.2L1118.4 506.6L1118.6 504L1118.7 515.3L1118.9 504.2L1119 509.1L1119.2 512.4L1119.4 516.6L1119.5 516.5L1119.7 508.4L1119.8 513.2L1120 513.3L1120.1 510.4L1120.3 508.2L1120.4 510.4L1120.6 513.5L1120.8 511.2L1120.9 509.2L1121.1 513.2L1121.2 504.5L1121.4 503L1121.5 502.9L1121.7 510L1121.8 510.1L1122 512.7L1122.1 502.7L1122.3 510.8L1122.5 499.5L1122.6 518.3L1122.8 507.7L1122.9 506.5L1123.1 508.7L1123.2 506.2L1123.4 500.4L1123.5 509L1123.7 505.3L1123.8 510.9L1124 514.7L1124.1 513.8L1124.3 505.3L1124.4 507.6L1124.6 515.7L1124.7 507.7L1124.9 506.5L1125 507L1125.2 504.3L1125.3 515.9L1125.5 513.5L1125.6 514.2L1125.8 508.6L1125.9 503.7L1126.1 511.3L1126.2 507.8L1126.4 505.6L1126.5 511.5L1126.7 505.9L1126.8 510L1127 502L1127.1 503.5L1127.3 511.6L1127.4 512L1127.6 501.8L1127.7 513.6L1127.9 504.7L1128 511.6L1128.2 515.1L1128.3 502.4L1128.5 507.9L1128.6 514.6L1128.7 510.9L1128.9 513.2L1129 514.4L1129.2 510.5L1129.3 505.3L1129.5 516.6L1129.6 507.9L1129.8 516.9L1129.9 510.5L1130.1 517L1130.2 516.5L1130.4 513.5L1130.5 506.1L1130.6 506.8L1130.8 511.2L1130.9 512L1131.1 510.1L1131.2 498.9L1131.4 509.2L1131.5 511.4L1131.7 513L1131.8 512.3L1131.9 508.2L1132.1 508.4L1132.2 522.5L1132.4 502L1132.5 509.1L1132.7 511.5L1132.8 499.8L1132.9 518.5L1133.1 517.1L1133.2 506.4L1133.4 511.3L1133.5 507.4L1133.6 506L1133.8 503.5L1133.9 508.5L1134.1 514.4L1134.2 519.5L1134.4 511L1134.5 520L1134.6 511.4L1134.8 515.4L1134.9 510L1135.1 508.7L1135.2 512L1135.3 518.3L1135.5 511.2L1135.6 515.3L1135.8 510.6L1135.9 514.1L1136 502.1L1136.2 514.6L1136.3 521.4L1136.5 516.4L1136.6 511.8L1136.7 500.5L1136.9 506.1L1137 515.1L1137.2 512.3L1137.3 518.1L1137.4 519.4L1137.6 508.3L1137.7 510.7L1137.8 516.1L1138 516L1138.1 510.7L1138.3 509.7L1138.4 516.5L1138.5 521L1138.7 508.8L1138.8 516.3L1138.9 521.7L1139.1 513.8L1139.2 512L1139.3 508.7L1139.5 515.1L1139.6 511.8L1139.8 519.2L1139.9 511.1L1140 520.6L1140.2 510.5L1140.3 512.5L1140.4 520.6L1140.6 516.3L1140.7 506.1L1140.8 518.5L1141 521.5L1141.1 514.9L1141.2 512.8L1141.4 509.9L1141.5 514.3L1141.6 515.9L1141.8 514.8L1141.9 510.3L1142.1 514.6L1142.2 511.3L1142.3 522.6L1142.5 515.6L1142.6 514.4L1142.7 509.4L1142.9 511.9L1143 513.1L1143.1 509.3L1143.3 513.4L1143.4 500.8L1143.5 518.6L1143.6 513.7L1143.8 506.2L1143.9 510.8L1144 512.9L1144.2 509.8L1144.3 516.6L1144.4 513.9L1144.6 513.7L1144.7 506L1144.8 513.1L1145 505.5L1145.1 514.8L1145.2 513.5L1145.4 523L1145.5 511.9L1145.6 524.5L1145.8 511.8L1145.9 510.4L1146 513.1L1146.1 520L1146.3 516.3L1146.4 528.4L1146.5 518.5L1146.7 514.1L1146.8 515.2L1146.9 517L1147.1 509.4L1147.2 513.7L1147.3 515.4L1147.4 514.6L1147.6 520.6L1147.7 516.4L1147.8 525.3L1148 529.6L1148.1 517.4L1148.2 511.5L1148.3 521.1L1148.5 514.1L1148.6 524.5L1148.7 516.1L1148.9 515.9L1149 516.1L1149.1 523.1L1149.2 513.6L1149.4 512.9L1149.5 513.7L1149.6 506.2L1149.8 517.9L1149.9 515.4L1150 510.8L1150.1 522.8L1150.3 520.7L1150.4 511.4L1150.5 518.1L1150.6 520.3L1150.8 514.2L1150.9 523.1L1151 515.9L1151.1 521.6L1151.3 519.8L1151.4 530.2L1151.5 515.7L1151.7 515.6L1151.8 517.6L1151.9 520L1152 515.8L1152.2 510.3L1152.3 512.9L1152.4 520.4L1152.5 515.9L1152.7 518.2L1152.8 514.6L1152.9 521L1153 510.4L1153.2 520.9L1153.3 522.1L1153.4 515.6L1153.5 509.9L1153.6 525.6L1153.8 517.1L1153.9 514.5L1154 505.6L1154.1 524.8L1154.3 512.3L1154.4 521.1L1154.5 519.1L1154.6 513.2L1154.8 517.4L1154.9 524.4L1155 518.8L1155.1 519.6L1155.3 517L1155.4 522.4L1155.5 521.3L1155.6 519.6L1155.7 517.9L1155.9 518.9L1156 516.1L1156.1 515.2L1156.2 516.7L1156.4 521.5L1156.5 526L1156.6 522.7L1156.7 521.7L1156.8 519.8L1157 514.4L1157.1 519L1157.2 523.4L1157.3 525.3L1157.5 519.4L1157.6 520.2L1157.7 524.2L1157.8 527.2L1157.9 520.8L1158.1 517.3L1158.2 518.2L1158.3 526.5L1158.4 521.4L1158.5 520.3L1158.7 524.1L1158.8 519.9L1158.9 522.6L1159 515.2L1159.1 522.7L1159.3 512.2L1159.4 514.9L1159.5 517.8L1159.6 518.4L1159.7 513.1L1159.9 521.3L1160 517.6L1160.1 520.8L1160.2 512.6L1160.3 521.1L1160.5 520.9L1160.6 533.3L1160.7 518.6L1160.8 521.6L1160.9 517.2L1161 527.2L1161.2 524.2L1161.3 514L1161.4 523.8L1161.5 519.2L1161.6 515.9L1161.8 519.8L1161.9 519.9L1162 514.7L1162.1 522.9L1162.2 517.6L1162.3 521.7L1162.5 526L1162.6 520.2L1162.7 514.4L1162.8 521.3L1162.9 523.9L1163 521.6L1163.2 523L1163.3 518.3L1163.4 525.7L1163.5 516.6L1163.6 518.8L1163.7 515.2L1163.9 523.1L1164 516.5L1164.1 525.9L1164.2 518.2L1164.3 522.1L1164.4 526.6L1164.6 517.4L1164.7 514.5L1164.8 513L1164.9 519.1L1165 522.4L1165.1 514.5L1165.3 526L1165.4 520.7L1165.5 528.9L1165.6 520.8L1165.7 520.3L1165.8 523.6L1165.9 516.7L1166.1 522.3L1166.2 519.5L1166.3 519.2L1166.4 522.4L1166.5 535.2L1166.6 523.9L1166.7 521.2L1166.9 527L1167 521.8L1167.1 529.6L1167.2 519.2L1167.3 519.2L1167.4 520.3L1167.5 524.7L1167.7 520.9L1167.8 528.7L1167.9 526.3L1168 520.5L1168.1 525.9L1168.2 523.8L1168.3 522.7L1168.4 517.7L1168.6 526.1L1168.7 525.5L1168.8 526.3L1168.9 531.3L1169 522L1169.1 533.7L1169.2 527.1L1169.4 517L1169.5 523.1L1169.6 535L1169.7 528.3L1169.8 515.6L1169.9 524.7L1170 514.8L1170.1 526.2L1170.2 536.3L1170.4 522.3L1170.5 524.8L1170.6 522.3L1170.7 529L1170.8 529.2L1170.9 526.7L1171 529.2L1171.1 519.8L1171.3 518.6L1171.4 525L1171.5 519.5L1171.6 527.5L1171.7 525.7L1171.8 532.8L1171.9 518.3L1172 526.9L1172.1 518.3L1172.2 518.4L1172.4 521.8L1172.5 523.2L1172.6 529.6L1172.7 520.3L1172.8 521.4L1172.9 519.2L1173 522.7L1173.1 530.7L1173.2 530.2L1173.3 520.1L1173.5 516.9L1173.6 525.9L1173.7 525L1173.8 523.1L1173.9 523.7L1174 523.3L1174.1 526.1L1174.2 524L1174.3 527.8L1174.4 525.6L1174.6 521.8L1174.7 524.9L1174.8 528.3L1174.9 523.8L1175 530.9L1175.1 528.6L1175.2 530.7L1175.3 524.1L1175.4 522.4L1175.5 527.4L1175.6 530.1L1175.7 523.3L1175.9 524.5L1176 533.8L1176.1 521.1L1176.2 521.4L1176.3 527.2L1176.4 526.3L1176.5 526.5L1176.6 528.5L1176.7 524L1176.8 529.8L1176.9 527.8L1177 525.6L1177.1 535.2L1177.3 529L1177.4 532.9L1177.5 528.9L1177.6 529.2L1177.7 527.7L1177.8 526.1L1177.9 532.2L1178 525.6L1178.1 536L1178.2 522.6L1178.3 527.6L1178.4 523.4L1178.5 537.4L1178.6 520.8L1178.7 528.9L1178.9 525.8L1179 527L1179.1 527.9L1179.2 530L1179.3 538.3L1179.4 521.7L1179.5 518.8L1179.6 530.8L1179.7 521.3L1179.8 523.2L1179.9 526L1180 528.4L1180.1 524.9L1180.2 531.1L1180.3 529.5L1180.4 530.6L1180.5 531.7L1180.6 530.7L1180.8 525L1180.9 524.7L1181 532.2L1181.1 528.4L1181.2 529.1L1181.3 537.3L1181.4 522.7L1181.5 533.9L1181.6 522.7L1181.7 540.8L1181.8 532.3L1181.9 524.6L1182 526.2L1182.1 525.9L1182.2 528.6L1182.3 518.7L1182.4 528.1L1182.5 526.8L1182.6 532.2L1182.7 532.7L1182.8 522L1182.9 522L1183 538.3L1183.1 531.5L1183.3 522.6L1183.4 528.3L1183.5 524L1183.6 538.4L1183.7 527.9L1183.8 528.8L1183.9 528.6L1184 532.3L1184.1 529.2L1184.2 520.5L1184.3 534.7L1184.4 529.4L1184.5 530.7L1184.6 530.5L1184.7 520.5L1184.8 521.6L1184.9 531.2L1185 526.7L1185.1 533.6L1185.2 527.8L1185.3 531.3L1185.4 522.3L1185.5 527.2L1185.6 535.1L1185.7 539.2L1185.8 535.5L1185.9 519.6L1186 534.8L1186.1 537.3L1186.2 533.3L1186.3 532.4L1186.4 526.8L1186.5 533.9L1186.6 521.9L1186.7 530L1186.8 528.5L1186.9 523.1L1187 529.2L1187.1 528.5L1187.2 527L1187.3 534L1187.4 533.1L1187.5 526.9L1187.6 534.5L1187.7 533.4L1187.8 525.8L1187.9 527.5L1188 528.8L1188.1 536.6L1188.2 521.1L1188.3 531.4L1188.4 532.4L1188.5 531.7L1188.6 535.2L1188.7 532.3L1188.8 521.2L1188.9 539.1L1189 520.3L1189.1 536.1L1189.2 536.1L1189.3 524.4L1189.4 521.9L1189.5 533.3L1189.6 527.2L1189.7 535.5L1189.8 533.3L1189.9 535.5L1190 530.9L1190.1 535.1L1190.2 531L1190.3 533.6L1190.4 531.9L1190.5 531.6L1190.6 535.6L1190.7 534.1L1190.8 538.3L1190.9 529.6L1191 528.5L1191.1 534.2L1191.2 533.9L1191.3 535.3L1191.4 534.9L1191.5 531.8L1191.6 541.8L1191.7 540.5L1191.8 532.4L1191.9 528.3L1192 536.5L1192.1 528.8L1192.2 528.2L1192.3 532.4L1192.4 522.2L1192.5 533.6L1192.6 532.4L1192.7 539.2L1192.8 538.6L1192.9 532.7L1193 530.3L1193.1 534.4L1193.2 533.6L1193.3 532.9L1193.4 529.7L1193.5 542.9L1193.6 529.6L1193.7 538.2L1193.8 531.2L1193.9 529.8L1194 541.5L1194.1 528.3L1194.2 533.7L1194.3 536.9L1194.4 525.3L1194.5 541.1L1194.6 542.5L1194.7 533.3L1194.7 532.1L1194.8 535.6L1194.9 531.5L1195 547.8L1195.1 529.5L1195.2 533.6L1195.3 540.4L1195.4 541.1L1195.5 532.2L1195.6 532.6L1195.7 538.1L1195.8 534.1L1195.9 534.5L1196 529.2L1196.1 539.7L1196.2 529.6L1196.3 534.1L1196.4 534.4L1196.5 532L1196.6 537.3L1196.7 542.5L1196.8 543.8L1196.9 529.7L1197 544.4L1197.1 529.6L1197.1 538.7L1197.2 529.4L1197.3 539.9L1197.4 533.4L1197.5 534.1L1197.6 531.1L1197.7 537.2L1197.8 532.8L1197.9 527.3L1198 542.6L1198.1 529.9L1198.2 540.9L1198.3 530.3L1198.4 537.3L1198.5 528L1198.6 536.6L1198.7 538L1198.8 530L1198.9 536.6L1199 536.4L1199 530.5L1199.1 528.3L1199.2 531L1199.3 546L1199.4 533.7L1199.5 533.9L1199.6 531L1199.7 530.1L1199.8 530.3L1199.9 532.9L1200 525.5L1200.1 536.2L1200.2 539L1200.3 542.3L1200.4 537.5L1200.5 531.5L1200.5 535.3L1200.6 528.5L1200.7 535.5L1200.8 538.4L1200.9 528L1201 536.6L1201.1 529.8L1201.2 548.2L1201.3 542.7L1201.4 538.5L1201.5 541.3L1201.6 534.5L1201.7 535.4L1201.8 534.7L1201.9 540.6L1201.9 540.6L1202 539.5L1202.1 528.6L1202.2 537.6L1202.3 531.6L1202.4 540.7L1202.5 544.1L1202.6 535.8L1202.7 531.6L1202.8 545.8L1202.9 539.6L1203 533.6L1203.1 538.3L1203.2 538.5L1203.2 533L1203.3 536.2L1203.4 536.1L1203.5 539.8L1203.6 535.7L1203.7 539.9L1203.8 530.1L1203.9 555.3L1204 536.7L1204.1 533.6L1204.2 542.5L1204.3 534.3L1204.3 541.3L1204.4 533.9L1204.5 529.2L1204.6 538.8L1204.7 526.6L1204.8 537.8L1204.9 551.6L1205 539.9L1205.1 537.1L1205.2 536.7L1205.3 538L1205.4 536L1205.4 539L1205.5 531.3L1205.6 536.4L1205.7 538.9L1205.8 529L1205.9 545.3L1206 548.9L1206.1 542L1206.2 553.1L1206.3 535.8L1206.3 540.1L1206.4 528L1206.5 543.6L1206.6 545.1L1206.7 535.1L1206.8 535.3L1206.9 535.2L1207 541.9L1207.1 541.9L1207.2 535.9L1207.3 539.7L1207.3 535.8L1207.4 533.1L1207.5 540.5L1207.6 536L1207.7 549.9L1207.8 530.9L1207.9 531.3L1208 538.1L1208.1 540.2L1208.2 538.2L1208.2 537.6L1208.3 539.3L1208.4 542.5L1208.5 537.4L1208.6 532.8L1208.7 549.9L1208.8 541.8L1208.9 543.6L1209 545.4L1209 539.3L1209.1 551.9L1209.2 541.6L1209.3 535L1209.4 534.8L1209.5 535.9L1209.6 537.7L1209.7 535.3L1209.8 538.7L1209.8 537L1209.9 535.8L1210 532L1210.1 534.2L1210.2 535L1210.3 547.9L1210.4 538.2L1210.5 538.8L1210.6 542.6L1210.6 545.5L1210.7 536.4L1210.8 539.4L1210.9 541.6L1211 546.1L1211.1 544.2L1211.2 542.9L1211.3 538.5L1211.4 531.9L1211.4 539.2L1211.5 551.7L1211.6 538.1L1211.7 538L1211.8 546.2L1211.9 548L1212 540.6L1212.1 536.8L1212.1 538.6L1212.2 532.8L1212.3 541.6L1212.4 540.9L1212.5 545.8L1212.6 536L1212.7 540L1212.8 538.3L1212.8 554.5L1212.9 551.5L1213 539.4L1213.1 538.2L1213.2 543.8L1213.3 543.2L1213.4 537.8L1213.5 546.2L1213.5 541.6L1213.6 547.1L1213.7 545.1L1213.8 537.5L1213.9 551.9L1214 546.1L1214.1 556.7L1214.2 540.3L1214.2 541L1214.3 527.7L1214.4 544.3L1214.5 540.9L1214.6 536.4L1214.7 538.6L1214.8 543.8L1214.8 535.8L1214.9 558.5L1215 539.7L1215.1 546.5L1215.2 546.7L1215.3 548.4L1215.4 540.7L1215.4 548.4L1215.5 541.8L1215.6 533.7L1215.7 546.7L1215.8 542.2L1215.9 546.2L1216 550.4L1216.1 539.8L1216.1 536.5L1216.2 546.7L1216.3 542.8L1216.4 543.9L1216.5 547.3L1216.6 538.8L1216.7 555L1216.7 535.5L1216.8 546.3L1216.9 534.2L1217 540.7L1217.1 543.9L1217.2 553.3L1217.3 551.1L1217.3 540L1217.4 547.8L1217.5 539L1217.6 551.1L1217.7 538.1L1217.8 544L1217.8 541.7L1217.9 549L1218 546.4L1218.1 541.3L1218.2 543.2L1218.3 549.6L1218.4 543L1218.4 552.8L1218.5 533.8L1218.6 541.2L1218.7 547.2L1218.8 546.1L1218.9 550.3L1218.9 544L1219 561.3L1219.1 544.7L1219.2 535.7L1219.3 557.2L1219.4 543.8L1219.5 547.9L1219.5 545.7L1219.6 551.6L1219.7 539.5L1219.8 552.4L1219.9 539.6L1220 539.1L1220 543.7L1220.1 541.7L1220.2 556.6L1220.3 548.7L1220.4 560.1L1220.5 541.6L1220.5 538.9L1220.6 553.8L1220.7 543.9L1220.8 546.4L1220.9 556.5L1221 547.2L1221.1 544.7L1221.1 539.8L1221.2 545.8L1221.3 541.7L1221.4 535.1L1221.5 539L1221.6 549.6L1221.6 542.2L1221.7 536.2L1221.8 531.1L1221.9 540.8L1222 538.7L1222.1 540.1L1222.1 534.2L1222.2 539.9L1222.3 539.1L1222.4 550.2L1222.5 546.9L1222.6 554L1222.6 550.2L1222.7 543.4L1222.8 539.1L1222.9 539.4L1223 542.5L1223 533.9L1223.1 552.6L1223.2 545.3L1223.3 537.3L1223.4 543.1L1223.5 544.3L1223.5 540L1223.6 549.4L1223.7 549.4L1223.8 547.5L1223.9 535.7L1224 552.9L1224 548.9L1224.1 533.7L1224.2 543.4L1224.3 547.1L1224.4 556.7L1224.5 544.8L1224.5 545.9L1224.6 540.6L1224.7 550.7L1224.8 549.7L1224.9 541.3L1224.9 551.5L1225 537.5L1225.1 547L1225.2 543.7L1225.3 549.4L1225.4 537.1L1225.4 549.4L1225.5 539L1225.6 549.1L1225.7 544L1225.8 551.2L1225.8 542L1225.9 537.9L1226 549.2L1226.1 536.6L1226.2 545.8L1226.2 550.6L1226.3 544.9L1226.4 549L1226.5 545.1L1226.6 549.3L1226.7 555.9L1226.7 539.8L1226.8 545.3L1226.9 548.6L1227 543.3L1227.1 554.8L1227.1 548.1L1227.2 542.9L1227.3 539.4L1227.4 545.8L1227.5 542.1L1227.5 557.3L1227.6 547L1227.7 542.2L1227.8 539.8L1227.9 553.9L1227.9 538.5L1228 534.1L1228.1 546L1228.2 557.4L1228.3 543.4L1228.4 543.6L1228.4 549.8L1228.5 539.8L1228.6 537.7L1228.7 553.3L1228.8 553.6L1228.8 546.1L1228.9 541L1229 555.1L1229.1 552.4L1229.2 549.4L1229.2 552.7L1229.3 549.4L1229.4 542.6L1229.5 553.3L1229.6 544.1L1229.6 548.2L1229.7 549.8L1229.8 556.6L1229.9 547L1230 545.3L1230 553.1L1230.1 543.3L1230.2 542.8L1230.3 547.5L1230.4 553.6L1230.4 549L1230.5 543.2L1230.6 543.4L1230.7 549L1230.8 549.7L1230.8 544.3L1230.9 544.8L1231 542.9L1231.1 555.1L1231.1 549.3L1231.2 543.7L1231.3 552.9L1231.4 547.9L1231.5 552.9L1231.5 543.3L1231.6 541.5L1231.7 551.7L1231.8 536.2L1231.9 544.1L1231.9 550.5L1232 545.8L1232.1 551.4L1232.2 543.1L1232.3 549.7L1232.3 553.9L1232.4 550.3L1232.5 556.5L1232.6 563.2L1232.7 557.6L1232.7 546.2L1232.8 552.6L1232.9 547.2L1233 552.1L1233 549.8L1233.1 547.8L1233.2 544.8L1233.3 555.3L1233.4 554.6L1233.4 549.3L1233.5 541L1233.6 548.1L1233.7 550.8L1233.7 550.6L1233.8 551.2L1233.9 553.4L1234 544.9L1234.1 539.7L1234.1 548.3L1234.2 558.6L1234.3 561L1234.4 539.5L1234.5 560.6L1234.5 537.5L1234.6 547.3L1234.7 550.8L1234.8 545.3L1234.8 549.9L1234.9 541.1L1235 553L1235.1 548.4L1235.2 553.4L1235.2 547.3L1235.3 545.8L1235.4 558.2L1235.5 560.3L1235.5 544.9L1235.6 546.1L1235.7 547.8L1235.8 554.7L1235.9 557.5L1235.9 556.7L1236 550.5L1236.1 556.5L1236.2 556.6L1236.2 548.6L1236.3 541.6L1236.4 540.3L1236.5 549.3L1236.5 544.4L1236.6 548L1236.7 548.7L1236.8 551.3L1236.9 554.5L1236.9 554L1237 549.6L1237.1 543L1237.2 559.2L1237.2 554.3L1237.3 558.1L1237.4 547.3L1237.5 538L1237.5 548.4L1237.6 559.2L1237.7 548.6L1237.8 540.5L1237.9 556.1L1237.9 565.9L1238 564L1238.1 549L1238.2 563.5L1238.2 543.1L1238.3 567.1L1238.4 552.8L1238.5 559.8L1238.5 547L1238.6 549.8L1238.7 548.4L1238.8 547.8L1238.8 556.9L1238.9 551.5L1239 557.7L1239.1 554.4L1239.2 551.1L1239.2 554.7L1239.3 561L1239.4 560.5L1239.5 559.6L1239.5 559.2L1239.6 559.6L1239.7 544.8L1239.8 547.8L1239.8 550.8L1239.9 544.8L1240 549.6L1240.1 555.6L1240.1 546.2L1240.2 549.8L1240.3 566.1L1240.4 540.4L1240.4 553.6L1240.5 563.8L1240.6 545.4L1240.7 552.2L1240.7 552.1L1240.8 544.9L1240.9 548L1241 551.1L1241 551.7L1241.1 552.5L1241.2 554.2L1241.3 561.7L1241.3 547.1L1241.4 553.2L1241.5 553.9L1241.6 549L1241.6 557.5L1241.7 555.9L1241.8 549.5L1241.9 554.8L1241.9 560.3L1242 560L1242.1 537.9L1242.2 557L1242.2 541.4L1242.3 558.2L1242.4 551.6L1242.5 556.6L1242.5 561.1L1242.6 555.9L1242.7 542.4L1242.8 558.7L1242.8 560.4L1242.9 551.8L1243 560.4L1243.1 559.2L1243.1 563.4L1243.2 548.7L1243.3 550.4L1243.4 570L1243.4 550.5L1243.5 555.9L1243.6 555L1243.7 559.2L1243.7 553.3L1243.8 551L1243.9 559.7L1244 554.8L1244 555.1L1244.1 559.8L1244.2 558.2L1244.3 555.6L1244.3 550.1L1244.4 559.1L1244.5 555L1244.6 549.2L1244.6 547.2L1244.7 564.2L1244.8 553.9L1244.9 556.6L1244.9 558.5L1245 559.6L1245.1 545.7L1245.1 549.5L1245.2 556.9L1245.3 554.7L1245.4 555.8L1245.4 556.6L1245.5 550.7L1245.6 558.3L1245.7 551.3L1245.7 564.5L1245.8 554L1245.9 556.2L1246 559L1246 553.1L1246.1 554.8L1246.2 557.6L1246.3 548.1L1246.3 556.4L1246.4 556.8L1246.5 559L1246.5 549.5L1246.6 550.3L1246.7 571.1L1246.8 561.5L1246.8 553.8L1246.9 550.5L1247 553L1247.1 556.6L1247.1 547.7L1247.2 559.1L1247.3 555.4L1247.4 556L1247.4 555.3L1247.5 561.8L1247.6 557.7L1247.6 552.1L1247.7 550.4L1247.8 551.4L1247.9 553.4L1247.9 557.8L1248 552.5L1248.1 556.5L1248.2 555.5L1248.2 553.8L1248.3 561.4L1248.4 553.2L1248.4 550.1L1248.5 566.7L1248.6 558.5L1248.7 558.8L1248.7 547.7L1248.8 556.1L1248.9 553.3L1249 552.5L1249 561.6L1249.1 565.2L1249.2 550.6L1249.2 549.7L1249.3 552L1249.4 552.4L1249.5 561.5L1249.5 561.6L1249.6 557.2L1249.7 553.5L1249.7 559.3L1249.8 559.2L1249.9 554.6L1250 548.5L1250 567.5L1250.1 558.9L1250.2 567L1250.3 569.2L1250.3 551.3L1250.4 564L1250.5 555.7L1250.5 551.4L1250.6 553.8L1250.7 564L1250.8 555.8L1250.8 558.5L1250.9 562.4L1251 560.1L1251 561.4L1251.1 552.3L1251.2 558.4L1251.3 560.8L1251.3 556L1251.4 556L1251.5 554.9L1251.5 552.7L1251.6 563.1L1251.7 561.9L1251.8 552.1L1251.8 562.9L1251.9 554.5L1252 573.1L1252 558.9L1252.1 564.1L1252.2 560.1L1252.3 556.5L1252.3 571.7L1252.4 568.7L1252.5 559.3L1252.5 566.5L1252.6 557.8L1252.7 558.8L1252.8 565.8L1252.8 553.9L1252.9 555.2L1253 556.8L1253 563L1253.1 562.8L1253.2 568.5L1253.3 573L1253.3 561.9L1253.4 555.4L1253.5 561.3L1253.5 556.3L1253.6 563.3L1253.7 562.7L1253.8 562.5L1253.8 552.9L1253.9 567.2L1254 564.3L1254 555.6L1254.1 554.4L1254.2 556.5L1254.2 545.6L1254.3 560.9L1254.4 560.1L1254.5 563.8L1254.5 562.2L1254.6 550.3L1254.7 554.2L1254.7 562.4L1254.8 552.8L1254.9 566.2L1255 550L1255 562.8L1255.1 555.7L1255.2 568.9L1255.2 559.6L1255.3 563.2L1255.4 562.1L1255.4 561.4L1255.5 571.7L1255.6 571.5L1255.7 552.9L1255.7 568.4L1255.8 575.8L1255.9 558.4L1255.9 561.1L1256 560.2L1256.1 564L1256.1 557.2L1256.2 555.9L1256.3 562.7L1256.4 558.9L1256.4 574.2L1256.5 563.1L1256.6 567.2L1256.6 568.8L1256.7 556L1256.8 575.9L1256.8 560.3L1256.9 570.7L1257 555.3L1257.1 561.1L1257.1 556.6L1257.2 563.6L1257.3 571.4L1257.3 548.4L1257.4 563.1L1257.5 569.3L1257.5 555.7L1257.6 550.2L1257.7 562.1L1257.7 565.2L1257.8 558.3L1257.9 557L1258 556.6L1258 564.2L1258.1 562.4L1258.2 559.6L1258.2 550.9L1258.3 554.9L1258.4 566.1L1258.4 559.8L1258.5 557.4L1258.6 566.3L1258.6 582.8L1258.7 561.9L1258.8 566.1L1258.9 561.2L1258.9 560.5L1259 561.9L1259.1 562.7L1259.1 556.4L1259.2 565.6L1259.3 572.7L1259.3 578.3L1259.4 559.7L1259.5 571.8L1259.5 564L1259.6 562.7L1259.7 558.2L1259.8 557.9L1259.8 562.8L1259.9 562.8L1260 553.5L1260 577.6L1260.1 564.7L1260.2 568.5L1260.2 564.3L1260.3 553L1260.4 566.6L1260.4 571.6L1260.5 573.1L1260.6 563.8L1260.6 568.2L1260.7 570.4L1260.8 556.8L1260.8 551.6L1260.9 567L1261 569.5L1261.1 560.2L1261.1 566.3L1261.2 558.9L1261.3 557.4L1261.3 561.1L1261.4 563.1L1261.5 569.8L1261.5 558.2L1261.6 557L1261.7 573.3L1261.7 567.9L1261.8 561L1261.9 562.6L1261.9 557.2L1262 570.7L1262.1 565.9L1262.1 564.6L1262.2 564.4L1262.3 557.9L1262.3 559.6L1262.4 555.9L1262.5 564.9L1262.6 568L1262.6 559.6L1262.7 562.2L1262.8 572.1L1262.8 572.5L1262.9 563.6L1263 559.1L1263 571.5L1263.1 554.7L1263.2 561.6L1263.2 565.1L1263.3 558.1L1263.4 564.8L1263.4 574.9L1263.5 568.5L1263.6 560.4L1263.6 560.2L1263.7 568.6L1263.8 566.8L1263.8 566.2L1263.9 579L1264 570.9L1264 570.4L1264.1 561.4L1264.2 575.1L1264.2 561.7L1264.3 567.8L1264.4 567.9L1264.4 579.5L1264.5 557.4L1264.6 553.4L1264.6 577.4L1264.7 569.9L1264.8 582.9L1264.8 567L1264.9 566.4L1265 566L1265 577L1265.1 554.9L1265.2 561.5L1265.2 578.8L1265.3 572.7L1265.4 569.4L1265.4 568L1265.5 557.2L1265.6 575L1265.6 571.3L1265.7 569.6L1265.8 569.6L1265.9 568.3L1265.9 565.7L1266 556.8L1266.1 559.3L1266.1 565.1L1266.2 577.8L1266.3 574.4L1266.3 574.4L1266.4 569.1L1266.5 576L1266.5 572.4L1266.6 563.1L1266.7 560.3L1266.7 569.5L1266.8 559.2L1266.8 589.1L1266.9 568.6L1267 572.4L1267 563.8L1267.1 569.5L1267.2 567.1L1267.2 565.4L1267.3 569.9L1267.4 564.9L1267.4 571.8L1267.5 577.3L1267.6 573.3L1267.6 567.8L1267.7 572.3L1267.8 574L1267.8 581.1L1267.9 575.4L1268 565.3L1268 566.7L1268.1 564.4L1268.2 572.1L1268.2 570.8L1268.3 564.9L1268.4 577L1268.4 551.8L1268.5 576.8L1268.6 566L1268.6 559.7L1268.7 574.4L1268.8 588.4L1268.8 580.5L1268.9 585.9L1269 586.6L1269 558.7L1269.1 564.1L1269.2 564.8L1269.2 576.6L1269.3 569.9L1269.4 573.4L1269.4 572.2L1269.5 572.1L1269.6 563.6L1269.6 568.3L1269.7 569.3L1269.8 571.8L1269.8 582L1269.9 567.7L1270 570L1270 559.3L1270.1 583.9L1270.1 577.6L1270.2 570.5L1270.3 568L1270.3 567.6L1270.4 571.5L1270.5 575L1270.5 570.4L1270.6 559.8L1270.7 564.9L1270.7 579.8L1270.8 574.7L1270.9 583.5L1270.9 579.3L1271 565.5L1271.1 563L1271.1 575.9L1271.2 566.8L1271.3 579.8L1271.3 565L1271.4 574.2L1271.5 572.7L1271.5 577.2L1271.6 575.6L1271.6 560L1271.7 569L1271.8 567.6L1271.8 574.1L1271.9 573.9L1272 574.3L1272 578.3L1272.1 567.4L1272.2 579.2L1272.2 567.7L1272.3 562.9L1272.4 566.9L1272.4 579.6L1272.5 562L1272.6 578.3L1272.6 574L1272.7 575.9L1272.7 578.8L1272.8 579.8L1272.9 575.7L1272.9 572.9L1273 571.6L1273.1 583L1273.1 563.1L1273.2 571.1L1273.3 571.9L1273.3 572L1273.4 567.7L1273.5 569.6L1273.5 571.1L1273.6 578.6L1273.7 568.5L1273.7 573.1L1273.8 573.2L1273.8 575.4L1273.9 570.6L1274 570.3L1274 571.1L1274.1 562.8L1274.2 567.7L1274.2 572.7L1274.3 570.2L1274.4 585.2L1274.4 567.9L1274.5 576.6L1274.6 578.9L1274.6 569.7L1274.7 581L1274.7 569.3L1274.8 578.4L1274.9 583.8L1274.9 575.3L1275 568.6L1275.1 578L1275.1 570L1275.2 574.7L1275.3 574L1275.3 567.9L1275.4 573.9L1275.4 557.4L1275.5 576.5L1275.6 580.6L1275.6 588.9L1275.7 583.3L1275.8 575.1L1275.8 587.8L1275.9 585.3L1276 572L1276 576.9L1276.1 581.7L1276.1 587.7L1276.2 580.9L1276.3 576.7L1276.3 577.4L1276.4 577L1276.5 577.6L1276.5 578.5L1276.6 573.3L1276.7 569.4L1276.7 571.3L1276.8 579.4L1276.8 570.1L1276.9 572.4L1277 572.4L1277 571.4L1277.1 571.5L1277.2 583.5L1277.2 575.9L1277.3 578.5L1277.4 583.3L1277.4 558.1L1277.5 578L1277.5 581.5L1277.6 572.6L1277.7 577.8L1277.7 579.7L1277.8 574.5L1277.9 571.8L1277.9 573.5L1278 571.2L1278 582.2L1278.1 582.9L1278.2 567.5L1278.2 584L1278.3 572.9L1278.4 579.4L1278.4 586.5L1278.5 572.8L1278.6 571.5L1278.6 594.1L1278.7 582.8L1278.7 576.3L1278.8 592L1278.9 573.9L1278.9 593.4L1279 568.1L1279.1 585L1279.1 576.6L1279.2 587.7L1279.2 569.1L1279.3 580.9L1279.4 584.2L1279.4 576.9L1279.5 579.7L1279.6 600.2L1279.6 582.1L1279.7 576.5L1279.7 584.5L1279.8 576.7L1279.9 579.9L1279.9 572.8L1280 581.7L1280.1 568.4L1280.1 582.3L1280.2 578.6L1280.2 581.4L1280.3 586.5L1280.4 579.2L1280.4 582.9L1280.5 572.9L1280.6 578.9L1280.6 572.3L1280.7 572.5L1280.7 581.4L1280.8 579.6L1280.9 561.9L1280.9 572L1281 576.6L1281.1 567.4L1281.1 583.4L1281.2 589.9L1281.2 572L1281.3 581.2L1281.4 590.6L1281.4 584L1281.5 578.2L1281.6 586.3L1281.6 578.3L1281.7 574.4L1281.7 575.6L1281.8 571.7L1281.9 589.8L1281.9 564.8L1282 595.3L1282 584.7L1282.1 588.1L1282.2 575.4L1282.2 577.7L1282.3 570.6L1282.4 572.8L1282.4 574.1L1282.5 579.8L1282.5 576.8L1282.6 581.6L1282.7 572.3L1282.7 574.9L1282.8 571.1L1282.9 578.4L1282.9 580.6L1283 575.6L1283 582.9L1283.1 581.4L1283.2 586.2L1283.2 576.3L1283.3 578.3L1283.3 584.7L1283.4 567.2L1283.5 576.3L1283.5 581.8L1283.6 586.8L1283.7 586.4L1283.7 581.4L1283.8 592.7L1283.8 587.1L1283.9 579.2L1284 575L1284 589.4L1284.1 573.2L1284.1 575.6L1284.2 588.6L1284.3 591.7L1284.3 577.2L1284.4 576.9L1284.5 582.9L1284.5 576.3L1284.6 561.9L1284.6 581.5L1284.7 572.1L1284.8 584.9L1284.8 591.7L1284.9 588.9L1284.9 593.3L1285 574.7L1285.1 580L1285.1 578.7L1285.2 577.8L1285.2 586.7L1285.3 581L1285.4 585.2L1285.4 584.5L1285.5 590L1285.6 593.8L1285.6 582.2L1285.7 588L1285.7 587.4L1285.8 575.8L1285.9 581.3L1285.9 582.5L1286 583.9L1286 583.2L1286.1 575.7L1286.2 585L1286.2 571.5L1286.3 573.3L1286.3 592.1L1286.4 585.2L1286.5 576.6L1286.5 588.4L1286.6 595L1286.6 581L1286.7 573.8L1286.8 595.4L1286.8 576.1L1286.9 593.1L1286.9 589.7L1287 580.5L1287.1 586.1L1287.1 587.5L1287.2 586.5L1287.3 597.9L1287.3 574.3L1287.4 587.1L1287.4 591.8L1287.5 592.6L1287.6 580.4L1287.6 582.2L1287.7 597.7L1287.7 587.9L1287.8 595.3L1287.9 581.8L1287.9 589.2L1288 580.4L1288 580.1L1288.1 577.2L1288.2 587.4L1288.2 588L1288.3 583.5L1288.3 578.3L1288.4 587.4L1288.5 588L1288.5 578.1L1288.6 598.6L1288.6 575L1288.7 585.7L1288.8 582.5L1288.8 577.5L1288.9 591L1288.9 583.2L1289 576.9L1289.1 582.8L1289.1 579.8L1289.2 589.9L1289.2 580L1289.3 583.6L1289.4 588L1289.4 594.9L1289.5 582.2L1289.5 593L1289.6 583L1289.7 575.6L1289.7 587.9L1289.8 582.9L1289.8 593.6L1289.9 580.3L1290 601.7L1290 585.6L1290.1 594.4L1290.1 593.1L1290.2 593.1L1290.3 575.3L1290.3 592.7L1290.4 576.5L1290.4 586.7L1290.5 591.1L1290.6 586.6L1290.6 587.5L1290.7 587.2L1290.7 579.4L1290.8 599.4L1290.9 584.4L1290.9 586.7L1291 583.8L1291 592.1L1291.1 574.8L1291.2 584.1L1291.2 593.6L1291.3 590L1291.3 588.6L1291.4 590.4L1291.4 580.5L1291.5 595.1L1291.6 570.7L1291.6 590.4L1291.7 588.3L1291.7 588.4L1291.8 583.1L1291.9 603.9L1291.9 587.6L1292 582.2L1292 590L1292.1 584.4L1292.2 575.7L1292.2 595.4L1292.3 593.7L1292.3 587.8L1292.4 586.3L1292.5 588.2L1292.5 594.3L1292.6 593.1L1292.6 591.6L1292.7 584.8L1292.7 571.5L1292.8 587.3L1292.9 599.7L1292.9 576.7L1293 591L1293 582.6L1293.1 585.1L1293.2 588.8L1293.2 587.4L1293.3 605.2L1293.3 581.2L1293.4 608.5L1293.5 578.5L1293.5 589.3" fill="none" stroke="#C40F2E" stroke-width="0.7" stroke-linejoin="round" stroke-linecap="butt" />
</g>
<rect x="955.1" y="392.8" width="338.4" height="272.5" fill="none" stroke="#111" stroke-width="2.2"/>
<line x1="955.1" y1="401.7" x2="952.1" y2="401.7" stroke="#111" stroke-width="1.6" />
<line x1="955.1" y1="411.7" x2="952.1" y2="411.7" stroke="#111" stroke-width="1.6" />
<line x1="955.1" y1="423" x2="952.1" y2="423" stroke="#111" stroke-width="1.6" />
<line x1="955.1" y1="436.1" x2="952.1" y2="436.1" stroke="#111" stroke-width="1.6" />
<line x1="955.1" y1="451.5" x2="952.1" y2="451.5" stroke="#111" stroke-width="1.6" />
<line x1="955.1" y1="470.4" x2="952.1" y2="470.4" stroke="#111" stroke-width="1.6" />
<line x1="955.1" y1="494.8" x2="952.1" y2="494.8" stroke="#111" stroke-width="1.6" />
<line x1="955.1" y1="529.1" x2="952.1" y2="529.1" stroke="#111" stroke-width="1.6" />
<line x1="955.1" y1="596.7" x2="952.1" y2="596.7" stroke="#111" stroke-width="1.6" />
<line x1="955.1" y1="606.7" x2="952.1" y2="606.7" stroke="#111" stroke-width="1.6" />
<line x1="955.1" y1="618" x2="952.1" y2="618" stroke="#111" stroke-width="1.6" />
<line x1="955.1" y1="631.1" x2="952.1" y2="631.1" stroke="#111" stroke-width="1.6" />
<line x1="955.1" y1="646.5" x2="952.1" y2="646.5" stroke="#111" stroke-width="1.6" />
<line x1="955.1" y1="587.8" x2="949.5" y2="587.8" stroke="#111" stroke-width="1.8" />
<text x="946.3" y="398.4" font-size="15" fill="#222" text-anchor="end" >1</text>
<text x="944.6" y="593.1" font-size="15" fill="#222" text-anchor="end" >0.1</text>
<line x1="1041.9" y1="665.3" x2="1041.9" y2="668.3" stroke="#111" stroke-width="1.6" />
<line x1="1085.8" y1="665.3" x2="1085.8" y2="668.3" stroke="#111" stroke-width="1.6" />
<line x1="1117" y1="665.3" x2="1117" y2="668.3" stroke="#111" stroke-width="1.6" />
<line x1="1141.2" y1="665.3" x2="1141.2" y2="668.3" stroke="#111" stroke-width="1.6" />
<line x1="1161" y1="665.3" x2="1161" y2="668.3" stroke="#111" stroke-width="1.6" />
<line x1="1177.7" y1="665.3" x2="1177.7" y2="668.3" stroke="#111" stroke-width="1.6" />
<line x1="1192.2" y1="665.3" x2="1192.2" y2="668.3" stroke="#111" stroke-width="1.6" />
<line x1="1205" y1="665.3" x2="1205" y2="668.3" stroke="#111" stroke-width="1.6" />
<line x1="1291.6" y1="665.3" x2="1291.6" y2="668.3" stroke="#111" stroke-width="1.6" />
<line x1="966.7" y1="665.3" x2="966.7" y2="671.1" stroke="#111" stroke-width="1.8" />
<line x1="1216.4" y1="665.3" x2="1216.4" y2="671.1" stroke="#111" stroke-width="1.8" />
<text x="964.3" y="686" font-size="15" fill="#222" text-anchor="middle" >0.1</text>
<text x="1216.2" y="686" font-size="15" fill="#222" text-anchor="middle" >1</text>
<text x="1116.5" y="699.6" font-size="18" fill="#222" text-anchor="middle" >Time (μs)</text>
<text x="920.1" y="528.1" font-size="18" fill="#222" text-anchor="middle" transform="rotate(-90 920.1 528.1)" textLength="187.6" lengthAdjust="spacingAndGlyphs" >Normalized PL Intensity</text>
<text x="897.5" y="392.8" font-size="26" fill="#111" text-anchor="start" >f</text>
<text x="1081.4" y="431" font-size="16" fill="#888" text-anchor="start" textLength="184" lengthAdjust="spacingAndGlyphs" >Weighted average lifetime:</text>
<text x="1106.6" y="450.2" font-size="16" fill="#C8102E" text-anchor="start" >2F: 310 ns</text>
<text x="1106.6" y="468.8" font-size="16" fill="#3E78B8" text-anchor="start" >2PACz: 50 ns</text>
<circle cx="1084.3" cy="444.6" r="1.9" fill="#C8102E"/>
<circle cx="1084.3" cy="463.4" r="1.9" fill="#3E78B8"/>
<line x1="968.7" y1="612.5" x2="1007.7" y2="612.5" stroke="#E0607A" stroke-width="1.0" />
<line x1="968.7" y1="634.9" x2="1007.7" y2="634.9" stroke="#8FB0D8" stroke-width="1.0" />
<text x="1012.2" y="618.6" font-size="18" fill="#222" text-anchor="start" textLength="58.6" lengthAdjust="spacingAndGlyphs" >PAFTB</text>
<text x="1012.2" y="641.2" font-size="18" fill="#222" text-anchor="start" textLength="56.6" lengthAdjust="spacingAndGlyphs" >2PACz</text>
</g>
</svg>
</body></html>
